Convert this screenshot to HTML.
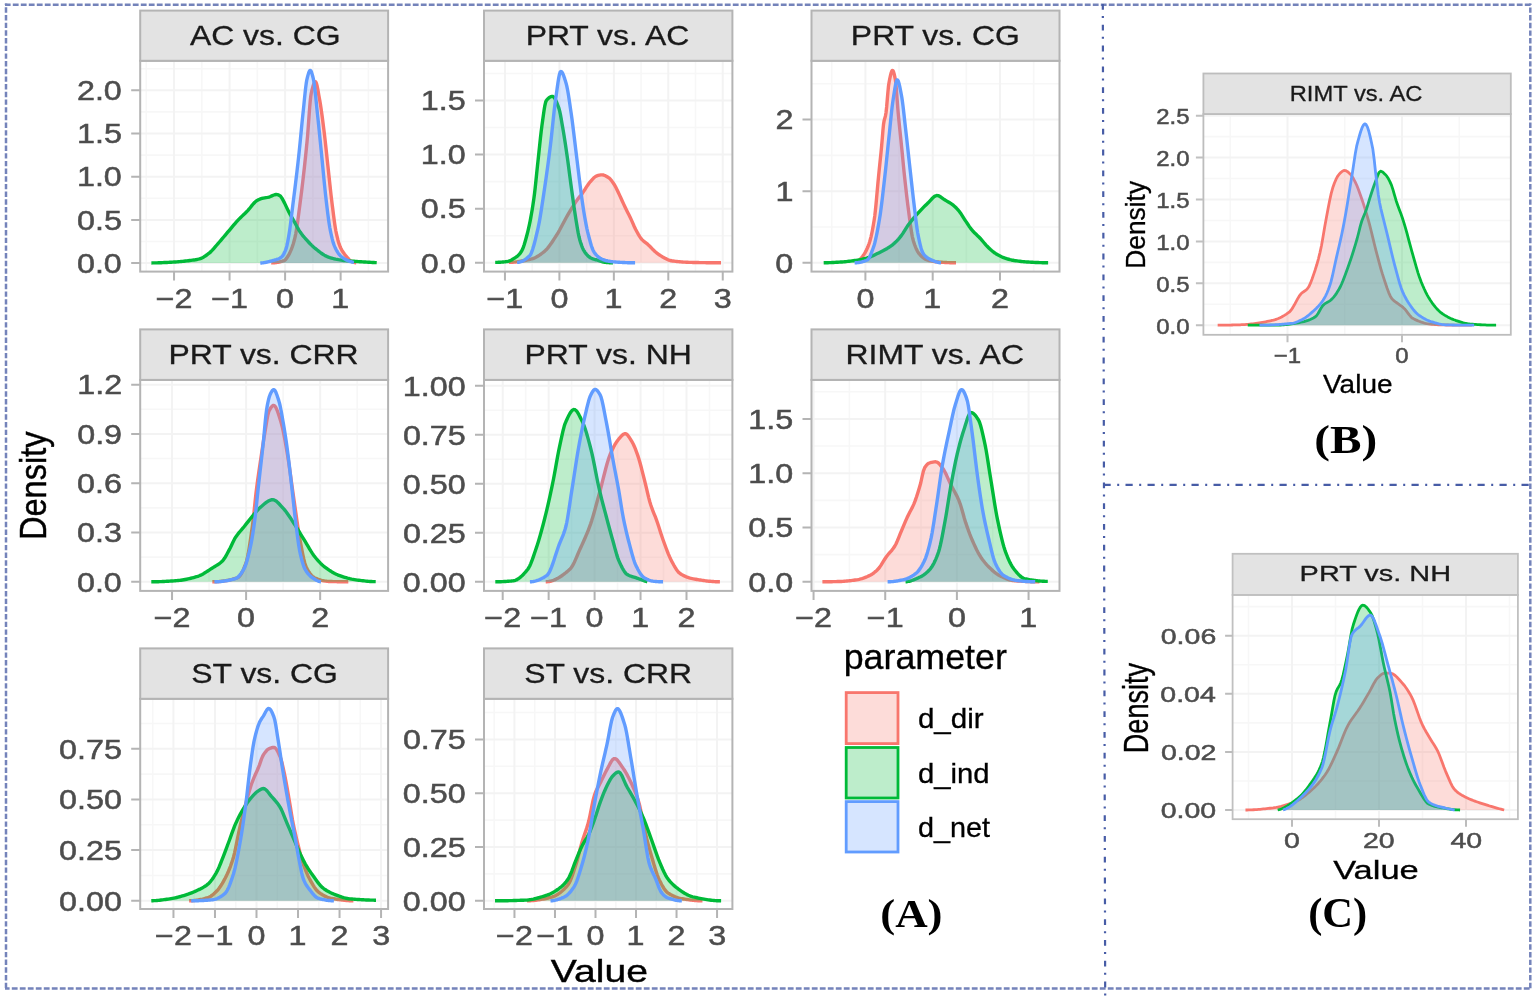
<!DOCTYPE html>
<html><head><meta charset="utf-8"><title>Density plots</title>
<style>html,body{margin:0;padding:0;background:#fff;overflow:hidden;}svg{display:block;}</style>
</head><body>
<svg width="1535" height="999" viewBox="0 0 1535 999">
<rect width="1535" height="999" fill="#fff"/>
<clipPath id="c0"><rect x="140.2" y="60.8" width="247.9" height="210.8"/></clipPath>
<g clip-path="url(#c0)">
<path d="M146.28 60.8 V271.6 M201.81 60.8 V271.6 M257.34 60.8 V271.6 M312.87 60.8 V271.6 M368.4 60.8 V271.6 M140.2 241.5 H388.1 M140.2 198.3 H388.1 M140.2 155.1 H388.1 M140.2 111.9 H388.1 M140.2 68.7 H388.1" stroke="#f7f7f7" stroke-width="1.6" fill="none"/>
<path d="M174.04 60.8 V271.6 M229.57 60.8 V271.6 M285.1 60.8 V271.6 M340.63 60.8 V271.6 M140.2 263.1 H388.1 M140.2 219.9 H388.1 M140.2 176.7 H388.1 M140.2 133.5 H388.1 M140.2 90.3 H388.1" stroke="#f3f3f3" stroke-width="2.0" fill="none"/>
<path d="M271.22 262.93 L271.75 262.92 L272.29 262.91 L272.82 262.89 L273.35 262.86 L273.89 262.83 L274.42 262.78 L274.96 262.73 L275.49 262.67 L276.03 262.6 L276.56 262.52 L277.1 262.44 L277.63 262.34 L278.16 262.24 L278.7 262.13 L279.23 262.01 L279.77 261.89 L280.3 261.75 L280.84 261.61 L281.37 261.46 L281.9 261.3 L282.44 261.14 L282.97 260.96 L283.51 260.78 L284.04 260.59 L284.58 260.36 L285.11 259.98 L285.64 259.46 L286.18 258.81 L286.71 258.07 L287.25 257.26 L287.78 256.4 L288.32 255.51 L288.85 254.61 L289.39 253.62 L289.92 252.56 L290.45 251.4 L290.99 250.16 L291.52 248.82 L292.06 247.38 L292.59 245.84 L293.13 244.19 L293.66 242.44 L294.19 240.56 L294.73 238.56 L295.26 236.22 L295.8 233.5 L296.33 230.43 L296.87 227.06 L297.4 223.44 L297.93 219.61 L298.47 215.63 L299 211.54 L299.54 207.38 L300.07 203.2 L300.61 199.04 L301.14 194.92 L301.68 190.68 L302.21 186.32 L302.74 181.84 L303.28 177.24 L303.81 172.53 L304.35 167.7 L304.88 162.76 L305.42 157.7 L305.95 152.55 L306.48 147.28 L307.02 141.91 L307.55 136.03 L308.09 129.2 L308.62 121.86 L309.16 114.46 L309.69 107.44 L310.22 101.23 L310.76 96.3 L311.29 93.07 L311.83 90.75 L312.36 88.58 L312.9 86.61 L313.43 84.9 L313.97 83.5 L314.5 82.48 L315.03 81.88 L315.57 81.79 L316.1 82.52 L316.64 84.07 L317.17 86.25 L317.71 88.9 L318.24 91.85 L318.77 94.93 L319.31 97.96 L319.84 100.87 L320.38 104.02 L320.91 107.46 L321.45 111.13 L321.98 115.01 L322.51 119.03 L323.05 123.16 L323.58 127.36 L324.12 131.64 L324.65 136.17 L325.19 140.91 L325.72 145.8 L326.26 150.78 L326.79 155.79 L327.32 160.77 L327.86 165.66 L328.39 170.52 L328.93 175.49 L329.46 180.5 L330 185.49 L330.53 190.4 L331.06 195.18 L331.6 199.76 L332.13 204.09 L332.67 208.33 L333.2 212.58 L333.74 216.74 L334.27 220.74 L334.8 224.51 L335.34 227.96 L335.87 231.02 L336.41 233.62 L336.94 235.99 L337.48 238.22 L338.01 240.28 L338.55 242.18 L339.08 243.9 L339.61 245.44 L340.15 246.79 L340.68 247.96 L341.22 249.02 L341.75 250.02 L342.29 250.94 L342.82 251.8 L343.35 252.61 L343.89 253.36 L344.42 254.08 L344.96 254.76 L345.49 255.41 L346.03 256.04 L346.56 256.65 L347.09 257.26 L347.63 257.88 L348.16 258.48 L348.7 259.07 L349.23 259.63 L349.77 260.15 L350.3 260.62 L350.83 261.03 L351.37 261.37 L351.9 261.63 L352.44 261.84 L352.97 262.05 L353.51 262.24 L354.04 262.41 L354.58 262.55 L355.11 262.66 L355.64 262.73 L356.18 262.75 L356.18 263.1 L271.22 263.1 Z" fill="#F8766D" fill-opacity="0.26" stroke="none"/>
<path d="M271.22 262.93 L271.75 262.92 L272.29 262.91 L272.82 262.89 L273.35 262.86 L273.89 262.83 L274.42 262.78 L274.96 262.73 L275.49 262.67 L276.03 262.6 L276.56 262.52 L277.1 262.44 L277.63 262.34 L278.16 262.24 L278.7 262.13 L279.23 262.01 L279.77 261.89 L280.3 261.75 L280.84 261.61 L281.37 261.46 L281.9 261.3 L282.44 261.14 L282.97 260.96 L283.51 260.78 L284.04 260.59 L284.58 260.36 L285.11 259.98 L285.64 259.46 L286.18 258.81 L286.71 258.07 L287.25 257.26 L287.78 256.4 L288.32 255.51 L288.85 254.61 L289.39 253.62 L289.92 252.56 L290.45 251.4 L290.99 250.16 L291.52 248.82 L292.06 247.38 L292.59 245.84 L293.13 244.19 L293.66 242.44 L294.19 240.56 L294.73 238.56 L295.26 236.22 L295.8 233.5 L296.33 230.43 L296.87 227.06 L297.4 223.44 L297.93 219.61 L298.47 215.63 L299 211.54 L299.54 207.38 L300.07 203.2 L300.61 199.04 L301.14 194.92 L301.68 190.68 L302.21 186.32 L302.74 181.84 L303.28 177.24 L303.81 172.53 L304.35 167.7 L304.88 162.76 L305.42 157.7 L305.95 152.55 L306.48 147.28 L307.02 141.91 L307.55 136.03 L308.09 129.2 L308.62 121.86 L309.16 114.46 L309.69 107.44 L310.22 101.23 L310.76 96.3 L311.29 93.07 L311.83 90.75 L312.36 88.58 L312.9 86.61 L313.43 84.9 L313.97 83.5 L314.5 82.48 L315.03 81.88 L315.57 81.79 L316.1 82.52 L316.64 84.07 L317.17 86.25 L317.71 88.9 L318.24 91.85 L318.77 94.93 L319.31 97.96 L319.84 100.87 L320.38 104.02 L320.91 107.46 L321.45 111.13 L321.98 115.01 L322.51 119.03 L323.05 123.16 L323.58 127.36 L324.12 131.64 L324.65 136.17 L325.19 140.91 L325.72 145.8 L326.26 150.78 L326.79 155.79 L327.32 160.77 L327.86 165.66 L328.39 170.52 L328.93 175.49 L329.46 180.5 L330 185.49 L330.53 190.4 L331.06 195.18 L331.6 199.76 L332.13 204.09 L332.67 208.33 L333.2 212.58 L333.74 216.74 L334.27 220.74 L334.8 224.51 L335.34 227.96 L335.87 231.02 L336.41 233.62 L336.94 235.99 L337.48 238.22 L338.01 240.28 L338.55 242.18 L339.08 243.9 L339.61 245.44 L340.15 246.79 L340.68 247.96 L341.22 249.02 L341.75 250.02 L342.29 250.94 L342.82 251.8 L343.35 252.61 L343.89 253.36 L344.42 254.08 L344.96 254.76 L345.49 255.41 L346.03 256.04 L346.56 256.65 L347.09 257.26 L347.63 257.88 L348.16 258.48 L348.7 259.07 L349.23 259.63 L349.77 260.15 L350.3 260.62 L350.83 261.03 L351.37 261.37 L351.9 261.63 L352.44 261.84 L352.97 262.05 L353.51 262.24 L354.04 262.41 L354.58 262.55 L355.11 262.66 L355.64 262.73 L356.18 262.75" fill="none" stroke="#F8766D" stroke-width="3.4" stroke-linejoin="round" stroke-linecap="butt"/>
<path d="M151.38 262.93 L152.8 262.92 L154.22 262.9 L155.64 262.87 L157.05 262.84 L158.47 262.8 L159.89 262.75 L161.3 262.7 L162.72 262.64 L164.14 262.57 L165.56 262.51 L166.97 262.44 L168.39 262.36 L169.81 262.29 L171.23 262.21 L172.64 262.13 L174.06 262.05 L175.48 261.96 L176.89 261.86 L178.31 261.75 L179.73 261.62 L181.15 261.49 L182.56 261.35 L183.98 261.2 L185.4 261.04 L186.81 260.88 L188.23 260.71 L189.65 260.53 L191.07 260.35 L192.48 260.16 L193.9 259.96 L195.32 259.74 L196.74 259.48 L198.15 259.18 L199.57 258.82 L200.99 258.34 L202.4 257.69 L203.82 256.9 L205.24 255.99 L206.66 255.01 L208.07 253.97 L209.49 252.88 L210.91 251.62 L212.32 250.18 L213.74 248.6 L215.16 246.95 L216.58 245.27 L217.99 243.61 L219.41 242 L220.83 240.36 L222.25 238.7 L223.66 237.02 L225.08 235.33 L226.5 233.64 L227.91 231.96 L229.33 230.29 L230.75 228.59 L232.17 226.89 L233.58 225.2 L235 223.54 L236.42 221.92 L237.84 220.37 L239.25 218.89 L240.67 217.48 L242.09 216.11 L243.5 214.76 L244.92 213.4 L246.34 212.01 L247.76 210.57 L249.17 208.96 L250.59 207.21 L252.01 205.43 L253.42 203.73 L254.84 202.22 L256.26 201 L257.68 200.16 L259.09 199.49 L260.51 198.92 L261.93 198.45 L263.35 198.08 L264.76 197.81 L266.18 197.61 L267.6 197.39 L269.01 197.07 L270.43 196.53 L271.85 195.88 L273.27 195.24 L274.68 194.74 L276.1 194.5 L277.52 194.64 L278.94 195.13 L280.35 195.88 L281.77 197.91 L283.19 200.42 L284.6 203.14 L286.02 206.11 L287.44 209.13 L288.86 212.01 L290.27 214.65 L291.69 217.18 L293.11 219.67 L294.52 222.17 L295.94 224.77 L297.36 227.42 L298.78 229.93 L300.19 232.09 L301.61 234.04 L303.03 235.83 L304.45 237.52 L305.86 239.13 L307.28 240.71 L308.7 242.24 L310.11 243.71 L311.53 245.12 L312.95 246.46 L314.37 247.71 L315.78 248.88 L317.2 250.02 L318.62 251.14 L320.04 252.23 L321.45 253.27 L322.87 254.24 L324.29 255.13 L325.7 255.91 L327.12 256.57 L328.54 257.1 L329.96 257.58 L331.37 258.02 L332.79 258.43 L334.21 258.79 L335.62 259.13 L337.04 259.42 L338.46 259.69 L339.88 259.91 L341.29 260.11 L342.71 260.29 L344.13 260.45 L345.55 260.59 L346.96 260.73 L348.38 260.85 L349.8 260.97 L351.21 261.08 L352.63 261.19 L354.05 261.3 L355.47 261.41 L356.88 261.51 L358.3 261.61 L359.72 261.7 L361.13 261.79 L362.55 261.88 L363.97 261.96 L365.39 262.05 L366.8 262.13 L368.22 262.21 L369.64 262.3 L371.06 262.37 L372.47 262.45 L373.89 262.52 L375.31 262.6 L376.72 262.67 L376.72 263.1 L151.38 263.1 Z" fill="#00BA38" fill-opacity="0.26" stroke="none"/>
<path d="M151.38 262.93 L152.8 262.92 L154.22 262.9 L155.64 262.87 L157.05 262.84 L158.47 262.8 L159.89 262.75 L161.3 262.7 L162.72 262.64 L164.14 262.57 L165.56 262.51 L166.97 262.44 L168.39 262.36 L169.81 262.29 L171.23 262.21 L172.64 262.13 L174.06 262.05 L175.48 261.96 L176.89 261.86 L178.31 261.75 L179.73 261.62 L181.15 261.49 L182.56 261.35 L183.98 261.2 L185.4 261.04 L186.81 260.88 L188.23 260.71 L189.65 260.53 L191.07 260.35 L192.48 260.16 L193.9 259.96 L195.32 259.74 L196.74 259.48 L198.15 259.18 L199.57 258.82 L200.99 258.34 L202.4 257.69 L203.82 256.9 L205.24 255.99 L206.66 255.01 L208.07 253.97 L209.49 252.88 L210.91 251.62 L212.32 250.18 L213.74 248.6 L215.16 246.95 L216.58 245.27 L217.99 243.61 L219.41 242 L220.83 240.36 L222.25 238.7 L223.66 237.02 L225.08 235.33 L226.5 233.64 L227.91 231.96 L229.33 230.29 L230.75 228.59 L232.17 226.89 L233.58 225.2 L235 223.54 L236.42 221.92 L237.84 220.37 L239.25 218.89 L240.67 217.48 L242.09 216.11 L243.5 214.76 L244.92 213.4 L246.34 212.01 L247.76 210.57 L249.17 208.96 L250.59 207.21 L252.01 205.43 L253.42 203.73 L254.84 202.22 L256.26 201 L257.68 200.16 L259.09 199.49 L260.51 198.92 L261.93 198.45 L263.35 198.08 L264.76 197.81 L266.18 197.61 L267.6 197.39 L269.01 197.07 L270.43 196.53 L271.85 195.88 L273.27 195.24 L274.68 194.74 L276.1 194.5 L277.52 194.64 L278.94 195.13 L280.35 195.88 L281.77 197.91 L283.19 200.42 L284.6 203.14 L286.02 206.11 L287.44 209.13 L288.86 212.01 L290.27 214.65 L291.69 217.18 L293.11 219.67 L294.52 222.17 L295.94 224.77 L297.36 227.42 L298.78 229.93 L300.19 232.09 L301.61 234.04 L303.03 235.83 L304.45 237.52 L305.86 239.13 L307.28 240.71 L308.7 242.24 L310.11 243.71 L311.53 245.12 L312.95 246.46 L314.37 247.71 L315.78 248.88 L317.2 250.02 L318.62 251.14 L320.04 252.23 L321.45 253.27 L322.87 254.24 L324.29 255.13 L325.7 255.91 L327.12 256.57 L328.54 257.1 L329.96 257.58 L331.37 258.02 L332.79 258.43 L334.21 258.79 L335.62 259.13 L337.04 259.42 L338.46 259.69 L339.88 259.91 L341.29 260.11 L342.71 260.29 L344.13 260.45 L345.55 260.59 L346.96 260.73 L348.38 260.85 L349.8 260.97 L351.21 261.08 L352.63 261.19 L354.05 261.3 L355.47 261.41 L356.88 261.51 L358.3 261.61 L359.72 261.7 L361.13 261.79 L362.55 261.88 L363.97 261.96 L365.39 262.05 L366.8 262.13 L368.22 262.21 L369.64 262.3 L371.06 262.37 L372.47 262.45 L373.89 262.52 L375.31 262.6 L376.72 262.67" fill="none" stroke="#00BA38" stroke-width="3.4" stroke-linejoin="round" stroke-linecap="butt"/>
<path d="M260.28 263.1 L260.87 263.05 L261.46 262.99 L262.05 262.92 L262.63 262.84 L263.22 262.76 L263.81 262.66 L264.4 262.56 L264.99 262.46 L265.58 262.35 L266.17 262.23 L266.76 262.1 L267.35 261.97 L267.94 261.84 L268.53 261.7 L269.12 261.56 L269.7 261.41 L270.29 261.26 L270.88 261.11 L271.47 260.95 L272.06 260.79 L272.65 260.63 L273.24 260.47 L273.83 260.31 L274.42 260.15 L275.01 259.98 L275.6 259.81 L276.19 259.63 L276.78 259.43 L277.36 259.22 L277.95 258.99 L278.54 258.74 L279.13 258.46 L279.72 258.15 L280.31 257.82 L280.9 257.45 L281.49 257.01 L282.08 256.43 L282.67 255.69 L283.26 254.81 L283.85 253.79 L284.43 252.63 L285.02 251.35 L285.61 249.94 L286.2 248.34 L286.79 246.15 L287.38 243.45 L287.97 240.38 L288.56 237.07 L289.15 233.63 L289.74 229.73 L290.33 225.36 L290.92 220.67 L291.5 215.82 L292.09 210.96 L292.68 206.24 L293.27 201.57 L293.86 196.88 L294.45 192.18 L295.04 187.44 L295.63 182.64 L296.22 177.78 L296.81 172.84 L297.4 167.81 L297.99 162.66 L298.57 157.39 L299.16 151.93 L299.75 146.14 L300.34 140.12 L300.93 133.99 L301.52 127.88 L302.11 121.9 L302.7 116.17 L303.29 110.63 L303.88 104.81 L304.47 98.9 L305.06 93.17 L305.64 87.9 L306.23 83.37 L306.82 79.83 L307.41 77.36 L308 75.11 L308.59 73.11 L309.18 71.54 L309.77 70.57 L310.36 70.37 L310.95 71.01 L311.54 72.32 L312.13 74.15 L312.71 76.3 L313.3 78.62 L313.89 81.6 L314.48 85.71 L315.07 90.69 L315.66 96.25 L316.25 102.11 L316.84 108 L317.43 113.64 L318.02 119.12 L318.61 124.78 L319.2 130.58 L319.78 136.47 L320.37 142.42 L320.96 148.38 L321.55 154.29 L322.14 160.22 L322.73 166.32 L323.32 172.5 L323.91 178.65 L324.5 184.66 L325.09 190.43 L325.68 195.85 L326.27 200.93 L326.86 205.95 L327.44 210.86 L328.03 215.55 L328.62 219.95 L329.21 223.96 L329.8 227.51 L330.39 230.59 L330.98 233.47 L331.57 236.17 L332.16 238.66 L332.75 240.92 L333.34 242.91 L333.93 244.63 L334.51 246.08 L335.1 247.42 L335.69 248.68 L336.28 249.86 L336.87 250.95 L337.46 251.96 L338.05 252.89 L338.64 253.73 L339.23 254.49 L339.82 255.16 L340.41 255.75 L341 256.29 L341.58 256.79 L342.17 257.26 L342.76 257.71 L343.35 258.13 L343.94 258.53 L344.53 258.9 L345.12 259.25 L345.71 259.57 L346.3 259.88 L346.89 260.16 L347.48 260.43 L348.07 260.68 L348.65 260.91 L349.24 261.13 L349.83 261.34 L350.42 261.54 L351.01 261.72 L351.6 261.89 L352.19 262.05 L352.78 262.19 L353.37 262.31 L353.96 262.41 L353.96 263.1 L260.28 263.1 Z" fill="#619CFF" fill-opacity="0.26" stroke="none"/>
<path d="M260.28 263.1 L260.87 263.05 L261.46 262.99 L262.05 262.92 L262.63 262.84 L263.22 262.76 L263.81 262.66 L264.4 262.56 L264.99 262.46 L265.58 262.35 L266.17 262.23 L266.76 262.1 L267.35 261.97 L267.94 261.84 L268.53 261.7 L269.12 261.56 L269.7 261.41 L270.29 261.26 L270.88 261.11 L271.47 260.95 L272.06 260.79 L272.65 260.63 L273.24 260.47 L273.83 260.31 L274.42 260.15 L275.01 259.98 L275.6 259.81 L276.19 259.63 L276.78 259.43 L277.36 259.22 L277.95 258.99 L278.54 258.74 L279.13 258.46 L279.72 258.15 L280.31 257.82 L280.9 257.45 L281.49 257.01 L282.08 256.43 L282.67 255.69 L283.26 254.81 L283.85 253.79 L284.43 252.63 L285.02 251.35 L285.61 249.94 L286.2 248.34 L286.79 246.15 L287.38 243.45 L287.97 240.38 L288.56 237.07 L289.15 233.63 L289.74 229.73 L290.33 225.36 L290.92 220.67 L291.5 215.82 L292.09 210.96 L292.68 206.24 L293.27 201.57 L293.86 196.88 L294.45 192.18 L295.04 187.44 L295.63 182.64 L296.22 177.78 L296.81 172.84 L297.4 167.81 L297.99 162.66 L298.57 157.39 L299.16 151.93 L299.75 146.14 L300.34 140.12 L300.93 133.99 L301.52 127.88 L302.11 121.9 L302.7 116.17 L303.29 110.63 L303.88 104.81 L304.47 98.9 L305.06 93.17 L305.64 87.9 L306.23 83.37 L306.82 79.83 L307.41 77.36 L308 75.11 L308.59 73.11 L309.18 71.54 L309.77 70.57 L310.36 70.37 L310.95 71.01 L311.54 72.32 L312.13 74.15 L312.71 76.3 L313.3 78.62 L313.89 81.6 L314.48 85.71 L315.07 90.69 L315.66 96.25 L316.25 102.11 L316.84 108 L317.43 113.64 L318.02 119.12 L318.61 124.78 L319.2 130.58 L319.78 136.47 L320.37 142.42 L320.96 148.38 L321.55 154.29 L322.14 160.22 L322.73 166.32 L323.32 172.5 L323.91 178.65 L324.5 184.66 L325.09 190.43 L325.68 195.85 L326.27 200.93 L326.86 205.95 L327.44 210.86 L328.03 215.55 L328.62 219.95 L329.21 223.96 L329.8 227.51 L330.39 230.59 L330.98 233.47 L331.57 236.17 L332.16 238.66 L332.75 240.92 L333.34 242.91 L333.93 244.63 L334.51 246.08 L335.1 247.42 L335.69 248.68 L336.28 249.86 L336.87 250.95 L337.46 251.96 L338.05 252.89 L338.64 253.73 L339.23 254.49 L339.82 255.16 L340.41 255.75 L341 256.29 L341.58 256.79 L342.17 257.26 L342.76 257.71 L343.35 258.13 L343.94 258.53 L344.53 258.9 L345.12 259.25 L345.71 259.57 L346.3 259.88 L346.89 260.16 L347.48 260.43 L348.07 260.68 L348.65 260.91 L349.24 261.13 L349.83 261.34 L350.42 261.54 L351.01 261.72 L351.6 261.89 L352.19 262.05 L352.78 262.19 L353.37 262.31 L353.96 262.41" fill="none" stroke="#619CFF" stroke-width="3.4" stroke-linejoin="round" stroke-linecap="butt"/>
</g>
<rect x="140.2" y="60.8" width="247.9" height="210.8" fill="none" stroke="#b4b4b4" stroke-width="2"/>
<rect x="140.2" y="10.6" width="247.9" height="50.2" fill="#e3e3e3" stroke="#b4b4b4" stroke-width="2"/>
<text transform="translate(189.96 45.22) scale(1.1520 1)" font-size="27.7" font-family='"Liberation Sans", Arial, sans-serif' fill="#1a1a1a" stroke="#1a1a1a" stroke-width="0.3">AC vs. CG</text>
<path d="M174.04 271.6 V280.6 M229.57 271.6 V280.6 M285.1 271.6 V280.6 M340.63 271.6 V280.6 M131.2 263.1 H140.2 M131.2 219.9 H140.2 M131.2 176.7 H140.2 M131.2 133.5 H140.2 M131.2 90.3 H140.2" stroke="#b4b4b4" stroke-width="2" fill="none"/>
<text transform="translate(155.64 307.56) scale(1.2000 1)" font-size="26.9" font-family='"Liberation Sans", Arial, sans-serif' fill="#4d4d4d" stroke="#4d4d4d" stroke-width="0.5">−2</text>
<text transform="translate(211.13 307.56) scale(1.2000 1)" font-size="26.9" font-family='"Liberation Sans", Arial, sans-serif' fill="#4d4d4d" stroke="#4d4d4d" stroke-width="0.5">−1</text>
<text transform="translate(276.1 307.56) scale(1.2000 1)" font-size="26.9" font-family='"Liberation Sans", Arial, sans-serif' fill="#4d4d4d" stroke="#4d4d4d" stroke-width="0.5">0</text>
<text transform="translate(331.23 307.56) scale(1.2000 1)" font-size="26.9" font-family='"Liberation Sans", Arial, sans-serif' fill="#4d4d4d" stroke="#4d4d4d" stroke-width="0.5">1</text>
<text transform="translate(76.94 272.85) scale(1.2000 1)" font-size="26.9" font-family='"Liberation Sans", Arial, sans-serif' fill="#4d4d4d" stroke="#4d4d4d" stroke-width="0.5">0.0</text>
<text transform="translate(77.02 229.65) scale(1.2000 1)" font-size="26.9" font-family='"Liberation Sans", Arial, sans-serif' fill="#4d4d4d" stroke="#4d4d4d" stroke-width="0.5">0.5</text>
<text transform="translate(76.94 186.45) scale(1.2000 1)" font-size="26.9" font-family='"Liberation Sans", Arial, sans-serif' fill="#4d4d4d" stroke="#4d4d4d" stroke-width="0.5">1.0</text>
<text transform="translate(77.02 143.25) scale(1.2000 1)" font-size="26.9" font-family='"Liberation Sans", Arial, sans-serif' fill="#4d4d4d" stroke="#4d4d4d" stroke-width="0.5">1.5</text>
<text transform="translate(76.94 100.05) scale(1.2000 1)" font-size="26.9" font-family='"Liberation Sans", Arial, sans-serif' fill="#4d4d4d" stroke="#4d4d4d" stroke-width="0.5">2.0</text>
<clipPath id="c1"><rect x="484" y="60.8" width="248.4" height="210.8"/></clipPath>
<g clip-path="url(#c1)">
<path d="M532.17 60.8 V271.6 M586.62 60.8 V271.6 M641.08 60.8 V271.6 M695.52 60.8 V271.6 M484 235.75 H732.4 M484 181.65 H732.4 M484 127.55 H732.4 M484 73.45 H732.4" stroke="#f7f7f7" stroke-width="1.6" fill="none"/>
<path d="M504.95 60.8 V271.6 M559.4 60.8 V271.6 M613.85 60.8 V271.6 M668.3 60.8 V271.6 M722.75 60.8 V271.6 M484 262.8 H732.4 M484 208.7 H732.4 M484 154.6 H732.4 M484 100.5 H732.4" stroke="#f3f3f3" stroke-width="2.0" fill="none"/>
<path d="M508.76 262.37 L510.1 262.35 L511.43 262.31 L512.77 262.23 L514.1 262.13 L515.44 262.01 L516.77 261.86 L518.11 261.68 L519.44 261.49 L520.78 261.27 L522.11 261.04 L523.45 260.79 L524.78 260.52 L526.11 260.23 L527.45 259.93 L528.78 259.62 L530.12 259.3 L531.45 258.96 L532.79 258.58 L534.12 258.09 L535.46 257.49 L536.79 256.8 L538.13 256.02 L539.46 255.16 L540.8 254.23 L542.13 253.24 L543.47 252.2 L544.8 251.1 L546.14 249.8 L547.47 248.31 L548.81 246.65 L550.14 244.85 L551.48 242.94 L552.81 240.95 L554.15 238.91 L555.48 236.84 L556.82 234.78 L558.15 232.6 L559.49 230.25 L560.82 227.78 L562.16 225.25 L563.49 222.71 L564.83 220.19 L566.16 217.76 L567.5 215.45 L568.83 213.18 L570.17 210.93 L571.5 208.7 L572.84 206.52 L574.17 204.4 L575.51 202.35 L576.84 200.4 L578.18 198.57 L579.51 196.92 L580.85 195.32 L582.18 193.6 L583.51 191.65 L584.85 189.55 L586.18 187.42 L587.52 185.4 L588.85 183.54 L590.19 181.8 L591.52 180.3 L592.86 178.85 L594.19 177.52 L595.53 176.49 L596.86 175.89 L598.2 175.47 L599.53 175.13 L600.87 174.9 L602.2 174.84 L603.54 175.04 L604.87 175.5 L606.21 176.17 L607.54 176.96 L608.88 177.82 L610.21 179.02 L611.55 180.62 L612.88 182.48 L614.22 184.47 L615.55 186.78 L616.89 189.45 L618.22 192.3 L619.56 195.15 L620.89 198 L622.23 200.95 L623.56 203.92 L624.9 206.81 L626.23 209.56 L627.57 212.21 L628.9 214.84 L630.24 217.53 L631.57 220.38 L632.91 223.42 L634.24 226.46 L635.58 229.29 L636.91 231.8 L638.24 234.19 L639.58 236.41 L640.91 238.34 L642.25 239.87 L643.58 241.11 L644.92 242.16 L646.25 243.16 L647.59 244.21 L648.92 245.41 L650.26 246.77 L651.59 248.19 L652.93 249.59 L654.26 250.88 L655.6 252.01 L656.93 253.07 L658.27 254.07 L659.6 255.02 L660.94 255.89 L662.27 256.68 L663.61 257.41 L664.94 258.15 L666.28 258.87 L667.61 259.52 L668.95 260.07 L670.28 260.5 L671.62 260.78 L672.95 260.98 L674.29 261.16 L675.62 261.34 L676.96 261.49 L678.29 261.64 L679.63 261.77 L680.96 261.88 L682.3 261.99 L683.63 262.08 L684.97 262.16 L686.3 262.23 L687.64 262.29 L688.97 262.34 L690.31 262.37 L691.64 262.41 L692.98 262.44 L694.31 262.47 L695.64 262.5 L696.98 262.53 L698.31 262.56 L699.65 262.58 L700.98 262.61 L702.32 262.63 L703.65 262.65 L704.99 262.67 L706.32 262.69 L707.66 262.71 L708.99 262.73 L710.33 262.74 L711.66 262.76 L713 262.77 L714.33 262.78 L715.67 262.79 L717 262.79 L718.34 262.8 L719.67 262.8 L721.01 262.8 L721.01 262.8 L508.76 262.8 Z" fill="#F8766D" fill-opacity="0.26" stroke="none"/>
<path d="M508.76 262.37 L510.1 262.35 L511.43 262.31 L512.77 262.23 L514.1 262.13 L515.44 262.01 L516.77 261.86 L518.11 261.68 L519.44 261.49 L520.78 261.27 L522.11 261.04 L523.45 260.79 L524.78 260.52 L526.11 260.23 L527.45 259.93 L528.78 259.62 L530.12 259.3 L531.45 258.96 L532.79 258.58 L534.12 258.09 L535.46 257.49 L536.79 256.8 L538.13 256.02 L539.46 255.16 L540.8 254.23 L542.13 253.24 L543.47 252.2 L544.8 251.1 L546.14 249.8 L547.47 248.31 L548.81 246.65 L550.14 244.85 L551.48 242.94 L552.81 240.95 L554.15 238.91 L555.48 236.84 L556.82 234.78 L558.15 232.6 L559.49 230.25 L560.82 227.78 L562.16 225.25 L563.49 222.71 L564.83 220.19 L566.16 217.76 L567.5 215.45 L568.83 213.18 L570.17 210.93 L571.5 208.7 L572.84 206.52 L574.17 204.4 L575.51 202.35 L576.84 200.4 L578.18 198.57 L579.51 196.92 L580.85 195.32 L582.18 193.6 L583.51 191.65 L584.85 189.55 L586.18 187.42 L587.52 185.4 L588.85 183.54 L590.19 181.8 L591.52 180.3 L592.86 178.85 L594.19 177.52 L595.53 176.49 L596.86 175.89 L598.2 175.47 L599.53 175.13 L600.87 174.9 L602.2 174.84 L603.54 175.04 L604.87 175.5 L606.21 176.17 L607.54 176.96 L608.88 177.82 L610.21 179.02 L611.55 180.62 L612.88 182.48 L614.22 184.47 L615.55 186.78 L616.89 189.45 L618.22 192.3 L619.56 195.15 L620.89 198 L622.23 200.95 L623.56 203.92 L624.9 206.81 L626.23 209.56 L627.57 212.21 L628.9 214.84 L630.24 217.53 L631.57 220.38 L632.91 223.42 L634.24 226.46 L635.58 229.29 L636.91 231.8 L638.24 234.19 L639.58 236.41 L640.91 238.34 L642.25 239.87 L643.58 241.11 L644.92 242.16 L646.25 243.16 L647.59 244.21 L648.92 245.41 L650.26 246.77 L651.59 248.19 L652.93 249.59 L654.26 250.88 L655.6 252.01 L656.93 253.07 L658.27 254.07 L659.6 255.02 L660.94 255.89 L662.27 256.68 L663.61 257.41 L664.94 258.15 L666.28 258.87 L667.61 259.52 L668.95 260.07 L670.28 260.5 L671.62 260.78 L672.95 260.98 L674.29 261.16 L675.62 261.34 L676.96 261.49 L678.29 261.64 L679.63 261.77 L680.96 261.88 L682.3 261.99 L683.63 262.08 L684.97 262.16 L686.3 262.23 L687.64 262.29 L688.97 262.34 L690.31 262.37 L691.64 262.41 L692.98 262.44 L694.31 262.47 L695.64 262.5 L696.98 262.53 L698.31 262.56 L699.65 262.58 L700.98 262.61 L702.32 262.63 L703.65 262.65 L704.99 262.67 L706.32 262.69 L707.66 262.71 L708.99 262.73 L710.33 262.74 L711.66 262.76 L713 262.77 L714.33 262.78 L715.67 262.79 L717 262.79 L718.34 262.8 L719.67 262.8 L721.01 262.8" fill="none" stroke="#F8766D" stroke-width="3.4" stroke-linejoin="round" stroke-linecap="butt"/>
<path d="M495.2 262.37 L495.94 262.36 L496.69 262.35 L497.43 262.33 L498.17 262.31 L498.91 262.28 L499.65 262.24 L500.39 262.2 L501.13 262.15 L501.87 262.09 L502.61 262.03 L503.36 261.97 L504.1 261.89 L504.84 261.82 L505.58 261.74 L506.32 261.65 L507.06 261.56 L507.8 261.41 L508.54 261.2 L509.28 260.94 L510.02 260.64 L510.77 260.3 L511.51 259.92 L512.25 259.51 L512.99 259.08 L513.73 258.63 L514.47 258.17 L515.21 257.7 L515.95 257.2 L516.69 256.66 L517.44 256.06 L518.18 255.39 L518.92 254.64 L519.66 253.82 L520.4 252.89 L521.14 251.87 L521.88 250.64 L522.62 249.06 L523.36 247.15 L524.11 244.98 L524.85 242.58 L525.59 239.99 L526.33 237.27 L527.07 234.46 L527.81 231.58 L528.55 228.48 L529.29 225.14 L530.03 221.54 L530.77 217.68 L531.52 213.56 L532.26 209.18 L533 204.53 L533.74 199.61 L534.48 194.02 L535.22 187.54 L535.96 180.51 L536.7 173.25 L537.44 166.09 L538.19 159.28 L538.93 152.3 L539.67 145.21 L540.41 138.27 L541.15 131.75 L541.89 125.91 L542.63 120.61 L543.37 115.18 L544.11 110.03 L544.86 105.57 L545.6 102.26 L546.34 100.53 L547.08 99.64 L547.82 98.84 L548.56 98.15 L549.3 97.56 L550.04 97.09 L550.78 96.73 L551.52 96.5 L552.27 96.39 L553.01 96.5 L553.75 97.04 L554.49 97.95 L555.23 99.2 L555.97 100.71 L556.71 102.44 L557.45 104.33 L558.19 106.33 L558.94 108.41 L559.68 111.17 L560.42 114.66 L561.16 118.66 L561.9 122.93 L562.64 127.24 L563.38 131.5 L564.12 136 L564.86 140.73 L565.6 145.62 L566.35 150.64 L567.09 155.75 L567.83 161.03 L568.57 166.54 L569.31 172.19 L570.05 177.85 L570.79 183.44 L571.53 188.87 L572.27 194.32 L573.02 199.77 L573.76 205.12 L574.5 210.26 L575.24 215.11 L575.98 219.72 L576.72 224.33 L577.46 228.77 L578.2 232.88 L578.94 236.48 L579.69 239.4 L580.43 241.9 L581.17 244.19 L581.91 246.27 L582.65 248.11 L583.39 249.71 L584.13 251.04 L584.87 252.13 L585.61 253.14 L586.35 254.07 L587.1 254.93 L587.84 255.7 L588.58 256.39 L589.32 256.99 L590.06 257.51 L590.8 257.95 L591.54 258.3 L592.28 258.61 L593.02 258.88 L593.77 259.13 L594.51 259.35 L595.25 259.55 L595.99 259.76 L596.73 259.96 L597.47 260.17 L598.21 260.4 L598.95 260.65 L599.69 260.9 L600.44 261.16 L601.18 261.4 L601.92 261.64 L602.66 261.85 L603.4 262.04 L604.14 262.2 L604.88 262.32 L605.62 262.4 L606.36 262.46 L607.1 262.53 L607.85 262.58 L608.59 262.64 L609.33 262.68 L610.07 262.72 L610.81 262.76 L611.55 262.78 L612.29 262.79 L613.03 262.8 L613.03 262.8 L495.2 262.8 Z" fill="#00BA38" fill-opacity="0.26" stroke="none"/>
<path d="M495.2 262.37 L495.94 262.36 L496.69 262.35 L497.43 262.33 L498.17 262.31 L498.91 262.28 L499.65 262.24 L500.39 262.2 L501.13 262.15 L501.87 262.09 L502.61 262.03 L503.36 261.97 L504.1 261.89 L504.84 261.82 L505.58 261.74 L506.32 261.65 L507.06 261.56 L507.8 261.41 L508.54 261.2 L509.28 260.94 L510.02 260.64 L510.77 260.3 L511.51 259.92 L512.25 259.51 L512.99 259.08 L513.73 258.63 L514.47 258.17 L515.21 257.7 L515.95 257.2 L516.69 256.66 L517.44 256.06 L518.18 255.39 L518.92 254.64 L519.66 253.82 L520.4 252.89 L521.14 251.87 L521.88 250.64 L522.62 249.06 L523.36 247.15 L524.11 244.98 L524.85 242.58 L525.59 239.99 L526.33 237.27 L527.07 234.46 L527.81 231.58 L528.55 228.48 L529.29 225.14 L530.03 221.54 L530.77 217.68 L531.52 213.56 L532.26 209.18 L533 204.53 L533.74 199.61 L534.48 194.02 L535.22 187.54 L535.96 180.51 L536.7 173.25 L537.44 166.09 L538.19 159.28 L538.93 152.3 L539.67 145.21 L540.41 138.27 L541.15 131.75 L541.89 125.91 L542.63 120.61 L543.37 115.18 L544.11 110.03 L544.86 105.57 L545.6 102.26 L546.34 100.53 L547.08 99.64 L547.82 98.84 L548.56 98.15 L549.3 97.56 L550.04 97.09 L550.78 96.73 L551.52 96.5 L552.27 96.39 L553.01 96.5 L553.75 97.04 L554.49 97.95 L555.23 99.2 L555.97 100.71 L556.71 102.44 L557.45 104.33 L558.19 106.33 L558.94 108.41 L559.68 111.17 L560.42 114.66 L561.16 118.66 L561.9 122.93 L562.64 127.24 L563.38 131.5 L564.12 136 L564.86 140.73 L565.6 145.62 L566.35 150.64 L567.09 155.75 L567.83 161.03 L568.57 166.54 L569.31 172.19 L570.05 177.85 L570.79 183.44 L571.53 188.87 L572.27 194.32 L573.02 199.77 L573.76 205.12 L574.5 210.26 L575.24 215.11 L575.98 219.72 L576.72 224.33 L577.46 228.77 L578.2 232.88 L578.94 236.48 L579.69 239.4 L580.43 241.9 L581.17 244.19 L581.91 246.27 L582.65 248.11 L583.39 249.71 L584.13 251.04 L584.87 252.13 L585.61 253.14 L586.35 254.07 L587.1 254.93 L587.84 255.7 L588.58 256.39 L589.32 256.99 L590.06 257.51 L590.8 257.95 L591.54 258.3 L592.28 258.61 L593.02 258.88 L593.77 259.13 L594.51 259.35 L595.25 259.55 L595.99 259.76 L596.73 259.96 L597.47 260.17 L598.21 260.4 L598.95 260.65 L599.69 260.9 L600.44 261.16 L601.18 261.4 L601.92 261.64 L602.66 261.85 L603.4 262.04 L604.14 262.2 L604.88 262.32 L605.62 262.4 L606.36 262.46 L607.1 262.53 L607.85 262.58 L608.59 262.64 L609.33 262.68 L610.07 262.72 L610.81 262.76 L611.55 262.78 L612.29 262.79 L613.03 262.8" fill="none" stroke="#00BA38" stroke-width="3.4" stroke-linejoin="round" stroke-linecap="butt"/>
<path d="M517.09 262.37 L517.83 262.34 L518.58 262.26 L519.32 262.13 L520.06 261.94 L520.8 261.71 L521.54 261.43 L522.29 261.11 L523.03 260.74 L523.77 260.32 L524.51 259.87 L525.26 259.38 L526 258.85 L526.74 258.28 L527.48 257.68 L528.22 257.04 L528.97 256.38 L529.71 255.68 L530.45 254.68 L531.19 253.25 L531.93 251.45 L532.68 249.3 L533.42 246.87 L534.16 244.2 L534.9 241.33 L535.64 238.31 L536.39 235.18 L537.13 232 L537.87 228.81 L538.61 225.4 L539.36 221.57 L540.1 217.37 L540.84 212.89 L541.58 208.19 L542.32 203.34 L543.07 198.4 L543.81 193.46 L544.55 188.55 L545.29 183.53 L546.03 178.38 L546.78 173.11 L547.52 167.71 L548.26 162.18 L549 156.53 L549.74 150.75 L550.49 144.83 L551.23 138.44 L551.97 131.53 L552.71 124.39 L553.46 117.28 L554.2 110.48 L554.94 104.27 L555.68 98.9 L556.42 93.65 L557.17 88.24 L557.91 83.02 L558.65 78.36 L559.39 74.63 L560.13 72.19 L560.88 71.4 L561.62 71.8 L562.36 72.81 L563.1 74.32 L563.84 76.22 L564.59 78.39 L565.33 80.73 L566.07 83.13 L566.81 86.06 L567.55 89.76 L568.3 94.06 L569.04 98.81 L569.78 103.84 L570.52 108.99 L571.27 114.1 L572.01 119.36 L572.75 125 L573.49 130.93 L574.23 137.03 L574.98 143.21 L575.72 149.36 L576.46 155.38 L577.2 161.37 L577.94 167.47 L578.69 173.6 L579.43 179.69 L580.17 185.66 L580.91 191.44 L581.65 196.95 L582.4 202.2 L583.14 207.26 L583.88 212.02 L584.62 216.41 L585.37 220.62 L586.11 224.62 L586.85 228.34 L587.59 231.67 L588.33 234.62 L589.08 237.49 L589.82 240.28 L590.56 242.94 L591.3 245.42 L592.04 247.66 L592.79 249.62 L593.53 251.24 L594.27 252.48 L595.01 253.45 L595.75 254.35 L596.5 255.17 L597.24 255.92 L597.98 256.59 L598.72 257.2 L599.46 257.74 L600.21 258.22 L600.95 258.63 L601.69 258.98 L602.43 259.28 L603.18 259.56 L603.92 259.82 L604.66 260.07 L605.4 260.31 L606.14 260.53 L606.89 260.74 L607.63 260.93 L608.37 261.1 L609.11 261.26 L609.85 261.41 L610.6 261.53 L611.34 261.64 L612.08 261.73 L612.82 261.81 L613.56 261.87 L614.31 261.93 L615.05 261.98 L615.79 262.04 L616.53 262.09 L617.28 262.15 L618.02 262.2 L618.76 262.24 L619.5 262.29 L620.24 262.34 L620.99 262.38 L621.73 262.42 L622.47 262.46 L623.21 262.5 L623.95 262.53 L624.7 262.57 L625.44 262.6 L626.18 262.63 L626.92 262.65 L627.66 262.68 L628.41 262.7 L629.15 262.72 L629.89 262.74 L630.63 262.76 L631.38 262.77 L632.12 262.78 L632.86 262.79 L633.6 262.79 L634.34 262.8 L635.09 262.8 L635.09 262.8 L517.09 262.8 Z" fill="#619CFF" fill-opacity="0.26" stroke="none"/>
<path d="M517.09 262.37 L517.83 262.34 L518.58 262.26 L519.32 262.13 L520.06 261.94 L520.8 261.71 L521.54 261.43 L522.29 261.11 L523.03 260.74 L523.77 260.32 L524.51 259.87 L525.26 259.38 L526 258.85 L526.74 258.28 L527.48 257.68 L528.22 257.04 L528.97 256.38 L529.71 255.68 L530.45 254.68 L531.19 253.25 L531.93 251.45 L532.68 249.3 L533.42 246.87 L534.16 244.2 L534.9 241.33 L535.64 238.31 L536.39 235.18 L537.13 232 L537.87 228.81 L538.61 225.4 L539.36 221.57 L540.1 217.37 L540.84 212.89 L541.58 208.19 L542.32 203.34 L543.07 198.4 L543.81 193.46 L544.55 188.55 L545.29 183.53 L546.03 178.38 L546.78 173.11 L547.52 167.71 L548.26 162.18 L549 156.53 L549.74 150.75 L550.49 144.83 L551.23 138.44 L551.97 131.53 L552.71 124.39 L553.46 117.28 L554.2 110.48 L554.94 104.27 L555.68 98.9 L556.42 93.65 L557.17 88.24 L557.91 83.02 L558.65 78.36 L559.39 74.63 L560.13 72.19 L560.88 71.4 L561.62 71.8 L562.36 72.81 L563.1 74.32 L563.84 76.22 L564.59 78.39 L565.33 80.73 L566.07 83.13 L566.81 86.06 L567.55 89.76 L568.3 94.06 L569.04 98.81 L569.78 103.84 L570.52 108.99 L571.27 114.1 L572.01 119.36 L572.75 125 L573.49 130.93 L574.23 137.03 L574.98 143.21 L575.72 149.36 L576.46 155.38 L577.2 161.37 L577.94 167.47 L578.69 173.6 L579.43 179.69 L580.17 185.66 L580.91 191.44 L581.65 196.95 L582.4 202.2 L583.14 207.26 L583.88 212.02 L584.62 216.41 L585.37 220.62 L586.11 224.62 L586.85 228.34 L587.59 231.67 L588.33 234.62 L589.08 237.49 L589.82 240.28 L590.56 242.94 L591.3 245.42 L592.04 247.66 L592.79 249.62 L593.53 251.24 L594.27 252.48 L595.01 253.45 L595.75 254.35 L596.5 255.17 L597.24 255.92 L597.98 256.59 L598.72 257.2 L599.46 257.74 L600.21 258.22 L600.95 258.63 L601.69 258.98 L602.43 259.28 L603.18 259.56 L603.92 259.82 L604.66 260.07 L605.4 260.31 L606.14 260.53 L606.89 260.74 L607.63 260.93 L608.37 261.1 L609.11 261.26 L609.85 261.41 L610.6 261.53 L611.34 261.64 L612.08 261.73 L612.82 261.81 L613.56 261.87 L614.31 261.93 L615.05 261.98 L615.79 262.04 L616.53 262.09 L617.28 262.15 L618.02 262.2 L618.76 262.24 L619.5 262.29 L620.24 262.34 L620.99 262.38 L621.73 262.42 L622.47 262.46 L623.21 262.5 L623.95 262.53 L624.7 262.57 L625.44 262.6 L626.18 262.63 L626.92 262.65 L627.66 262.68 L628.41 262.7 L629.15 262.72 L629.89 262.74 L630.63 262.76 L631.38 262.77 L632.12 262.78 L632.86 262.79 L633.6 262.79 L634.34 262.8 L635.09 262.8" fill="none" stroke="#619CFF" stroke-width="3.4" stroke-linejoin="round" stroke-linecap="butt"/>
</g>
<rect x="484" y="60.8" width="248.4" height="210.8" fill="none" stroke="#b4b4b4" stroke-width="2"/>
<rect x="484" y="10.6" width="248.4" height="50.2" fill="#e3e3e3" stroke="#b4b4b4" stroke-width="2"/>
<text transform="translate(525.63 45.22) scale(1.1520 1)" font-size="27.7" font-family='"Liberation Sans", Arial, sans-serif' fill="#1a1a1a" stroke="#1a1a1a" stroke-width="0.3">PRT vs. AC</text>
<path d="M504.95 271.6 V280.6 M559.4 271.6 V280.6 M613.85 271.6 V280.6 M668.3 271.6 V280.6 M722.75 271.6 V280.6 M475 262.8 H484 M475 208.7 H484 M475 154.6 H484 M475 100.5 H484" stroke="#b4b4b4" stroke-width="2" fill="none"/>
<text transform="translate(486.51 307.56) scale(1.2000 1)" font-size="26.9" font-family='"Liberation Sans", Arial, sans-serif' fill="#4d4d4d" stroke="#4d4d4d" stroke-width="0.5">−1</text>
<text transform="translate(550.4 307.56) scale(1.2000 1)" font-size="26.9" font-family='"Liberation Sans", Arial, sans-serif' fill="#4d4d4d" stroke="#4d4d4d" stroke-width="0.5">0</text>
<text transform="translate(604.45 307.56) scale(1.2000 1)" font-size="26.9" font-family='"Liberation Sans", Arial, sans-serif' fill="#4d4d4d" stroke="#4d4d4d" stroke-width="0.5">1</text>
<text transform="translate(659.34 307.56) scale(1.2000 1)" font-size="26.9" font-family='"Liberation Sans", Arial, sans-serif' fill="#4d4d4d" stroke="#4d4d4d" stroke-width="0.5">2</text>
<text transform="translate(713.87 307.56) scale(1.2000 1)" font-size="26.9" font-family='"Liberation Sans", Arial, sans-serif' fill="#4d4d4d" stroke="#4d4d4d" stroke-width="0.5">3</text>
<text transform="translate(420.74 272.55) scale(1.2000 1)" font-size="26.9" font-family='"Liberation Sans", Arial, sans-serif' fill="#4d4d4d" stroke="#4d4d4d" stroke-width="0.5">0.0</text>
<text transform="translate(420.82 218.45) scale(1.2000 1)" font-size="26.9" font-family='"Liberation Sans", Arial, sans-serif' fill="#4d4d4d" stroke="#4d4d4d" stroke-width="0.5">0.5</text>
<text transform="translate(420.74 164.35) scale(1.2000 1)" font-size="26.9" font-family='"Liberation Sans", Arial, sans-serif' fill="#4d4d4d" stroke="#4d4d4d" stroke-width="0.5">1.0</text>
<text transform="translate(420.82 110.25) scale(1.2000 1)" font-size="26.9" font-family='"Liberation Sans", Arial, sans-serif' fill="#4d4d4d" stroke="#4d4d4d" stroke-width="0.5">1.5</text>
<clipPath id="c2"><rect x="811.5" y="60.8" width="248" height="210.8"/></clipPath>
<g clip-path="url(#c2)">
<path d="M831.75 60.8 V271.6 M899.05 60.8 V271.6 M966.35 60.8 V271.6 M1033.65 60.8 V271.6 M811.5 227 H1059.5 M811.5 155.4 H1059.5 M811.5 83.8 H1059.5" stroke="#f7f7f7" stroke-width="1.6" fill="none"/>
<path d="M865.4 60.8 V271.6 M932.7 60.8 V271.6 M1000 60.8 V271.6 M811.5 262.8 H1059.5 M811.5 191.2 H1059.5 M811.5 119.6 H1059.5" stroke="#f3f3f3" stroke-width="2.0" fill="none"/>
<path d="M856.65 262.16 L857.28 261.81 L857.9 261.38 L858.53 260.88 L859.15 260.32 L859.77 259.7 L860.4 259.03 L861.02 258.31 L861.65 257.55 L862.27 256.76 L862.9 255.94 L863.52 255.08 L864.15 254.15 L864.77 253.15 L865.4 252.06 L866.02 250.89 L866.65 249.62 L867.27 248.25 L867.9 246.77 L868.52 245.18 L869.15 243.46 L869.77 241.54 L870.4 239.33 L871.02 236.83 L871.64 234.05 L872.27 230.99 L872.89 227.66 L873.52 224.05 L874.14 220.19 L874.77 215.89 L875.39 210.51 L876.02 204.24 L876.64 197.42 L877.27 190.35 L877.89 183.37 L878.52 176.8 L879.14 170.62 L879.77 164.55 L880.39 158.47 L881.02 152.3 L881.64 145.92 L882.27 138.67 L882.89 130.87 L883.52 124.39 L884.14 120.65 L884.76 118.36 L885.39 116.16 L886.01 112.78 L886.64 107.01 L887.26 99.76 L887.89 92.32 L888.51 86.01 L889.14 81.98 L889.76 78.77 L890.39 75.82 L891.01 73.32 L891.64 71.48 L892.26 70.51 L892.89 70.62 L893.51 71.86 L894.14 73.96 L894.76 76.64 L895.39 79.75 L896.01 85.12 L896.63 92.6 L897.26 101.04 L897.88 109.29 L898.51 116.32 L899.13 122.68 L899.76 128.8 L900.38 134.82 L901.01 140.86 L901.63 147.05 L902.26 153.45 L902.88 159.94 L903.51 166.37 L904.13 172.59 L904.76 178.47 L905.38 184.18 L906.01 189.77 L906.63 195.21 L907.26 200.48 L907.88 205.53 L908.51 210.35 L909.13 215 L909.75 219.73 L910.38 224.41 L911 228.85 L911.63 232.89 L912.25 236.35 L912.88 239.04 L913.5 241.18 L914.13 243.17 L914.75 245 L915.38 246.68 L916 248.21 L916.63 249.6 L917.25 250.84 L917.88 251.94 L918.5 252.89 L919.13 253.71 L919.75 254.43 L920.38 255.11 L921 255.76 L921.62 256.37 L922.25 256.94 L922.87 257.47 L923.5 257.96 L924.12 258.41 L924.75 258.82 L925.37 259.18 L926 259.5 L926.62 259.77 L927.25 260 L927.87 260.18 L928.5 260.35 L929.12 260.51 L929.75 260.66 L930.37 260.81 L931 260.94 L931.62 261.07 L932.25 261.19 L932.87 261.31 L933.49 261.42 L934.12 261.52 L934.74 261.61 L935.37 261.7 L935.99 261.78 L936.62 261.85 L937.24 261.92 L937.87 261.99 L938.49 262.04 L939.12 262.09 L939.74 262.14 L940.37 262.18 L940.99 262.22 L941.62 262.26 L942.24 262.3 L942.87 262.34 L943.49 262.38 L944.12 262.41 L944.74 262.45 L945.37 262.48 L945.99 262.52 L946.61 262.55 L947.24 262.58 L947.86 262.61 L948.49 262.63 L949.11 262.66 L949.74 262.68 L950.36 262.7 L950.99 262.72 L951.61 262.74 L952.24 262.76 L952.86 262.77 L953.49 262.78 L954.11 262.79 L954.74 262.79 L955.36 262.8 L955.99 262.8 L955.99 262.8 L856.65 262.8 Z" fill="#F8766D" fill-opacity="0.26" stroke="none"/>
<path d="M856.65 262.16 L857.28 261.81 L857.9 261.38 L858.53 260.88 L859.15 260.32 L859.77 259.7 L860.4 259.03 L861.02 258.31 L861.65 257.55 L862.27 256.76 L862.9 255.94 L863.52 255.08 L864.15 254.15 L864.77 253.15 L865.4 252.06 L866.02 250.89 L866.65 249.62 L867.27 248.25 L867.9 246.77 L868.52 245.18 L869.15 243.46 L869.77 241.54 L870.4 239.33 L871.02 236.83 L871.64 234.05 L872.27 230.99 L872.89 227.66 L873.52 224.05 L874.14 220.19 L874.77 215.89 L875.39 210.51 L876.02 204.24 L876.64 197.42 L877.27 190.35 L877.89 183.37 L878.52 176.8 L879.14 170.62 L879.77 164.55 L880.39 158.47 L881.02 152.3 L881.64 145.92 L882.27 138.67 L882.89 130.87 L883.52 124.39 L884.14 120.65 L884.76 118.36 L885.39 116.16 L886.01 112.78 L886.64 107.01 L887.26 99.76 L887.89 92.32 L888.51 86.01 L889.14 81.98 L889.76 78.77 L890.39 75.82 L891.01 73.32 L891.64 71.48 L892.26 70.51 L892.89 70.62 L893.51 71.86 L894.14 73.96 L894.76 76.64 L895.39 79.75 L896.01 85.12 L896.63 92.6 L897.26 101.04 L897.88 109.29 L898.51 116.32 L899.13 122.68 L899.76 128.8 L900.38 134.82 L901.01 140.86 L901.63 147.05 L902.26 153.45 L902.88 159.94 L903.51 166.37 L904.13 172.59 L904.76 178.47 L905.38 184.18 L906.01 189.77 L906.63 195.21 L907.26 200.48 L907.88 205.53 L908.51 210.35 L909.13 215 L909.75 219.73 L910.38 224.41 L911 228.85 L911.63 232.89 L912.25 236.35 L912.88 239.04 L913.5 241.18 L914.13 243.17 L914.75 245 L915.38 246.68 L916 248.21 L916.63 249.6 L917.25 250.84 L917.88 251.94 L918.5 252.89 L919.13 253.71 L919.75 254.43 L920.38 255.11 L921 255.76 L921.62 256.37 L922.25 256.94 L922.87 257.47 L923.5 257.96 L924.12 258.41 L924.75 258.82 L925.37 259.18 L926 259.5 L926.62 259.77 L927.25 260 L927.87 260.18 L928.5 260.35 L929.12 260.51 L929.75 260.66 L930.37 260.81 L931 260.94 L931.62 261.07 L932.25 261.19 L932.87 261.31 L933.49 261.42 L934.12 261.52 L934.74 261.61 L935.37 261.7 L935.99 261.78 L936.62 261.85 L937.24 261.92 L937.87 261.99 L938.49 262.04 L939.12 262.09 L939.74 262.14 L940.37 262.18 L940.99 262.22 L941.62 262.26 L942.24 262.3 L942.87 262.34 L943.49 262.38 L944.12 262.41 L944.74 262.45 L945.37 262.48 L945.99 262.52 L946.61 262.55 L947.24 262.58 L947.86 262.61 L948.49 262.63 L949.11 262.66 L949.74 262.68 L950.36 262.7 L950.99 262.72 L951.61 262.74 L952.24 262.76 L952.86 262.77 L953.49 262.78 L954.11 262.79 L954.74 262.79 L955.36 262.8 L955.99 262.8" fill="none" stroke="#F8766D" stroke-width="3.4" stroke-linejoin="round" stroke-linecap="butt"/>
<path d="M823.67 262.8 L825.09 262.78 L826.5 262.76 L827.91 262.72 L829.32 262.67 L830.73 262.61 L832.14 262.55 L833.56 262.47 L834.97 262.39 L836.38 262.31 L837.79 262.23 L839.2 262.14 L840.61 262.05 L842.02 261.95 L843.44 261.83 L844.85 261.71 L846.26 261.58 L847.67 261.43 L849.08 261.28 L850.49 261.11 L851.91 260.93 L853.32 260.74 L854.73 260.53 L856.14 260.31 L857.55 260.08 L858.96 259.84 L860.38 259.58 L861.79 259.31 L863.2 259.03 L864.61 258.73 L866.02 258.4 L867.43 257.97 L868.85 257.47 L870.26 256.91 L871.67 256.29 L873.08 255.64 L874.49 254.96 L875.9 254.27 L877.32 253.59 L878.73 252.91 L880.14 252.22 L881.55 251.52 L882.96 250.8 L884.37 250.04 L885.78 249.25 L887.2 248.42 L888.61 247.54 L890.02 246.61 L891.43 245.62 L892.84 244.55 L894.25 243.35 L895.67 242.02 L897.08 240.58 L898.49 239.03 L899.9 237.4 L901.31 235.64 L902.72 233.6 L904.14 231.38 L905.55 229.1 L906.96 226.86 L908.37 224.78 L909.78 222.91 L911.19 221.1 L912.61 219.35 L914.02 217.66 L915.43 216.01 L916.84 214.4 L918.25 212.83 L919.66 211.29 L921.07 209.79 L922.49 208.32 L923.9 206.9 L925.31 205.52 L926.72 204.18 L928.13 202.86 L929.54 201.36 L930.96 199.79 L932.37 198.28 L933.78 196.97 L935.19 196 L936.6 195.52 L938.01 195.63 L939.43 196.18 L940.84 197.04 L942.25 198.06 L943.66 199.11 L945.07 200.04 L946.48 200.86 L947.9 201.67 L949.31 202.5 L950.72 203.38 L952.13 204.35 L953.54 205.43 L954.95 206.67 L956.37 208.06 L957.78 209.59 L959.19 211.25 L960.6 213.17 L962.01 215.35 L963.42 217.61 L964.83 219.8 L966.25 221.91 L967.66 224.05 L969.07 226.15 L970.48 228.14 L971.89 229.95 L973.3 231.54 L974.72 232.97 L976.13 234.31 L977.54 235.64 L978.95 237 L980.36 238.48 L981.77 240.09 L983.19 241.78 L984.6 243.47 L986.01 245.07 L987.42 246.52 L988.83 247.92 L990.24 249.27 L991.66 250.55 L993.07 251.72 L994.48 252.77 L995.89 253.69 L997.3 254.54 L998.71 255.35 L1000.12 256.09 L1001.54 256.78 L1002.95 257.39 L1004.36 257.93 L1005.77 258.4 L1007.18 258.84 L1008.59 259.25 L1010.01 259.63 L1011.42 259.97 L1012.83 260.26 L1014.24 260.52 L1015.65 260.74 L1017.06 260.93 L1018.48 261.12 L1019.89 261.29 L1021.3 261.45 L1022.71 261.59 L1024.12 261.73 L1025.53 261.85 L1026.95 261.96 L1028.36 262.05 L1029.77 262.14 L1031.18 262.21 L1032.59 262.29 L1034 262.36 L1035.42 262.43 L1036.83 262.5 L1038.24 262.56 L1039.65 262.62 L1041.06 262.67 L1042.47 262.71 L1043.88 262.75 L1045.3 262.78 L1046.71 262.79 L1048.12 262.8 L1048.12 262.8 L823.67 262.8 Z" fill="#00BA38" fill-opacity="0.26" stroke="none"/>
<path d="M823.67 262.8 L825.09 262.78 L826.5 262.76 L827.91 262.72 L829.32 262.67 L830.73 262.61 L832.14 262.55 L833.56 262.47 L834.97 262.39 L836.38 262.31 L837.79 262.23 L839.2 262.14 L840.61 262.05 L842.02 261.95 L843.44 261.83 L844.85 261.71 L846.26 261.58 L847.67 261.43 L849.08 261.28 L850.49 261.11 L851.91 260.93 L853.32 260.74 L854.73 260.53 L856.14 260.31 L857.55 260.08 L858.96 259.84 L860.38 259.58 L861.79 259.31 L863.2 259.03 L864.61 258.73 L866.02 258.4 L867.43 257.97 L868.85 257.47 L870.26 256.91 L871.67 256.29 L873.08 255.64 L874.49 254.96 L875.9 254.27 L877.32 253.59 L878.73 252.91 L880.14 252.22 L881.55 251.52 L882.96 250.8 L884.37 250.04 L885.78 249.25 L887.2 248.42 L888.61 247.54 L890.02 246.61 L891.43 245.62 L892.84 244.55 L894.25 243.35 L895.67 242.02 L897.08 240.58 L898.49 239.03 L899.9 237.4 L901.31 235.64 L902.72 233.6 L904.14 231.38 L905.55 229.1 L906.96 226.86 L908.37 224.78 L909.78 222.91 L911.19 221.1 L912.61 219.35 L914.02 217.66 L915.43 216.01 L916.84 214.4 L918.25 212.83 L919.66 211.29 L921.07 209.79 L922.49 208.32 L923.9 206.9 L925.31 205.52 L926.72 204.18 L928.13 202.86 L929.54 201.36 L930.96 199.79 L932.37 198.28 L933.78 196.97 L935.19 196 L936.6 195.52 L938.01 195.63 L939.43 196.18 L940.84 197.04 L942.25 198.06 L943.66 199.11 L945.07 200.04 L946.48 200.86 L947.9 201.67 L949.31 202.5 L950.72 203.38 L952.13 204.35 L953.54 205.43 L954.95 206.67 L956.37 208.06 L957.78 209.59 L959.19 211.25 L960.6 213.17 L962.01 215.35 L963.42 217.61 L964.83 219.8 L966.25 221.91 L967.66 224.05 L969.07 226.15 L970.48 228.14 L971.89 229.95 L973.3 231.54 L974.72 232.97 L976.13 234.31 L977.54 235.64 L978.95 237 L980.36 238.48 L981.77 240.09 L983.19 241.78 L984.6 243.47 L986.01 245.07 L987.42 246.52 L988.83 247.92 L990.24 249.27 L991.66 250.55 L993.07 251.72 L994.48 252.77 L995.89 253.69 L997.3 254.54 L998.71 255.35 L1000.12 256.09 L1001.54 256.78 L1002.95 257.39 L1004.36 257.93 L1005.77 258.4 L1007.18 258.84 L1008.59 259.25 L1010.01 259.63 L1011.42 259.97 L1012.83 260.26 L1014.24 260.52 L1015.65 260.74 L1017.06 260.93 L1018.48 261.12 L1019.89 261.29 L1021.3 261.45 L1022.71 261.59 L1024.12 261.73 L1025.53 261.85 L1026.95 261.96 L1028.36 262.05 L1029.77 262.14 L1031.18 262.21 L1032.59 262.29 L1034 262.36 L1035.42 262.43 L1036.83 262.5 L1038.24 262.56 L1039.65 262.62 L1041.06 262.67 L1042.47 262.71 L1043.88 262.75 L1045.3 262.78 L1046.71 262.79 L1048.12 262.8" fill="none" stroke="#00BA38" stroke-width="3.4" stroke-linejoin="round" stroke-linecap="butt"/>
<path d="M854.63 262.8 L855.18 262.79 L855.72 262.78 L856.26 262.75 L856.8 262.72 L857.35 262.67 L857.89 262.61 L858.43 262.54 L858.98 262.46 L859.52 262.38 L860.06 262.28 L860.61 262.17 L861.15 262.05 L861.69 261.92 L862.23 261.78 L862.78 261.63 L863.32 261.47 L863.86 261.3 L864.41 261.12 L864.95 260.92 L865.49 260.72 L866.04 260.51 L866.58 260.29 L867.12 260.06 L867.67 259.7 L868.21 259.15 L868.75 258.41 L869.29 257.51 L869.84 256.46 L870.38 255.29 L870.92 254.02 L871.47 252.65 L872.01 251.22 L872.55 249.74 L873.1 248.24 L873.64 246.68 L874.18 244.93 L874.73 242.97 L875.27 240.82 L875.81 238.49 L876.35 236 L876.9 233.35 L877.44 230.57 L877.98 227.66 L878.53 224.64 L879.07 221.53 L879.61 218.33 L880.16 214.91 L880.7 211.13 L881.24 207.06 L881.78 202.74 L882.33 198.23 L882.87 193.57 L883.41 188.81 L883.96 184.01 L884.5 179.21 L885.04 174.43 L885.59 169.47 L886.13 164.35 L886.67 159.11 L887.22 153.82 L887.76 148.53 L888.3 143.29 L888.84 138.17 L889.39 133.06 L889.93 127.74 L890.47 122.36 L891.02 117.04 L891.56 111.93 L892.1 107.17 L892.65 102.89 L893.19 99.24 L893.73 95.76 L894.28 92.22 L894.82 88.81 L895.36 85.71 L895.9 83.09 L896.45 81.14 L896.99 80.04 L897.53 79.94 L898.08 80.68 L898.62 82.09 L899.16 84.06 L899.71 86.43 L900.25 89.1 L900.79 91.92 L901.33 94.76 L901.88 97.76 L902.42 101.42 L902.96 105.62 L903.51 110.21 L904.05 115.06 L904.59 120 L905.14 124.91 L905.68 129.63 L906.22 134.35 L906.77 139.18 L907.31 144.08 L907.85 149.03 L908.39 154 L908.94 158.95 L909.48 163.86 L910.02 168.73 L910.57 173.63 L911.11 178.55 L911.65 183.47 L912.2 188.35 L912.74 193.16 L913.28 197.87 L913.83 202.44 L914.37 206.93 L914.91 211.55 L915.45 216.17 L916 220.7 L916.54 225 L917.08 228.96 L917.63 232.46 L918.17 235.38 L918.71 238.02 L919.26 240.57 L919.8 243.01 L920.34 245.29 L920.88 247.39 L921.43 249.28 L921.97 250.92 L922.51 252.29 L923.06 253.35 L923.6 254.11 L924.14 254.77 L924.69 255.38 L925.23 255.94 L925.77 256.46 L926.32 256.93 L926.86 257.37 L927.4 257.77 L927.94 258.14 L928.49 258.48 L929.03 258.8 L929.57 259.09 L930.12 259.37 L930.66 259.62 L931.2 259.87 L931.75 260.1 L932.29 260.33 L932.83 260.56 L933.38 260.78 L933.92 261 L934.46 261.21 L935 261.42 L935.55 261.61 L936.09 261.8 L936.63 261.97 L937.18 262.13 L937.72 262.28 L938.26 262.41 L938.81 262.53 L939.35 262.62 L939.89 262.7 L940.43 262.76 L940.98 262.8 L940.98 262.8 L854.63 262.8 Z" fill="#619CFF" fill-opacity="0.26" stroke="none"/>
<path d="M854.63 262.8 L855.18 262.79 L855.72 262.78 L856.26 262.75 L856.8 262.72 L857.35 262.67 L857.89 262.61 L858.43 262.54 L858.98 262.46 L859.52 262.38 L860.06 262.28 L860.61 262.17 L861.15 262.05 L861.69 261.92 L862.23 261.78 L862.78 261.63 L863.32 261.47 L863.86 261.3 L864.41 261.12 L864.95 260.92 L865.49 260.72 L866.04 260.51 L866.58 260.29 L867.12 260.06 L867.67 259.7 L868.21 259.15 L868.75 258.41 L869.29 257.51 L869.84 256.46 L870.38 255.29 L870.92 254.02 L871.47 252.65 L872.01 251.22 L872.55 249.74 L873.1 248.24 L873.64 246.68 L874.18 244.93 L874.73 242.97 L875.27 240.82 L875.81 238.49 L876.35 236 L876.9 233.35 L877.44 230.57 L877.98 227.66 L878.53 224.64 L879.07 221.53 L879.61 218.33 L880.16 214.91 L880.7 211.13 L881.24 207.06 L881.78 202.74 L882.33 198.23 L882.87 193.57 L883.41 188.81 L883.96 184.01 L884.5 179.21 L885.04 174.43 L885.59 169.47 L886.13 164.35 L886.67 159.11 L887.22 153.82 L887.76 148.53 L888.3 143.29 L888.84 138.17 L889.39 133.06 L889.93 127.74 L890.47 122.36 L891.02 117.04 L891.56 111.93 L892.1 107.17 L892.65 102.89 L893.19 99.24 L893.73 95.76 L894.28 92.22 L894.82 88.81 L895.36 85.71 L895.9 83.09 L896.45 81.14 L896.99 80.04 L897.53 79.94 L898.08 80.68 L898.62 82.09 L899.16 84.06 L899.71 86.43 L900.25 89.1 L900.79 91.92 L901.33 94.76 L901.88 97.76 L902.42 101.42 L902.96 105.62 L903.51 110.21 L904.05 115.06 L904.59 120 L905.14 124.91 L905.68 129.63 L906.22 134.35 L906.77 139.18 L907.31 144.08 L907.85 149.03 L908.39 154 L908.94 158.95 L909.48 163.86 L910.02 168.73 L910.57 173.63 L911.11 178.55 L911.65 183.47 L912.2 188.35 L912.74 193.16 L913.28 197.87 L913.83 202.44 L914.37 206.93 L914.91 211.55 L915.45 216.17 L916 220.7 L916.54 225 L917.08 228.96 L917.63 232.46 L918.17 235.38 L918.71 238.02 L919.26 240.57 L919.8 243.01 L920.34 245.29 L920.88 247.39 L921.43 249.28 L921.97 250.92 L922.51 252.29 L923.06 253.35 L923.6 254.11 L924.14 254.77 L924.69 255.38 L925.23 255.94 L925.77 256.46 L926.32 256.93 L926.86 257.37 L927.4 257.77 L927.94 258.14 L928.49 258.48 L929.03 258.8 L929.57 259.09 L930.12 259.37 L930.66 259.62 L931.2 259.87 L931.75 260.1 L932.29 260.33 L932.83 260.56 L933.38 260.78 L933.92 261 L934.46 261.21 L935 261.42 L935.55 261.61 L936.09 261.8 L936.63 261.97 L937.18 262.13 L937.72 262.28 L938.26 262.41 L938.81 262.53 L939.35 262.62 L939.89 262.7 L940.43 262.76 L940.98 262.8" fill="none" stroke="#619CFF" stroke-width="3.4" stroke-linejoin="round" stroke-linecap="butt"/>
</g>
<rect x="811.5" y="60.8" width="248" height="210.8" fill="none" stroke="#b4b4b4" stroke-width="2"/>
<rect x="811.5" y="10.6" width="248" height="50.2" fill="#e3e3e3" stroke="#b4b4b4" stroke-width="2"/>
<text transform="translate(850.86 45.22) scale(1.1520 1)" font-size="27.7" font-family='"Liberation Sans", Arial, sans-serif' fill="#1a1a1a" stroke="#1a1a1a" stroke-width="0.3">PRT vs. CG</text>
<path d="M865.4 271.6 V280.6 M932.7 271.6 V280.6 M1000 271.6 V280.6 M802.5 262.8 H811.5 M802.5 191.2 H811.5 M802.5 119.6 H811.5" stroke="#b4b4b4" stroke-width="2" fill="none"/>
<text transform="translate(856.4 307.56) scale(1.2000 1)" font-size="26.9" font-family='"Liberation Sans", Arial, sans-serif' fill="#4d4d4d" stroke="#4d4d4d" stroke-width="0.5">0</text>
<text transform="translate(923.3 307.56) scale(1.2000 1)" font-size="26.9" font-family='"Liberation Sans", Arial, sans-serif' fill="#4d4d4d" stroke="#4d4d4d" stroke-width="0.5">1</text>
<text transform="translate(991.04 307.56) scale(1.2000 1)" font-size="26.9" font-family='"Liberation Sans", Arial, sans-serif' fill="#4d4d4d" stroke="#4d4d4d" stroke-width="0.5">2</text>
<text transform="translate(775.2 272.55) scale(1.2000 1)" font-size="26.9" font-family='"Liberation Sans", Arial, sans-serif' fill="#4d4d4d" stroke="#4d4d4d" stroke-width="0.5">0</text>
<text transform="translate(775.52 200.95) scale(1.2000 1)" font-size="26.9" font-family='"Liberation Sans", Arial, sans-serif' fill="#4d4d4d" stroke="#4d4d4d" stroke-width="0.5">1</text>
<text transform="translate(775.6 129.35) scale(1.2000 1)" font-size="26.9" font-family='"Liberation Sans", Arial, sans-serif' fill="#4d4d4d" stroke="#4d4d4d" stroke-width="0.5">2</text>
<clipPath id="c3"><rect x="140.2" y="379.9" width="247.9" height="211"/></clipPath>
<g clip-path="url(#c3)">
<path d="M209.07 379.9 V590.9 M283.13 379.9 V590.9 M357.19 379.9 V590.9 M140.2 557.15 H388.1 M140.2 507.86 H388.1 M140.2 458.57 H388.1 M140.2 409.28 H388.1" stroke="#f7f7f7" stroke-width="1.6" fill="none"/>
<path d="M172.04 379.9 V590.9 M246.1 379.9 V590.9 M320.16 379.9 V590.9 M140.2 581.8 H388.1 M140.2 532.51 H388.1 M140.2 483.22 H388.1 M140.2 433.93 H388.1 M140.2 384.64 H388.1" stroke="#f3f3f3" stroke-width="2.0" fill="none"/>
<path d="M212.33 581.8 L213.18 581.8 L214.04 581.78 L214.89 581.76 L215.75 581.73 L216.6 581.69 L217.46 581.65 L218.31 581.59 L219.17 581.53 L220.03 581.45 L220.88 581.37 L221.74 581.27 L222.59 581.17 L223.45 581.06 L224.3 580.94 L225.16 580.81 L226.01 580.66 L226.87 580.51 L227.72 580.35 L228.58 580.18 L229.43 579.99 L230.29 579.8 L231.14 579.59 L232 579.38 L232.85 579.15 L233.71 578.91 L234.56 578.66 L235.42 578.4 L236.27 578.13 L237.13 577.85 L237.98 577.52 L238.84 576.93 L239.69 576.05 L240.55 574.91 L241.4 573.52 L242.26 571.92 L243.12 570.12 L243.97 568.14 L244.83 566.01 L245.68 563.75 L246.54 561.19 L247.39 557.73 L248.25 553.46 L249.1 548.54 L249.96 543.1 L250.81 537.31 L251.67 531.3 L252.52 525.17 L253.38 518 L254.23 509.94 L255.09 501.63 L255.94 493.68 L256.8 486.69 L257.65 480.32 L258.51 474.28 L259.36 468.45 L260.22 462.72 L261.07 456.97 L261.93 451.2 L262.78 445.5 L263.64 439.98 L264.49 434.72 L265.35 429.69 L266.21 424.39 L267.06 419.23 L267.92 414.78 L268.77 411.61 L269.63 409.83 L270.48 408.32 L271.34 407.04 L272.19 406.07 L273.05 405.48 L273.9 405.36 L274.76 405.89 L275.61 407.04 L276.47 408.71 L277.32 410.8 L278.18 413.2 L279.03 415.83 L279.89 418.57 L280.74 421.34 L281.6 424.22 L282.45 427.65 L283.31 431.56 L284.16 435.88 L285.02 440.49 L285.87 445.31 L286.73 450.25 L287.58 455.24 L288.44 460.61 L289.3 466.38 L290.15 472.44 L291.01 478.65 L291.86 484.91 L292.72 491.09 L293.57 497.08 L294.43 502.97 L295.28 509 L296.14 515.07 L296.99 521.07 L297.85 526.86 L298.7 532.35 L299.56 537.41 L300.41 542 L301.27 546.56 L302.12 551.04 L302.98 555.31 L303.83 559.23 L304.69 562.66 L305.54 565.47 L306.4 567.52 L307.25 569.15 L308.11 570.67 L308.96 572.05 L309.82 573.31 L310.67 574.44 L311.53 575.43 L312.39 576.28 L313.24 576.99 L314.1 577.54 L314.95 577.96 L315.81 578.32 L316.66 578.66 L317.52 578.99 L318.37 579.3 L319.23 579.58 L320.08 579.85 L320.94 580.11 L321.79 580.34 L322.65 580.55 L323.5 580.74 L324.36 580.91 L325.21 581.06 L326.07 581.18 L326.92 581.29 L327.78 581.37 L328.63 581.44 L329.49 581.47 L330.34 581.5 L331.2 581.53 L332.05 581.55 L332.91 581.58 L333.76 581.6 L334.62 581.62 L335.48 581.65 L336.33 581.66 L337.19 581.68 L338.04 581.7 L338.9 581.72 L339.75 581.73 L340.61 581.74 L341.46 581.76 L342.32 581.77 L343.17 581.77 L344.03 581.78 L344.88 581.79 L345.74 581.79 L346.59 581.8 L347.45 581.8 L348.3 581.8 L348.3 581.8 L212.33 581.8 Z" fill="#F8766D" fill-opacity="0.26" stroke="none"/>
<path d="M212.33 581.8 L213.18 581.8 L214.04 581.78 L214.89 581.76 L215.75 581.73 L216.6 581.69 L217.46 581.65 L218.31 581.59 L219.17 581.53 L220.03 581.45 L220.88 581.37 L221.74 581.27 L222.59 581.17 L223.45 581.06 L224.3 580.94 L225.16 580.81 L226.01 580.66 L226.87 580.51 L227.72 580.35 L228.58 580.18 L229.43 579.99 L230.29 579.8 L231.14 579.59 L232 579.38 L232.85 579.15 L233.71 578.91 L234.56 578.66 L235.42 578.4 L236.27 578.13 L237.13 577.85 L237.98 577.52 L238.84 576.93 L239.69 576.05 L240.55 574.91 L241.4 573.52 L242.26 571.92 L243.12 570.12 L243.97 568.14 L244.83 566.01 L245.68 563.75 L246.54 561.19 L247.39 557.73 L248.25 553.46 L249.1 548.54 L249.96 543.1 L250.81 537.31 L251.67 531.3 L252.52 525.17 L253.38 518 L254.23 509.94 L255.09 501.63 L255.94 493.68 L256.8 486.69 L257.65 480.32 L258.51 474.28 L259.36 468.45 L260.22 462.72 L261.07 456.97 L261.93 451.2 L262.78 445.5 L263.64 439.98 L264.49 434.72 L265.35 429.69 L266.21 424.39 L267.06 419.23 L267.92 414.78 L268.77 411.61 L269.63 409.83 L270.48 408.32 L271.34 407.04 L272.19 406.07 L273.05 405.48 L273.9 405.36 L274.76 405.89 L275.61 407.04 L276.47 408.71 L277.32 410.8 L278.18 413.2 L279.03 415.83 L279.89 418.57 L280.74 421.34 L281.6 424.22 L282.45 427.65 L283.31 431.56 L284.16 435.88 L285.02 440.49 L285.87 445.31 L286.73 450.25 L287.58 455.24 L288.44 460.61 L289.3 466.38 L290.15 472.44 L291.01 478.65 L291.86 484.91 L292.72 491.09 L293.57 497.08 L294.43 502.97 L295.28 509 L296.14 515.07 L296.99 521.07 L297.85 526.86 L298.7 532.35 L299.56 537.41 L300.41 542 L301.27 546.56 L302.12 551.04 L302.98 555.31 L303.83 559.23 L304.69 562.66 L305.54 565.47 L306.4 567.52 L307.25 569.15 L308.11 570.67 L308.96 572.05 L309.82 573.31 L310.67 574.44 L311.53 575.43 L312.39 576.28 L313.24 576.99 L314.1 577.54 L314.95 577.96 L315.81 578.32 L316.66 578.66 L317.52 578.99 L318.37 579.3 L319.23 579.58 L320.08 579.85 L320.94 580.11 L321.79 580.34 L322.65 580.55 L323.5 580.74 L324.36 580.91 L325.21 581.06 L326.07 581.18 L326.92 581.29 L327.78 581.37 L328.63 581.44 L329.49 581.47 L330.34 581.5 L331.2 581.53 L332.05 581.55 L332.91 581.58 L333.76 581.6 L334.62 581.62 L335.48 581.65 L336.33 581.66 L337.19 581.68 L338.04 581.7 L338.9 581.72 L339.75 581.73 L340.61 581.74 L341.46 581.76 L342.32 581.77 L343.17 581.77 L344.03 581.78 L344.88 581.79 L345.74 581.79 L346.59 581.8 L347.45 581.8 L348.3 581.8" fill="none" stroke="#F8766D" stroke-width="3.4" stroke-linejoin="round" stroke-linecap="butt"/>
<path d="M151.3 581.8 L152.71 581.8 L154.13 581.78 L155.54 581.76 L156.95 581.73 L158.36 581.69 L159.77 581.64 L161.18 581.59 L162.59 581.53 L164.01 581.46 L165.42 581.39 L166.83 581.31 L168.24 581.23 L169.65 581.14 L171.06 581.05 L172.47 580.95 L173.88 580.85 L175.3 580.75 L176.71 580.64 L178.12 580.52 L179.53 580.37 L180.94 580.19 L182.35 579.99 L183.76 579.76 L185.18 579.5 L186.59 579.23 L188 578.93 L189.41 578.61 L190.82 578.27 L192.23 577.91 L193.64 577.53 L195.05 577.13 L196.47 576.72 L197.88 576.29 L199.29 575.77 L200.7 575.15 L202.11 574.44 L203.52 573.65 L204.93 572.8 L206.35 571.91 L207.76 570.99 L209.17 570.06 L210.58 569.13 L211.99 568.21 L213.4 567.34 L214.81 566.49 L216.22 565.65 L217.64 564.77 L219.05 563.82 L220.46 562.75 L221.87 561.52 L223.28 560.08 L224.69 558.11 L226.1 555.7 L227.52 553.06 L228.93 550.41 L230.34 547.69 L231.75 544.71 L233.16 541.72 L234.57 538.96 L235.98 536.66 L237.39 534.69 L238.81 532.9 L240.22 531.23 L241.63 529.61 L243.04 527.95 L244.45 526.2 L245.86 524.42 L247.27 522.62 L248.69 520.83 L250.1 519.06 L251.51 517.33 L252.92 515.65 L254.33 513.94 L255.74 512.22 L257.15 510.57 L258.56 509.02 L259.98 507.65 L261.39 506.47 L262.8 505.27 L264.21 504.07 L265.62 502.92 L267.03 501.87 L268.44 500.96 L269.86 500.26 L271.27 499.8 L272.68 499.65 L274.09 499.92 L275.5 500.64 L276.91 501.7 L278.32 503.01 L279.73 504.5 L281.15 506.05 L282.56 507.59 L283.97 509.1 L285.38 510.79 L286.79 512.66 L288.2 514.67 L289.61 516.77 L291.03 518.92 L292.44 521.09 L293.85 523.23 L295.26 525.39 L296.67 527.62 L298.08 529.9 L299.49 532.21 L300.9 534.53 L302.32 536.85 L303.73 539.14 L305.14 541.43 L306.55 543.8 L307.96 546.21 L309.37 548.61 L310.78 550.94 L312.2 553.16 L313.61 555.21 L315.02 557.03 L316.43 558.74 L317.84 560.37 L319.25 561.92 L320.66 563.37 L322.07 564.73 L323.49 565.98 L324.9 567.12 L326.31 568.16 L327.72 569.16 L329.13 570.12 L330.54 571.03 L331.95 571.9 L333.37 572.71 L334.78 573.47 L336.19 574.18 L337.6 574.82 L339.01 575.39 L340.42 575.9 L341.83 576.39 L343.24 576.85 L344.66 577.29 L346.07 577.7 L347.48 578.1 L348.89 578.46 L350.3 578.8 L351.71 579.12 L353.12 579.4 L354.54 579.65 L355.95 579.87 L357.36 580.06 L358.77 580.25 L360.18 580.43 L361.59 580.6 L363 580.77 L364.41 580.93 L365.83 581.08 L367.24 581.21 L368.65 581.33 L370.06 581.44 L371.47 581.52 L372.88 581.58 L374.29 581.62 L375.71 581.64 L375.71 581.8 L151.3 581.8 Z" fill="#00BA38" fill-opacity="0.26" stroke="none"/>
<path d="M151.3 581.8 L152.71 581.8 L154.13 581.78 L155.54 581.76 L156.95 581.73 L158.36 581.69 L159.77 581.64 L161.18 581.59 L162.59 581.53 L164.01 581.46 L165.42 581.39 L166.83 581.31 L168.24 581.23 L169.65 581.14 L171.06 581.05 L172.47 580.95 L173.88 580.85 L175.3 580.75 L176.71 580.64 L178.12 580.52 L179.53 580.37 L180.94 580.19 L182.35 579.99 L183.76 579.76 L185.18 579.5 L186.59 579.23 L188 578.93 L189.41 578.61 L190.82 578.27 L192.23 577.91 L193.64 577.53 L195.05 577.13 L196.47 576.72 L197.88 576.29 L199.29 575.77 L200.7 575.15 L202.11 574.44 L203.52 573.65 L204.93 572.8 L206.35 571.91 L207.76 570.99 L209.17 570.06 L210.58 569.13 L211.99 568.21 L213.4 567.34 L214.81 566.49 L216.22 565.65 L217.64 564.77 L219.05 563.82 L220.46 562.75 L221.87 561.52 L223.28 560.08 L224.69 558.11 L226.1 555.7 L227.52 553.06 L228.93 550.41 L230.34 547.69 L231.75 544.71 L233.16 541.72 L234.57 538.96 L235.98 536.66 L237.39 534.69 L238.81 532.9 L240.22 531.23 L241.63 529.61 L243.04 527.95 L244.45 526.2 L245.86 524.42 L247.27 522.62 L248.69 520.83 L250.1 519.06 L251.51 517.33 L252.92 515.65 L254.33 513.94 L255.74 512.22 L257.15 510.57 L258.56 509.02 L259.98 507.65 L261.39 506.47 L262.8 505.27 L264.21 504.07 L265.62 502.92 L267.03 501.87 L268.44 500.96 L269.86 500.26 L271.27 499.8 L272.68 499.65 L274.09 499.92 L275.5 500.64 L276.91 501.7 L278.32 503.01 L279.73 504.5 L281.15 506.05 L282.56 507.59 L283.97 509.1 L285.38 510.79 L286.79 512.66 L288.2 514.67 L289.61 516.77 L291.03 518.92 L292.44 521.09 L293.85 523.23 L295.26 525.39 L296.67 527.62 L298.08 529.9 L299.49 532.21 L300.9 534.53 L302.32 536.85 L303.73 539.14 L305.14 541.43 L306.55 543.8 L307.96 546.21 L309.37 548.61 L310.78 550.94 L312.2 553.16 L313.61 555.21 L315.02 557.03 L316.43 558.74 L317.84 560.37 L319.25 561.92 L320.66 563.37 L322.07 564.73 L323.49 565.98 L324.9 567.12 L326.31 568.16 L327.72 569.16 L329.13 570.12 L330.54 571.03 L331.95 571.9 L333.37 572.71 L334.78 573.47 L336.19 574.18 L337.6 574.82 L339.01 575.39 L340.42 575.9 L341.83 576.39 L343.24 576.85 L344.66 577.29 L346.07 577.7 L347.48 578.1 L348.89 578.46 L350.3 578.8 L351.71 579.12 L353.12 579.4 L354.54 579.65 L355.95 579.87 L357.36 580.06 L358.77 580.25 L360.18 580.43 L361.59 580.6 L363 580.77 L364.41 580.93 L365.83 581.08 L367.24 581.21 L368.65 581.33 L370.06 581.44 L371.47 581.52 L372.88 581.58 L374.29 581.62 L375.71 581.64" fill="none" stroke="#00BA38" stroke-width="3.4" stroke-linejoin="round" stroke-linecap="butt"/>
<path d="M214.4 581.8 L215.07 581.8 L215.74 581.79 L216.41 581.77 L217.08 581.75 L217.75 581.71 L218.43 581.68 L219.1 581.63 L219.77 581.58 L220.44 581.53 L221.11 581.46 L221.78 581.39 L222.45 581.31 L223.12 581.23 L223.79 581.14 L224.46 581.04 L225.13 580.94 L225.8 580.83 L226.47 580.71 L227.14 580.59 L227.81 580.46 L228.48 580.32 L229.15 580.18 L229.82 580.03 L230.49 579.87 L231.16 579.71 L231.84 579.54 L232.51 579.36 L233.18 579.18 L233.85 579 L234.52 578.8 L235.19 578.6 L235.86 578.38 L236.53 578.05 L237.2 577.63 L237.87 577.1 L238.54 576.48 L239.21 575.78 L239.88 575 L240.55 574.14 L241.22 573.22 L241.89 572.23 L242.56 571.18 L243.23 570.08 L243.9 568.94 L244.57 567.61 L245.25 566 L245.92 564.13 L246.59 562.02 L247.26 559.72 L247.93 557.23 L248.6 554.59 L249.27 551.83 L249.94 548.97 L250.61 545.97 L251.28 542.61 L251.95 538.9 L252.62 534.87 L253.29 530.56 L253.96 525.99 L254.63 521.17 L255.3 515.72 L255.97 509.67 L256.64 503.27 L257.31 496.71 L257.98 490.22 L258.66 484.01 L259.33 478.04 L260 472.14 L260.67 466.27 L261.34 460.38 L262.01 454.43 L262.68 448.37 L263.35 441.95 L264.02 434.88 L264.69 427.59 L265.36 420.53 L266.03 414.17 L266.7 408.95 L267.37 405.11 L268.04 401.8 L268.71 398.93 L269.38 396.56 L270.05 394.75 L270.72 393.35 L271.39 392.03 L272.07 390.9 L272.74 390.06 L273.41 389.62 L274.08 389.67 L274.75 390.27 L275.42 391.33 L276.09 392.78 L276.76 394.52 L277.43 396.47 L278.1 398.54 L278.77 400.64 L279.44 402.92 L280.11 405.74 L280.78 409 L281.45 412.58 L282.12 416.35 L282.79 420.19 L283.46 424.01 L284.13 427.99 L284.8 432.16 L285.48 436.52 L286.15 441.05 L286.82 445.76 L287.49 450.65 L288.16 455.85 L288.83 461.34 L289.5 467.04 L290.17 472.88 L290.84 478.78 L291.51 484.64 L292.18 490.59 L292.85 496.75 L293.52 503 L294.19 509.2 L294.86 515.21 L295.53 520.89 L296.2 526.22 L296.87 531.57 L297.54 536.81 L298.21 541.79 L298.89 546.34 L299.56 550.28 L300.23 553.5 L300.9 556.38 L301.57 559.07 L302.24 561.55 L302.91 563.8 L303.58 565.79 L304.25 567.52 L304.92 568.97 L305.59 570.14 L306.26 571.2 L306.93 572.19 L307.6 573.09 L308.27 573.93 L308.94 574.69 L309.61 575.39 L310.28 576.03 L310.95 576.62 L311.62 577.16 L312.3 577.64 L312.97 578.1 L313.64 578.54 L314.31 578.97 L314.98 579.38 L315.65 579.78 L316.32 580.15 L316.99 580.5 L317.66 580.81 L318.33 581.1 L319 581.34 L319.67 581.54 L320.34 581.7 L321.01 581.8 L321.01 581.8 L214.4 581.8 Z" fill="#619CFF" fill-opacity="0.26" stroke="none"/>
<path d="M214.4 581.8 L215.07 581.8 L215.74 581.79 L216.41 581.77 L217.08 581.75 L217.75 581.71 L218.43 581.68 L219.1 581.63 L219.77 581.58 L220.44 581.53 L221.11 581.46 L221.78 581.39 L222.45 581.31 L223.12 581.23 L223.79 581.14 L224.46 581.04 L225.13 580.94 L225.8 580.83 L226.47 580.71 L227.14 580.59 L227.81 580.46 L228.48 580.32 L229.15 580.18 L229.82 580.03 L230.49 579.87 L231.16 579.71 L231.84 579.54 L232.51 579.36 L233.18 579.18 L233.85 579 L234.52 578.8 L235.19 578.6 L235.86 578.38 L236.53 578.05 L237.2 577.63 L237.87 577.1 L238.54 576.48 L239.21 575.78 L239.88 575 L240.55 574.14 L241.22 573.22 L241.89 572.23 L242.56 571.18 L243.23 570.08 L243.9 568.94 L244.57 567.61 L245.25 566 L245.92 564.13 L246.59 562.02 L247.26 559.72 L247.93 557.23 L248.6 554.59 L249.27 551.83 L249.94 548.97 L250.61 545.97 L251.28 542.61 L251.95 538.9 L252.62 534.87 L253.29 530.56 L253.96 525.99 L254.63 521.17 L255.3 515.72 L255.97 509.67 L256.64 503.27 L257.31 496.71 L257.98 490.22 L258.66 484.01 L259.33 478.04 L260 472.14 L260.67 466.27 L261.34 460.38 L262.01 454.43 L262.68 448.37 L263.35 441.95 L264.02 434.88 L264.69 427.59 L265.36 420.53 L266.03 414.17 L266.7 408.95 L267.37 405.11 L268.04 401.8 L268.71 398.93 L269.38 396.56 L270.05 394.75 L270.72 393.35 L271.39 392.03 L272.07 390.9 L272.74 390.06 L273.41 389.62 L274.08 389.67 L274.75 390.27 L275.42 391.33 L276.09 392.78 L276.76 394.52 L277.43 396.47 L278.1 398.54 L278.77 400.64 L279.44 402.92 L280.11 405.74 L280.78 409 L281.45 412.58 L282.12 416.35 L282.79 420.19 L283.46 424.01 L284.13 427.99 L284.8 432.16 L285.48 436.52 L286.15 441.05 L286.82 445.76 L287.49 450.65 L288.16 455.85 L288.83 461.34 L289.5 467.04 L290.17 472.88 L290.84 478.78 L291.51 484.64 L292.18 490.59 L292.85 496.75 L293.52 503 L294.19 509.2 L294.86 515.21 L295.53 520.89 L296.2 526.22 L296.87 531.57 L297.54 536.81 L298.21 541.79 L298.89 546.34 L299.56 550.28 L300.23 553.5 L300.9 556.38 L301.57 559.07 L302.24 561.55 L302.91 563.8 L303.58 565.79 L304.25 567.52 L304.92 568.97 L305.59 570.14 L306.26 571.2 L306.93 572.19 L307.6 573.09 L308.27 573.93 L308.94 574.69 L309.61 575.39 L310.28 576.03 L310.95 576.62 L311.62 577.16 L312.3 577.64 L312.97 578.1 L313.64 578.54 L314.31 578.97 L314.98 579.38 L315.65 579.78 L316.32 580.15 L316.99 580.5 L317.66 580.81 L318.33 581.1 L319 581.34 L319.67 581.54 L320.34 581.7 L321.01 581.8" fill="none" stroke="#619CFF" stroke-width="3.4" stroke-linejoin="round" stroke-linecap="butt"/>
</g>
<rect x="140.2" y="379.9" width="247.9" height="211" fill="none" stroke="#b4b4b4" stroke-width="2"/>
<rect x="140.2" y="329.4" width="247.9" height="50.5" fill="#e3e3e3" stroke="#b4b4b4" stroke-width="2"/>
<text transform="translate(168.42 364.17) scale(1.1520 1)" font-size="27.7" font-family='"Liberation Sans", Arial, sans-serif' fill="#1a1a1a" stroke="#1a1a1a" stroke-width="0.3">PRT vs. CRR</text>
<path d="M172.04 590.9 V599.9 M246.1 590.9 V599.9 M320.16 590.9 V599.9 M131.2 581.8 H140.2 M131.2 532.51 H140.2 M131.2 483.22 H140.2 M131.2 433.93 H140.2 M131.2 384.64 H140.2" stroke="#b4b4b4" stroke-width="2" fill="none"/>
<text transform="translate(153.64 626.86) scale(1.2000 1)" font-size="26.9" font-family='"Liberation Sans", Arial, sans-serif' fill="#4d4d4d" stroke="#4d4d4d" stroke-width="0.5">−2</text>
<text transform="translate(237.1 626.86) scale(1.2000 1)" font-size="26.9" font-family='"Liberation Sans", Arial, sans-serif' fill="#4d4d4d" stroke="#4d4d4d" stroke-width="0.5">0</text>
<text transform="translate(311.2 626.86) scale(1.2000 1)" font-size="26.9" font-family='"Liberation Sans", Arial, sans-serif' fill="#4d4d4d" stroke="#4d4d4d" stroke-width="0.5">2</text>
<text transform="translate(76.94 591.55) scale(1.2000 1)" font-size="26.9" font-family='"Liberation Sans", Arial, sans-serif' fill="#4d4d4d" stroke="#4d4d4d" stroke-width="0.5">0.0</text>
<text transform="translate(77.1 542.26) scale(1.2000 1)" font-size="26.9" font-family='"Liberation Sans", Arial, sans-serif' fill="#4d4d4d" stroke="#4d4d4d" stroke-width="0.5">0.3</text>
<text transform="translate(77.1 492.97) scale(1.2000 1)" font-size="26.9" font-family='"Liberation Sans", Arial, sans-serif' fill="#4d4d4d" stroke="#4d4d4d" stroke-width="0.5">0.6</text>
<text transform="translate(77.18 443.68) scale(1.2000 1)" font-size="26.9" font-family='"Liberation Sans", Arial, sans-serif' fill="#4d4d4d" stroke="#4d4d4d" stroke-width="0.5">0.9</text>
<text transform="translate(77.34 394.39) scale(1.2000 1)" font-size="26.9" font-family='"Liberation Sans", Arial, sans-serif' fill="#4d4d4d" stroke="#4d4d4d" stroke-width="0.5">1.2</text>
<clipPath id="c4"><rect x="484" y="379.9" width="248.4" height="211"/></clipPath>
<g clip-path="url(#c4)">
<path d="M525.67 379.9 V590.9 M571.62 379.9 V590.9 M617.58 379.9 V590.9 M663.53 379.9 V590.9 M709.48 379.9 V590.9 M484 557.3 H732.4 M484 508.3 H732.4 M484 459.3 H732.4 M484 410.3 H732.4" stroke="#f7f7f7" stroke-width="1.6" fill="none"/>
<path d="M502.7 379.9 V590.9 M548.65 379.9 V590.9 M594.6 379.9 V590.9 M640.55 379.9 V590.9 M686.5 379.9 V590.9 M484 581.8 H732.4 M484 532.8 H732.4 M484 483.8 H732.4 M484 434.8 H732.4 M484 385.8 H732.4" stroke="#f3f3f3" stroke-width="2.0" fill="none"/>
<path d="M545.71 581.8 L546.8 581.77 L547.9 581.67 L549 581.51 L550.09 581.29 L551.19 581.02 L552.28 580.68 L553.38 580.29 L554.47 579.86 L555.57 579.37 L556.66 578.83 L557.76 578.24 L558.86 577.61 L559.95 576.94 L561.05 576.23 L562.14 575.48 L563.24 574.69 L564.33 573.87 L565.43 573.02 L566.53 572.13 L567.62 571.22 L568.72 570.28 L569.81 569.32 L570.91 568.14 L572 566.58 L573.1 564.67 L574.19 562.5 L575.29 560.13 L576.39 557.62 L577.48 555.03 L578.58 552.44 L579.67 549.91 L580.77 547.49 L581.86 545.1 L582.96 542.69 L584.05 540.25 L585.15 537.75 L586.25 535.18 L587.34 532.53 L588.44 529.76 L589.53 526.88 L590.63 523.85 L591.72 520.61 L592.82 517.07 L593.91 513.29 L595.01 509.34 L596.11 505.29 L597.2 501.21 L598.3 497.17 L599.39 493.23 L600.49 489.2 L601.58 484.98 L602.68 480.65 L603.77 476.28 L604.87 471.97 L605.97 467.79 L607.06 463.82 L608.16 460.13 L609.25 456.83 L610.35 453.97 L611.44 451.49 L612.54 449.16 L613.63 446.98 L614.73 444.96 L615.83 443.12 L616.92 441.46 L618.02 439.98 L619.11 438.69 L620.21 437.42 L621.3 436.17 L622.4 435.06 L623.5 434.2 L624.59 433.7 L625.69 433.69 L626.78 434.31 L627.88 435.43 L628.97 436.93 L630.07 438.63 L631.16 440.4 L632.26 442.19 L633.36 444.3 L634.45 446.72 L635.55 449.41 L636.64 452.3 L637.74 455.35 L638.83 458.68 L639.93 462.45 L641.02 466.54 L642.12 470.82 L643.22 475.15 L644.31 479.4 L645.41 483.81 L646.5 488.44 L647.6 493.09 L648.69 497.58 L649.79 501.71 L650.88 505.31 L651.98 508.46 L653.08 511.31 L654.17 514.02 L655.27 516.73 L656.36 519.59 L657.46 522.7 L658.55 526.04 L659.65 529.49 L660.74 532.95 L661.84 536.32 L662.94 539.5 L664.03 542.51 L665.13 545.52 L666.22 548.47 L667.32 551.33 L668.41 554.07 L669.51 556.65 L670.6 559.03 L671.7 561.16 L672.8 563.21 L673.89 565.23 L674.99 567.16 L676.08 568.95 L677.18 570.55 L678.27 571.91 L679.37 572.98 L680.46 573.76 L681.56 574.44 L682.66 575.07 L683.75 575.65 L684.85 576.18 L685.94 576.66 L687.04 577.1 L688.13 577.49 L689.23 577.84 L690.33 578.14 L691.42 578.41 L692.52 578.65 L693.61 578.86 L694.71 579.06 L695.8 579.26 L696.9 579.46 L697.99 579.65 L699.09 579.84 L700.19 580.02 L701.28 580.19 L702.38 580.36 L703.47 580.52 L704.57 580.67 L705.66 580.82 L706.76 580.95 L707.85 581.08 L708.95 581.2 L710.05 581.31 L711.14 581.41 L712.24 581.5 L713.33 581.57 L714.43 581.64 L715.52 581.7 L716.62 581.74 L717.71 581.77 L718.81 581.79 L719.91 581.8 L719.91 581.8 L545.71 581.8 Z" fill="#F8766D" fill-opacity="0.26" stroke="none"/>
<path d="M545.71 581.8 L546.8 581.77 L547.9 581.67 L549 581.51 L550.09 581.29 L551.19 581.02 L552.28 580.68 L553.38 580.29 L554.47 579.86 L555.57 579.37 L556.66 578.83 L557.76 578.24 L558.86 577.61 L559.95 576.94 L561.05 576.23 L562.14 575.48 L563.24 574.69 L564.33 573.87 L565.43 573.02 L566.53 572.13 L567.62 571.22 L568.72 570.28 L569.81 569.32 L570.91 568.14 L572 566.58 L573.1 564.67 L574.19 562.5 L575.29 560.13 L576.39 557.62 L577.48 555.03 L578.58 552.44 L579.67 549.91 L580.77 547.49 L581.86 545.1 L582.96 542.69 L584.05 540.25 L585.15 537.75 L586.25 535.18 L587.34 532.53 L588.44 529.76 L589.53 526.88 L590.63 523.85 L591.72 520.61 L592.82 517.07 L593.91 513.29 L595.01 509.34 L596.11 505.29 L597.2 501.21 L598.3 497.17 L599.39 493.23 L600.49 489.2 L601.58 484.98 L602.68 480.65 L603.77 476.28 L604.87 471.97 L605.97 467.79 L607.06 463.82 L608.16 460.13 L609.25 456.83 L610.35 453.97 L611.44 451.49 L612.54 449.16 L613.63 446.98 L614.73 444.96 L615.83 443.12 L616.92 441.46 L618.02 439.98 L619.11 438.69 L620.21 437.42 L621.3 436.17 L622.4 435.06 L623.5 434.2 L624.59 433.7 L625.69 433.69 L626.78 434.31 L627.88 435.43 L628.97 436.93 L630.07 438.63 L631.16 440.4 L632.26 442.19 L633.36 444.3 L634.45 446.72 L635.55 449.41 L636.64 452.3 L637.74 455.35 L638.83 458.68 L639.93 462.45 L641.02 466.54 L642.12 470.82 L643.22 475.15 L644.31 479.4 L645.41 483.81 L646.5 488.44 L647.6 493.09 L648.69 497.58 L649.79 501.71 L650.88 505.31 L651.98 508.46 L653.08 511.31 L654.17 514.02 L655.27 516.73 L656.36 519.59 L657.46 522.7 L658.55 526.04 L659.65 529.49 L660.74 532.95 L661.84 536.32 L662.94 539.5 L664.03 542.51 L665.13 545.52 L666.22 548.47 L667.32 551.33 L668.41 554.07 L669.51 556.65 L670.6 559.03 L671.7 561.16 L672.8 563.21 L673.89 565.23 L674.99 567.16 L676.08 568.95 L677.18 570.55 L678.27 571.91 L679.37 572.98 L680.46 573.76 L681.56 574.44 L682.66 575.07 L683.75 575.65 L684.85 576.18 L685.94 576.66 L687.04 577.1 L688.13 577.49 L689.23 577.84 L690.33 578.14 L691.42 578.41 L692.52 578.65 L693.61 578.86 L694.71 579.06 L695.8 579.26 L696.9 579.46 L697.99 579.65 L699.09 579.84 L700.19 580.02 L701.28 580.19 L702.38 580.36 L703.47 580.52 L704.57 580.67 L705.66 580.82 L706.76 580.95 L707.85 581.08 L708.95 581.2 L710.05 581.31 L711.14 581.41 L712.24 581.5 L713.33 581.57 L714.43 581.64 L715.52 581.7 L716.62 581.74 L717.71 581.77 L718.81 581.79 L719.91 581.8" fill="none" stroke="#F8766D" stroke-width="3.4" stroke-linejoin="round" stroke-linecap="butt"/>
<path d="M495.3 581.8 L496.26 581.8 L497.21 581.79 L498.17 581.77 L499.13 581.75 L500.08 581.73 L501.04 581.69 L501.99 581.65 L502.95 581.61 L503.91 581.56 L504.86 581.51 L505.82 581.45 L506.77 581.38 L507.73 581.31 L508.69 581.23 L509.64 581.15 L510.6 581.07 L511.55 580.98 L512.51 580.88 L513.47 580.77 L514.42 580.57 L515.38 580.27 L516.33 579.87 L517.29 579.37 L518.25 578.79 L519.2 578.13 L520.16 577.38 L521.11 576.56 L522.07 575.68 L523.03 574.73 L523.98 573.73 L524.94 572.67 L525.89 571.57 L526.85 570.42 L527.81 569.23 L528.76 567.81 L529.72 566.01 L530.67 563.87 L531.63 561.48 L532.59 558.88 L533.54 556.14 L534.5 553.31 L535.45 550.47 L536.41 547.66 L537.37 544.77 L538.32 541.72 L539.28 538.54 L540.23 535.23 L541.19 531.82 L542.15 528.3 L543.1 524.7 L544.06 521.02 L545.01 517.28 L545.97 513.41 L546.93 509.42 L547.88 505.31 L548.84 501.08 L549.79 496.76 L550.75 492.33 L551.71 487.82 L552.66 483.22 L553.62 478.5 L554.57 473.41 L555.53 468.08 L556.49 462.66 L557.44 457.33 L558.4 452.25 L559.35 447.57 L560.31 443.12 L561.27 438.64 L562.22 434.28 L563.18 430.21 L564.13 426.59 L565.09 423.58 L566.05 421.29 L567 419.18 L567.96 417.14 L568.91 415.23 L569.87 413.5 L570.83 412.02 L571.78 410.83 L572.74 409.99 L573.69 409.56 L574.65 409.6 L575.61 410.12 L576.56 411.06 L577.52 412.35 L578.47 413.92 L579.43 415.71 L580.39 417.63 L581.34 419.62 L582.3 421.61 L583.25 423.68 L584.21 426.09 L585.17 428.8 L586.12 431.78 L587.08 434.99 L588.03 438.38 L588.99 441.91 L589.95 445.54 L590.9 449.22 L591.86 453.14 L592.81 457.46 L593.77 462.09 L594.73 466.91 L595.68 471.82 L596.64 476.71 L597.59 481.47 L598.55 486.01 L599.51 490.22 L600.46 494.2 L601.42 498.05 L602.37 501.8 L603.33 505.46 L604.29 509.08 L605.24 512.67 L606.2 516.27 L607.15 519.88 L608.11 523.48 L609.07 527.04 L610.02 530.56 L610.98 534.04 L611.93 537.46 L612.89 540.83 L613.84 544.3 L614.8 547.84 L615.76 551.32 L616.71 554.62 L617.67 557.61 L618.62 560.17 L619.58 562.32 L620.54 564.39 L621.49 566.37 L622.45 568.23 L623.4 569.94 L624.36 571.45 L625.32 572.74 L626.27 573.78 L627.23 574.52 L628.18 575.06 L629.14 575.51 L630.1 575.89 L631.05 576.22 L632.01 576.52 L632.96 576.8 L633.92 577.08 L634.88 577.38 L635.83 577.71 L636.79 578.05 L637.74 578.4 L638.7 578.74 L639.66 579.09 L640.61 579.43 L641.57 579.77 L642.52 580.11 L643.48 580.45 L644.44 580.79 L645.39 581.13 L646.35 581.46 L647.3 581.8 L647.3 581.8 L495.3 581.8 Z" fill="#00BA38" fill-opacity="0.26" stroke="none"/>
<path d="M495.3 581.8 L496.26 581.8 L497.21 581.79 L498.17 581.77 L499.13 581.75 L500.08 581.73 L501.04 581.69 L501.99 581.65 L502.95 581.61 L503.91 581.56 L504.86 581.51 L505.82 581.45 L506.77 581.38 L507.73 581.31 L508.69 581.23 L509.64 581.15 L510.6 581.07 L511.55 580.98 L512.51 580.88 L513.47 580.77 L514.42 580.57 L515.38 580.27 L516.33 579.87 L517.29 579.37 L518.25 578.79 L519.2 578.13 L520.16 577.38 L521.11 576.56 L522.07 575.68 L523.03 574.73 L523.98 573.73 L524.94 572.67 L525.89 571.57 L526.85 570.42 L527.81 569.23 L528.76 567.81 L529.72 566.01 L530.67 563.87 L531.63 561.48 L532.59 558.88 L533.54 556.14 L534.5 553.31 L535.45 550.47 L536.41 547.66 L537.37 544.77 L538.32 541.72 L539.28 538.54 L540.23 535.23 L541.19 531.82 L542.15 528.3 L543.1 524.7 L544.06 521.02 L545.01 517.28 L545.97 513.41 L546.93 509.42 L547.88 505.31 L548.84 501.08 L549.79 496.76 L550.75 492.33 L551.71 487.82 L552.66 483.22 L553.62 478.5 L554.57 473.41 L555.53 468.08 L556.49 462.66 L557.44 457.33 L558.4 452.25 L559.35 447.57 L560.31 443.12 L561.27 438.64 L562.22 434.28 L563.18 430.21 L564.13 426.59 L565.09 423.58 L566.05 421.29 L567 419.18 L567.96 417.14 L568.91 415.23 L569.87 413.5 L570.83 412.02 L571.78 410.83 L572.74 409.99 L573.69 409.56 L574.65 409.6 L575.61 410.12 L576.56 411.06 L577.52 412.35 L578.47 413.92 L579.43 415.71 L580.39 417.63 L581.34 419.62 L582.3 421.61 L583.25 423.68 L584.21 426.09 L585.17 428.8 L586.12 431.78 L587.08 434.99 L588.03 438.38 L588.99 441.91 L589.95 445.54 L590.9 449.22 L591.86 453.14 L592.81 457.46 L593.77 462.09 L594.73 466.91 L595.68 471.82 L596.64 476.71 L597.59 481.47 L598.55 486.01 L599.51 490.22 L600.46 494.2 L601.42 498.05 L602.37 501.8 L603.33 505.46 L604.29 509.08 L605.24 512.67 L606.2 516.27 L607.15 519.88 L608.11 523.48 L609.07 527.04 L610.02 530.56 L610.98 534.04 L611.93 537.46 L612.89 540.83 L613.84 544.3 L614.8 547.84 L615.76 551.32 L616.71 554.62 L617.67 557.61 L618.62 560.17 L619.58 562.32 L620.54 564.39 L621.49 566.37 L622.45 568.23 L623.4 569.94 L624.36 571.45 L625.32 572.74 L626.27 573.78 L627.23 574.52 L628.18 575.06 L629.14 575.51 L630.1 575.89 L631.05 576.22 L632.01 576.52 L632.96 576.8 L633.92 577.08 L634.88 577.38 L635.83 577.71 L636.79 578.05 L637.74 578.4 L638.7 578.74 L639.66 579.09 L640.61 579.43 L641.57 579.77 L642.52 580.11 L643.48 580.45 L644.44 580.79 L645.39 581.13 L646.35 581.46 L647.3 581.8" fill="none" stroke="#00BA38" stroke-width="3.4" stroke-linejoin="round" stroke-linecap="butt"/>
<path d="M529.9 581.8 L530.74 581.78 L531.58 581.73 L532.41 581.64 L533.25 581.51 L534.09 581.35 L534.93 581.16 L535.76 580.94 L536.6 580.69 L537.44 580.4 L538.28 580.09 L539.11 579.75 L539.95 579.38 L540.79 578.99 L541.63 578.57 L542.46 578.12 L543.3 577.66 L544.14 577.17 L544.98 576.66 L545.81 576.12 L546.65 575.57 L547.49 574.85 L548.33 573.77 L549.16 572.38 L550 570.7 L550.84 568.78 L551.68 566.65 L552.52 564.36 L553.35 561.94 L554.19 559.42 L555.03 556.84 L555.87 554.25 L556.7 551.68 L557.54 549.17 L558.38 546.75 L559.22 544.46 L560.05 542.34 L560.89 540.34 L561.73 538.38 L562.57 536.38 L563.4 534.26 L564.24 531.92 L565.08 529.3 L565.92 526.28 L566.75 522.49 L567.59 517.94 L568.43 512.84 L569.27 507.37 L570.1 501.71 L570.94 496.07 L571.78 490.63 L572.62 485.38 L573.45 479.97 L574.29 474.46 L575.13 468.93 L575.97 463.46 L576.8 458.14 L577.64 453.04 L578.48 448.24 L579.32 443.62 L580.15 439.1 L580.99 434.72 L581.83 430.47 L582.67 426.39 L583.5 422.49 L584.34 418.78 L585.18 415.21 L586.02 411.57 L586.85 407.98 L587.69 404.53 L588.53 401.34 L589.37 398.52 L590.2 396.17 L591.04 394.41 L591.88 392.89 L592.72 391.47 L593.55 390.32 L594.39 389.56 L595.23 389.33 L596.07 389.6 L596.9 390.23 L597.74 391.15 L598.58 392.3 L599.42 393.61 L600.25 395.05 L601.09 397.22 L601.93 400.22 L602.77 403.85 L603.6 407.94 L604.44 412.29 L605.28 416.73 L606.12 421.05 L606.95 425.3 L607.79 429.85 L608.63 434.63 L609.47 439.55 L610.3 444.54 L611.14 449.51 L611.98 454.37 L612.82 459.04 L613.65 463.55 L614.49 467.95 L615.33 472.3 L616.17 476.65 L617 481.04 L617.84 485.52 L618.68 490.14 L619.52 495.03 L620.35 500.27 L621.19 505.61 L622.03 510.8 L622.87 515.56 L623.7 519.8 L624.54 523.83 L625.38 527.66 L626.22 531.33 L627.05 534.85 L627.89 538.23 L628.73 541.5 L629.57 544.68 L630.4 547.85 L631.24 551.01 L632.08 554.1 L632.92 557.05 L633.75 559.8 L634.59 562.26 L635.43 564.39 L636.27 566.17 L637.1 567.85 L637.94 569.47 L638.78 571 L639.62 572.42 L640.45 573.72 L641.29 574.89 L642.13 575.91 L642.97 576.77 L643.8 577.44 L644.64 577.95 L645.48 578.41 L646.32 578.85 L647.15 579.26 L647.99 579.63 L648.83 579.98 L649.67 580.29 L650.5 580.57 L651.34 580.81 L652.18 581.02 L653.02 581.19 L653.85 581.32 L654.69 581.41 L655.53 581.47 L656.37 581.53 L657.2 581.59 L658.04 581.64 L658.88 581.69 L659.72 581.73 L660.55 581.76 L661.39 581.78 L662.23 581.8 L663.07 581.8 L663.07 581.8 L529.9 581.8 Z" fill="#619CFF" fill-opacity="0.26" stroke="none"/>
<path d="M529.9 581.8 L530.74 581.78 L531.58 581.73 L532.41 581.64 L533.25 581.51 L534.09 581.35 L534.93 581.16 L535.76 580.94 L536.6 580.69 L537.44 580.4 L538.28 580.09 L539.11 579.75 L539.95 579.38 L540.79 578.99 L541.63 578.57 L542.46 578.12 L543.3 577.66 L544.14 577.17 L544.98 576.66 L545.81 576.12 L546.65 575.57 L547.49 574.85 L548.33 573.77 L549.16 572.38 L550 570.7 L550.84 568.78 L551.68 566.65 L552.52 564.36 L553.35 561.94 L554.19 559.42 L555.03 556.84 L555.87 554.25 L556.7 551.68 L557.54 549.17 L558.38 546.75 L559.22 544.46 L560.05 542.34 L560.89 540.34 L561.73 538.38 L562.57 536.38 L563.4 534.26 L564.24 531.92 L565.08 529.3 L565.92 526.28 L566.75 522.49 L567.59 517.94 L568.43 512.84 L569.27 507.37 L570.1 501.71 L570.94 496.07 L571.78 490.63 L572.62 485.38 L573.45 479.97 L574.29 474.46 L575.13 468.93 L575.97 463.46 L576.8 458.14 L577.64 453.04 L578.48 448.24 L579.32 443.62 L580.15 439.1 L580.99 434.72 L581.83 430.47 L582.67 426.39 L583.5 422.49 L584.34 418.78 L585.18 415.21 L586.02 411.57 L586.85 407.98 L587.69 404.53 L588.53 401.34 L589.37 398.52 L590.2 396.17 L591.04 394.41 L591.88 392.89 L592.72 391.47 L593.55 390.32 L594.39 389.56 L595.23 389.33 L596.07 389.6 L596.9 390.23 L597.74 391.15 L598.58 392.3 L599.42 393.61 L600.25 395.05 L601.09 397.22 L601.93 400.22 L602.77 403.85 L603.6 407.94 L604.44 412.29 L605.28 416.73 L606.12 421.05 L606.95 425.3 L607.79 429.85 L608.63 434.63 L609.47 439.55 L610.3 444.54 L611.14 449.51 L611.98 454.37 L612.82 459.04 L613.65 463.55 L614.49 467.95 L615.33 472.3 L616.17 476.65 L617 481.04 L617.84 485.52 L618.68 490.14 L619.52 495.03 L620.35 500.27 L621.19 505.61 L622.03 510.8 L622.87 515.56 L623.7 519.8 L624.54 523.83 L625.38 527.66 L626.22 531.33 L627.05 534.85 L627.89 538.23 L628.73 541.5 L629.57 544.68 L630.4 547.85 L631.24 551.01 L632.08 554.1 L632.92 557.05 L633.75 559.8 L634.59 562.26 L635.43 564.39 L636.27 566.17 L637.1 567.85 L637.94 569.47 L638.78 571 L639.62 572.42 L640.45 573.72 L641.29 574.89 L642.13 575.91 L642.97 576.77 L643.8 577.44 L644.64 577.95 L645.48 578.41 L646.32 578.85 L647.15 579.26 L647.99 579.63 L648.83 579.98 L649.67 580.29 L650.5 580.57 L651.34 580.81 L652.18 581.02 L653.02 581.19 L653.85 581.32 L654.69 581.41 L655.53 581.47 L656.37 581.53 L657.2 581.59 L658.04 581.64 L658.88 581.69 L659.72 581.73 L660.55 581.76 L661.39 581.78 L662.23 581.8 L663.07 581.8" fill="none" stroke="#619CFF" stroke-width="3.4" stroke-linejoin="round" stroke-linecap="butt"/>
</g>
<rect x="484" y="379.9" width="248.4" height="211" fill="none" stroke="#b4b4b4" stroke-width="2"/>
<rect x="484" y="329.4" width="248.4" height="50.5" fill="#e3e3e3" stroke="#b4b4b4" stroke-width="2"/>
<text transform="translate(524.55 364.03) scale(1.1520 1)" font-size="27.7" font-family='"Liberation Sans", Arial, sans-serif' fill="#1a1a1a" stroke="#1a1a1a" stroke-width="0.3">PRT vs. NH</text>
<path d="M502.7 590.9 V599.9 M548.65 590.9 V599.9 M594.6 590.9 V599.9 M640.55 590.9 V599.9 M686.5 590.9 V599.9 M475 581.8 H484 M475 532.8 H484 M475 483.8 H484 M475 434.8 H484 M475 385.8 H484" stroke="#b4b4b4" stroke-width="2" fill="none"/>
<text transform="translate(484.3 626.86) scale(1.2000 1)" font-size="26.9" font-family='"Liberation Sans", Arial, sans-serif' fill="#4d4d4d" stroke="#4d4d4d" stroke-width="0.5">−2</text>
<text transform="translate(530.21 626.86) scale(1.2000 1)" font-size="26.9" font-family='"Liberation Sans", Arial, sans-serif' fill="#4d4d4d" stroke="#4d4d4d" stroke-width="0.5">−1</text>
<text transform="translate(585.6 626.86) scale(1.2000 1)" font-size="26.9" font-family='"Liberation Sans", Arial, sans-serif' fill="#4d4d4d" stroke="#4d4d4d" stroke-width="0.5">0</text>
<text transform="translate(631.15 626.86) scale(1.2000 1)" font-size="26.9" font-family='"Liberation Sans", Arial, sans-serif' fill="#4d4d4d" stroke="#4d4d4d" stroke-width="0.5">1</text>
<text transform="translate(677.54 626.86) scale(1.2000 1)" font-size="26.9" font-family='"Liberation Sans", Arial, sans-serif' fill="#4d4d4d" stroke="#4d4d4d" stroke-width="0.5">2</text>
<text transform="translate(402.83 591.55) scale(1.2000 1)" font-size="26.9" font-family='"Liberation Sans", Arial, sans-serif' fill="#4d4d4d" stroke="#4d4d4d" stroke-width="0.5">0.00</text>
<text transform="translate(402.91 542.55) scale(1.2000 1)" font-size="26.9" font-family='"Liberation Sans", Arial, sans-serif' fill="#4d4d4d" stroke="#4d4d4d" stroke-width="0.5">0.25</text>
<text transform="translate(402.83 493.55) scale(1.2000 1)" font-size="26.9" font-family='"Liberation Sans", Arial, sans-serif' fill="#4d4d4d" stroke="#4d4d4d" stroke-width="0.5">0.50</text>
<text transform="translate(402.91 444.55) scale(1.2000 1)" font-size="26.9" font-family='"Liberation Sans", Arial, sans-serif' fill="#4d4d4d" stroke="#4d4d4d" stroke-width="0.5">0.75</text>
<text transform="translate(402.83 395.55) scale(1.2000 1)" font-size="26.9" font-family='"Liberation Sans", Arial, sans-serif' fill="#4d4d4d" stroke="#4d4d4d" stroke-width="0.5">1.00</text>
<clipPath id="c5"><rect x="811.5" y="379.9" width="248" height="211"/></clipPath>
<g clip-path="url(#c5)">
<path d="M849.39 379.9 V590.9 M921.06 379.9 V590.9 M992.74 379.9 V590.9 M811.5 554.65 H1059.5 M811.5 500.35 H1059.5 M811.5 446.05 H1059.5 M811.5 391.75 H1059.5" stroke="#f7f7f7" stroke-width="1.6" fill="none"/>
<path d="M813.56 379.9 V590.9 M885.23 379.9 V590.9 M956.9 379.9 V590.9 M1028.57 379.9 V590.9 M811.5 581.8 H1059.5 M811.5 527.5 H1059.5 M811.5 473.2 H1059.5 M811.5 418.9 H1059.5" stroke="#f3f3f3" stroke-width="2.0" fill="none"/>
<path d="M822.38 581.8 L823.74 581.8 L825.11 581.79 L826.47 581.78 L827.83 581.76 L829.2 581.74 L830.56 581.72 L831.93 581.69 L833.29 581.66 L834.66 581.63 L836.02 581.6 L837.39 581.56 L838.75 581.52 L840.12 581.48 L841.48 581.43 L842.85 581.36 L844.21 581.27 L845.58 581.17 L846.94 581.05 L848.31 580.92 L849.67 580.77 L851.04 580.6 L852.4 580.43 L853.77 580.24 L855.13 580.04 L856.5 579.83 L857.86 579.6 L859.23 579.31 L860.59 578.97 L861.96 578.58 L863.32 578.14 L864.69 577.65 L866.05 577.11 L867.42 576.54 L868.78 575.92 L870.15 575.27 L871.51 574.5 L872.88 573.59 L874.24 572.56 L875.61 571.42 L876.97 570.17 L878.34 568.81 L879.7 567.13 L881.07 565.13 L882.43 562.94 L883.8 560.68 L885.16 558.49 L886.53 556.49 L887.89 554.75 L889.25 553.17 L890.62 551.64 L891.98 550.05 L893.35 548.3 L894.71 546.27 L896.08 543.75 L897.44 540.67 L898.81 537.26 L900.17 533.81 L901.54 530.54 L902.9 527.32 L904.27 524.09 L905.63 520.9 L907 517.82 L908.36 514.94 L909.73 512.32 L911.09 509.79 L912.46 507.12 L913.82 504.11 L915.19 500.64 L916.55 496.77 L917.92 492.56 L919.28 488.08 L920.65 483.26 L922.01 477 L923.38 471.01 L924.74 467.6 L926.11 465.69 L927.47 464.22 L928.84 463.23 L930.2 462.73 L931.57 462.37 L932.93 462.08 L934.3 461.89 L935.66 461.8 L937.03 462.05 L938.39 463 L939.76 464.46 L941.12 466.2 L942.49 467.99 L943.85 470 L945.22 472.5 L946.58 475.33 L947.94 478.36 L949.31 481.41 L950.67 484.33 L952.04 487.01 L953.4 489.54 L954.77 492.03 L956.13 494.59 L957.5 497.36 L958.86 500.43 L960.23 504.02 L961.59 508.44 L962.96 513.31 L964.32 518.19 L965.69 522.64 L967.05 526.63 L968.42 530.45 L969.78 534.1 L971.15 537.53 L972.51 540.74 L973.88 543.83 L975.24 546.81 L976.61 549.66 L977.97 552.32 L979.34 554.76 L980.7 556.94 L982.07 558.93 L983.43 560.78 L984.8 562.5 L986.16 564.1 L987.53 565.59 L988.89 566.99 L990.26 568.32 L991.62 569.62 L992.99 570.87 L994.35 572.05 L995.72 573.14 L997.08 574.12 L998.45 574.98 L999.81 575.71 L1001.18 576.39 L1002.54 577.05 L1003.91 577.68 L1005.27 578.28 L1006.63 578.84 L1008 579.34 L1009.36 579.78 L1010.73 580.15 L1012.09 580.45 L1013.46 580.65 L1014.82 580.77 L1016.19 580.88 L1017.55 580.98 L1018.92 581.08 L1020.28 581.17 L1021.65 581.25 L1023.01 581.33 L1024.38 581.4 L1025.74 581.47 L1027.11 581.53 L1028.47 581.59 L1029.84 581.64 L1031.2 581.68 L1032.57 581.72 L1033.93 581.75 L1035.3 581.77 L1036.66 581.79 L1038.03 581.8 L1039.39 581.8 L1039.39 581.8 L822.38 581.8 Z" fill="#F8766D" fill-opacity="0.26" stroke="none"/>
<path d="M822.38 581.8 L823.74 581.8 L825.11 581.79 L826.47 581.78 L827.83 581.76 L829.2 581.74 L830.56 581.72 L831.93 581.69 L833.29 581.66 L834.66 581.63 L836.02 581.6 L837.39 581.56 L838.75 581.52 L840.12 581.48 L841.48 581.43 L842.85 581.36 L844.21 581.27 L845.58 581.17 L846.94 581.05 L848.31 580.92 L849.67 580.77 L851.04 580.6 L852.4 580.43 L853.77 580.24 L855.13 580.04 L856.5 579.83 L857.86 579.6 L859.23 579.31 L860.59 578.97 L861.96 578.58 L863.32 578.14 L864.69 577.65 L866.05 577.11 L867.42 576.54 L868.78 575.92 L870.15 575.27 L871.51 574.5 L872.88 573.59 L874.24 572.56 L875.61 571.42 L876.97 570.17 L878.34 568.81 L879.7 567.13 L881.07 565.13 L882.43 562.94 L883.8 560.68 L885.16 558.49 L886.53 556.49 L887.89 554.75 L889.25 553.17 L890.62 551.64 L891.98 550.05 L893.35 548.3 L894.71 546.27 L896.08 543.75 L897.44 540.67 L898.81 537.26 L900.17 533.81 L901.54 530.54 L902.9 527.32 L904.27 524.09 L905.63 520.9 L907 517.82 L908.36 514.94 L909.73 512.32 L911.09 509.79 L912.46 507.12 L913.82 504.11 L915.19 500.64 L916.55 496.77 L917.92 492.56 L919.28 488.08 L920.65 483.26 L922.01 477 L923.38 471.01 L924.74 467.6 L926.11 465.69 L927.47 464.22 L928.84 463.23 L930.2 462.73 L931.57 462.37 L932.93 462.08 L934.3 461.89 L935.66 461.8 L937.03 462.05 L938.39 463 L939.76 464.46 L941.12 466.2 L942.49 467.99 L943.85 470 L945.22 472.5 L946.58 475.33 L947.94 478.36 L949.31 481.41 L950.67 484.33 L952.04 487.01 L953.4 489.54 L954.77 492.03 L956.13 494.59 L957.5 497.36 L958.86 500.43 L960.23 504.02 L961.59 508.44 L962.96 513.31 L964.32 518.19 L965.69 522.64 L967.05 526.63 L968.42 530.45 L969.78 534.1 L971.15 537.53 L972.51 540.74 L973.88 543.83 L975.24 546.81 L976.61 549.66 L977.97 552.32 L979.34 554.76 L980.7 556.94 L982.07 558.93 L983.43 560.78 L984.8 562.5 L986.16 564.1 L987.53 565.59 L988.89 566.99 L990.26 568.32 L991.62 569.62 L992.99 570.87 L994.35 572.05 L995.72 573.14 L997.08 574.12 L998.45 574.98 L999.81 575.71 L1001.18 576.39 L1002.54 577.05 L1003.91 577.68 L1005.27 578.28 L1006.63 578.84 L1008 579.34 L1009.36 579.78 L1010.73 580.15 L1012.09 580.45 L1013.46 580.65 L1014.82 580.77 L1016.19 580.88 L1017.55 580.98 L1018.92 581.08 L1020.28 581.17 L1021.65 581.25 L1023.01 581.33 L1024.38 581.4 L1025.74 581.47 L1027.11 581.53 L1028.47 581.59 L1029.84 581.64 L1031.2 581.68 L1032.57 581.72 L1033.93 581.75 L1035.3 581.77 L1036.66 581.79 L1038.03 581.8 L1039.39 581.8" fill="none" stroke="#F8766D" stroke-width="3.4" stroke-linejoin="round" stroke-linecap="butt"/>
<path d="M905.51 581.8 L906.41 581.72 L907.3 581.61 L908.2 581.45 L909.09 581.26 L909.99 581.04 L910.88 580.78 L911.78 580.5 L912.67 580.19 L913.57 579.86 L914.46 579.51 L915.35 579.14 L916.25 578.75 L917.14 578.35 L918.04 577.94 L918.93 577.52 L919.83 577.09 L920.72 576.66 L921.62 576.18 L922.51 575.66 L923.41 575.09 L924.3 574.48 L925.2 573.81 L926.09 573.08 L926.99 572.3 L927.88 571.46 L928.78 570.56 L929.67 569.6 L930.57 568.55 L931.46 567.35 L932.36 565.97 L933.25 564.43 L934.14 562.73 L935.04 560.86 L935.93 558.83 L936.83 556.64 L937.72 554.28 L938.62 551.75 L939.51 548.67 L940.41 544.98 L941.3 540.82 L942.2 536.32 L943.09 531.6 L943.99 526.81 L944.88 522.06 L945.78 517.04 L946.67 511.66 L947.57 506.07 L948.46 500.4 L949.36 494.8 L950.25 489.42 L951.14 484.37 L952.04 479.52 L952.93 474.75 L953.83 470.08 L954.72 465.56 L955.62 461.22 L956.51 457.09 L957.41 453.22 L958.3 449.53 L959.2 445.97 L960.09 442.55 L960.99 439.28 L961.88 436.18 L962.78 433.26 L963.67 430.52 L964.57 427.77 L965.46 424.84 L966.36 421.9 L967.25 419.1 L968.14 416.61 L969.04 414.57 L969.93 413.16 L970.83 412.51 L971.72 412.58 L972.62 412.95 L973.51 413.56 L974.41 414.39 L975.3 415.4 L976.2 416.57 L977.09 417.85 L977.99 419.22 L978.88 420.76 L979.78 422.97 L980.67 425.81 L981.57 429.16 L982.46 432.87 L983.36 436.84 L984.25 440.92 L985.15 445.09 L986.04 449.81 L986.93 455.04 L987.83 460.62 L988.72 466.38 L989.62 472.18 L990.51 477.85 L991.41 483.3 L992.3 488.88 L993.2 494.56 L994.09 500.24 L994.99 505.77 L995.88 511.05 L996.78 515.96 L997.67 520.4 L998.57 524.67 L999.46 528.83 L1000.36 532.86 L1001.25 536.72 L1002.15 540.38 L1003.04 543.81 L1003.93 546.98 L1004.83 549.86 L1005.72 552.42 L1006.62 554.75 L1007.51 556.97 L1008.41 559.07 L1009.3 561.04 L1010.2 562.88 L1011.09 564.58 L1011.99 566.13 L1012.88 567.54 L1013.78 568.8 L1014.67 569.93 L1015.57 571.03 L1016.46 572.1 L1017.36 573.14 L1018.25 574.12 L1019.15 575.04 L1020.04 575.88 L1020.94 576.65 L1021.83 577.31 L1022.72 577.86 L1023.62 578.3 L1024.51 578.6 L1025.41 578.81 L1026.3 579.01 L1027.2 579.2 L1028.09 579.38 L1028.99 579.55 L1029.88 579.72 L1030.78 579.87 L1031.67 580.02 L1032.57 580.17 L1033.46 580.3 L1034.36 580.43 L1035.25 580.55 L1036.15 580.66 L1037.04 580.76 L1037.94 580.86 L1038.83 580.95 L1039.72 581.02 L1040.62 581.1 L1041.51 581.16 L1042.41 581.21 L1043.3 581.26 L1044.2 581.3 L1045.09 581.33 L1045.99 581.35 L1046.88 581.36 L1047.78 581.37 L1047.78 581.8 L905.51 581.8 Z" fill="#00BA38" fill-opacity="0.26" stroke="none"/>
<path d="M905.51 581.8 L906.41 581.72 L907.3 581.61 L908.2 581.45 L909.09 581.26 L909.99 581.04 L910.88 580.78 L911.78 580.5 L912.67 580.19 L913.57 579.86 L914.46 579.51 L915.35 579.14 L916.25 578.75 L917.14 578.35 L918.04 577.94 L918.93 577.52 L919.83 577.09 L920.72 576.66 L921.62 576.18 L922.51 575.66 L923.41 575.09 L924.3 574.48 L925.2 573.81 L926.09 573.08 L926.99 572.3 L927.88 571.46 L928.78 570.56 L929.67 569.6 L930.57 568.55 L931.46 567.35 L932.36 565.97 L933.25 564.43 L934.14 562.73 L935.04 560.86 L935.93 558.83 L936.83 556.64 L937.72 554.28 L938.62 551.75 L939.51 548.67 L940.41 544.98 L941.3 540.82 L942.2 536.32 L943.09 531.6 L943.99 526.81 L944.88 522.06 L945.78 517.04 L946.67 511.66 L947.57 506.07 L948.46 500.4 L949.36 494.8 L950.25 489.42 L951.14 484.37 L952.04 479.52 L952.93 474.75 L953.83 470.08 L954.72 465.56 L955.62 461.22 L956.51 457.09 L957.41 453.22 L958.3 449.53 L959.2 445.97 L960.09 442.55 L960.99 439.28 L961.88 436.18 L962.78 433.26 L963.67 430.52 L964.57 427.77 L965.46 424.84 L966.36 421.9 L967.25 419.1 L968.14 416.61 L969.04 414.57 L969.93 413.16 L970.83 412.51 L971.72 412.58 L972.62 412.95 L973.51 413.56 L974.41 414.39 L975.3 415.4 L976.2 416.57 L977.09 417.85 L977.99 419.22 L978.88 420.76 L979.78 422.97 L980.67 425.81 L981.57 429.16 L982.46 432.87 L983.36 436.84 L984.25 440.92 L985.15 445.09 L986.04 449.81 L986.93 455.04 L987.83 460.62 L988.72 466.38 L989.62 472.18 L990.51 477.85 L991.41 483.3 L992.3 488.88 L993.2 494.56 L994.09 500.24 L994.99 505.77 L995.88 511.05 L996.78 515.96 L997.67 520.4 L998.57 524.67 L999.46 528.83 L1000.36 532.86 L1001.25 536.72 L1002.15 540.38 L1003.04 543.81 L1003.93 546.98 L1004.83 549.86 L1005.72 552.42 L1006.62 554.75 L1007.51 556.97 L1008.41 559.07 L1009.3 561.04 L1010.2 562.88 L1011.09 564.58 L1011.99 566.13 L1012.88 567.54 L1013.78 568.8 L1014.67 569.93 L1015.57 571.03 L1016.46 572.1 L1017.36 573.14 L1018.25 574.12 L1019.15 575.04 L1020.04 575.88 L1020.94 576.65 L1021.83 577.31 L1022.72 577.86 L1023.62 578.3 L1024.51 578.6 L1025.41 578.81 L1026.3 579.01 L1027.2 579.2 L1028.09 579.38 L1028.99 579.55 L1029.88 579.72 L1030.78 579.87 L1031.67 580.02 L1032.57 580.17 L1033.46 580.3 L1034.36 580.43 L1035.25 580.55 L1036.15 580.66 L1037.04 580.76 L1037.94 580.86 L1038.83 580.95 L1039.72 581.02 L1040.62 581.1 L1041.51 581.16 L1042.41 581.21 L1043.3 581.26 L1044.2 581.3 L1045.09 581.33 L1045.99 581.35 L1046.88 581.36 L1047.78 581.37" fill="none" stroke="#00BA38" stroke-width="3.4" stroke-linejoin="round" stroke-linecap="butt"/>
<path d="M887.6 581.8 L888.52 581.79 L889.45 581.76 L890.38 581.71 L891.31 581.65 L892.24 581.57 L893.17 581.48 L894.09 581.37 L895.02 581.25 L895.95 581.11 L896.88 580.97 L897.81 580.81 L898.74 580.65 L899.67 580.47 L900.59 580.29 L901.52 580.11 L902.45 579.91 L903.38 579.72 L904.31 579.49 L905.24 579.23 L906.17 578.93 L907.09 578.58 L908.02 578.19 L908.95 577.77 L909.88 577.3 L910.81 576.8 L911.74 576.26 L912.67 575.68 L913.59 575.07 L914.52 574.42 L915.45 573.73 L916.38 573 L917.31 572.12 L918.24 571.09 L919.17 569.91 L920.09 568.59 L921.02 567.13 L921.95 565.55 L922.88 563.84 L923.81 562.02 L924.74 560.07 L925.67 557.79 L926.59 555.15 L927.52 552.16 L928.45 548.87 L929.38 545.31 L930.31 541.51 L931.24 537.39 L932.17 532.54 L933.09 527.06 L934.02 521.18 L934.95 515.09 L935.88 509 L936.81 503.01 L937.74 496.68 L938.67 490.12 L939.59 483.49 L940.52 476.98 L941.45 470.77 L942.38 465.04 L943.31 459.84 L944.24 454.95 L945.17 450.29 L946.09 445.82 L947.02 441.46 L947.95 437.17 L948.88 432.88 L949.81 428.5 L950.74 424.03 L951.67 419.58 L952.59 415.29 L953.52 411.28 L954.45 407.68 L955.38 404.59 L956.31 401.55 L957.24 398.47 L958.17 395.57 L959.09 393.04 L960.02 391.07 L960.95 389.86 L961.88 389.61 L962.81 390.23 L963.74 391.55 L964.67 393.4 L965.59 395.66 L966.52 398.17 L967.45 401.26 L968.38 405.99 L969.31 411.97 L970.24 418.71 L971.17 425.74 L972.09 432.58 L973.02 439.56 L973.95 447.12 L974.88 454.95 L975.81 462.76 L976.74 470.26 L977.66 477.2 L978.59 483.93 L979.52 490.51 L980.45 496.84 L981.38 502.84 L982.31 508.42 L983.24 513.53 L984.16 518.33 L985.09 522.87 L986.02 527.2 L986.95 531.34 L987.88 535.34 L988.81 539.24 L989.74 543.14 L990.66 547.1 L991.59 551 L992.52 554.7 L993.45 558.05 L994.38 560.93 L995.31 563.2 L996.24 565.15 L997.16 566.98 L998.09 568.69 L999.02 570.26 L999.95 571.68 L1000.88 572.92 L1001.81 573.99 L1002.74 574.86 L1003.66 575.52 L1004.59 576.07 L1005.52 576.59 L1006.45 577.07 L1007.38 577.53 L1008.31 577.96 L1009.24 578.35 L1010.16 578.72 L1011.09 579.06 L1012.02 579.37 L1012.95 579.65 L1013.88 579.9 L1014.81 580.13 L1015.74 580.32 L1016.66 580.49 L1017.59 580.62 L1018.52 580.74 L1019.45 580.84 L1020.38 580.93 L1021.31 581.03 L1022.24 581.12 L1023.16 581.2 L1024.09 581.28 L1025.02 581.36 L1025.95 581.43 L1026.88 581.5 L1027.81 581.56 L1028.74 581.61 L1029.66 581.66 L1030.59 581.7 L1031.52 581.74 L1032.45 581.76 L1033.38 581.78 L1034.31 581.8 L1035.24 581.8 L1035.24 581.8 L887.6 581.8 Z" fill="#619CFF" fill-opacity="0.26" stroke="none"/>
<path d="M887.6 581.8 L888.52 581.79 L889.45 581.76 L890.38 581.71 L891.31 581.65 L892.24 581.57 L893.17 581.48 L894.09 581.37 L895.02 581.25 L895.95 581.11 L896.88 580.97 L897.81 580.81 L898.74 580.65 L899.67 580.47 L900.59 580.29 L901.52 580.11 L902.45 579.91 L903.38 579.72 L904.31 579.49 L905.24 579.23 L906.17 578.93 L907.09 578.58 L908.02 578.19 L908.95 577.77 L909.88 577.3 L910.81 576.8 L911.74 576.26 L912.67 575.68 L913.59 575.07 L914.52 574.42 L915.45 573.73 L916.38 573 L917.31 572.12 L918.24 571.09 L919.17 569.91 L920.09 568.59 L921.02 567.13 L921.95 565.55 L922.88 563.84 L923.81 562.02 L924.74 560.07 L925.67 557.79 L926.59 555.15 L927.52 552.16 L928.45 548.87 L929.38 545.31 L930.31 541.51 L931.24 537.39 L932.17 532.54 L933.09 527.06 L934.02 521.18 L934.95 515.09 L935.88 509 L936.81 503.01 L937.74 496.68 L938.67 490.12 L939.59 483.49 L940.52 476.98 L941.45 470.77 L942.38 465.04 L943.31 459.84 L944.24 454.95 L945.17 450.29 L946.09 445.82 L947.02 441.46 L947.95 437.17 L948.88 432.88 L949.81 428.5 L950.74 424.03 L951.67 419.58 L952.59 415.29 L953.52 411.28 L954.45 407.68 L955.38 404.59 L956.31 401.55 L957.24 398.47 L958.17 395.57 L959.09 393.04 L960.02 391.07 L960.95 389.86 L961.88 389.61 L962.81 390.23 L963.74 391.55 L964.67 393.4 L965.59 395.66 L966.52 398.17 L967.45 401.26 L968.38 405.99 L969.31 411.97 L970.24 418.71 L971.17 425.74 L972.09 432.58 L973.02 439.56 L973.95 447.12 L974.88 454.95 L975.81 462.76 L976.74 470.26 L977.66 477.2 L978.59 483.93 L979.52 490.51 L980.45 496.84 L981.38 502.84 L982.31 508.42 L983.24 513.53 L984.16 518.33 L985.09 522.87 L986.02 527.2 L986.95 531.34 L987.88 535.34 L988.81 539.24 L989.74 543.14 L990.66 547.1 L991.59 551 L992.52 554.7 L993.45 558.05 L994.38 560.93 L995.31 563.2 L996.24 565.15 L997.16 566.98 L998.09 568.69 L999.02 570.26 L999.95 571.68 L1000.88 572.92 L1001.81 573.99 L1002.74 574.86 L1003.66 575.52 L1004.59 576.07 L1005.52 576.59 L1006.45 577.07 L1007.38 577.53 L1008.31 577.96 L1009.24 578.35 L1010.16 578.72 L1011.09 579.06 L1012.02 579.37 L1012.95 579.65 L1013.88 579.9 L1014.81 580.13 L1015.74 580.32 L1016.66 580.49 L1017.59 580.62 L1018.52 580.74 L1019.45 580.84 L1020.38 580.93 L1021.31 581.03 L1022.24 581.12 L1023.16 581.2 L1024.09 581.28 L1025.02 581.36 L1025.95 581.43 L1026.88 581.5 L1027.81 581.56 L1028.74 581.61 L1029.66 581.66 L1030.59 581.7 L1031.52 581.74 L1032.45 581.76 L1033.38 581.78 L1034.31 581.8 L1035.24 581.8" fill="none" stroke="#619CFF" stroke-width="3.4" stroke-linejoin="round" stroke-linecap="butt"/>
</g>
<rect x="811.5" y="379.9" width="248" height="211" fill="none" stroke="#b4b4b4" stroke-width="2"/>
<rect x="811.5" y="329.4" width="248" height="50.5" fill="#e3e3e3" stroke="#b4b4b4" stroke-width="2"/>
<text transform="translate(845.55 364.17) scale(1.1520 1)" font-size="27.7" font-family='"Liberation Sans", Arial, sans-serif' fill="#1a1a1a" stroke="#1a1a1a" stroke-width="0.3">RIMT vs. AC</text>
<path d="M813.56 590.9 V599.9 M885.23 590.9 V599.9 M956.9 590.9 V599.9 M1028.57 590.9 V599.9 M802.5 581.8 H811.5 M802.5 527.5 H811.5 M802.5 473.2 H811.5 M802.5 418.9 H811.5" stroke="#b4b4b4" stroke-width="2" fill="none"/>
<text transform="translate(795.16 626.86) scale(1.2000 1)" font-size="26.9" font-family='"Liberation Sans", Arial, sans-serif' fill="#4d4d4d" stroke="#4d4d4d" stroke-width="0.5">−2</text>
<text transform="translate(866.79 626.86) scale(1.2000 1)" font-size="26.9" font-family='"Liberation Sans", Arial, sans-serif' fill="#4d4d4d" stroke="#4d4d4d" stroke-width="0.5">−1</text>
<text transform="translate(947.9 626.86) scale(1.2000 1)" font-size="26.9" font-family='"Liberation Sans", Arial, sans-serif' fill="#4d4d4d" stroke="#4d4d4d" stroke-width="0.5">0</text>
<text transform="translate(1019.17 626.86) scale(1.2000 1)" font-size="26.9" font-family='"Liberation Sans", Arial, sans-serif' fill="#4d4d4d" stroke="#4d4d4d" stroke-width="0.5">1</text>
<text transform="translate(748.24 591.55) scale(1.2000 1)" font-size="26.9" font-family='"Liberation Sans", Arial, sans-serif' fill="#4d4d4d" stroke="#4d4d4d" stroke-width="0.5">0.0</text>
<text transform="translate(748.32 537.25) scale(1.2000 1)" font-size="26.9" font-family='"Liberation Sans", Arial, sans-serif' fill="#4d4d4d" stroke="#4d4d4d" stroke-width="0.5">0.5</text>
<text transform="translate(748.24 482.95) scale(1.2000 1)" font-size="26.9" font-family='"Liberation Sans", Arial, sans-serif' fill="#4d4d4d" stroke="#4d4d4d" stroke-width="0.5">1.0</text>
<text transform="translate(748.32 428.65) scale(1.2000 1)" font-size="26.9" font-family='"Liberation Sans", Arial, sans-serif' fill="#4d4d4d" stroke="#4d4d4d" stroke-width="0.5">1.5</text>
<clipPath id="c6"><rect x="140.2" y="698.8" width="247.9" height="210.2"/></clipPath>
<g clip-path="url(#c6)">
<path d="M152.7 698.8 V909 M194.22 698.8 V909 M235.74 698.8 V909 M277.26 698.8 V909 M318.78 698.8 V909 M360.3 698.8 V909 M140.2 875.46 H388.1 M140.2 824.79 H388.1 M140.2 774.11 H388.1 M140.2 723.44 H388.1" stroke="#f7f7f7" stroke-width="1.6" fill="none"/>
<path d="M173.46 698.8 V909 M214.98 698.8 V909 M256.5 698.8 V909 M298.02 698.8 V909 M339.54 698.8 V909 M381.06 698.8 V909 M140.2 900.8 H388.1 M140.2 850.12 H388.1 M140.2 799.45 H388.1 M140.2 748.77 H388.1" stroke="#f3f3f3" stroke-width="2.0" fill="none"/>
<path d="M189.11 900.8 L190.15 900.79 L191.18 900.75 L192.21 900.7 L193.25 900.62 L194.28 900.52 L195.31 900.4 L196.35 900.26 L197.38 900.1 L198.41 899.93 L199.45 899.74 L200.48 899.53 L201.51 899.3 L202.55 899.07 L203.58 898.81 L204.61 898.54 L205.65 898.26 L206.68 897.97 L207.71 897.67 L208.75 897.33 L209.78 896.84 L210.81 896.23 L211.85 895.5 L212.88 894.67 L213.91 893.77 L214.95 892.81 L215.98 891.81 L217.01 890.76 L218.05 889.58 L219.08 888.26 L220.11 886.8 L221.15 885.23 L222.18 883.55 L223.21 881.78 L224.25 879.92 L225.28 878 L226.31 875.96 L227.35 873.79 L228.38 871.47 L229.41 868.98 L230.45 866.3 L231.48 863.42 L232.51 860.32 L233.54 856.96 L234.58 852.87 L235.61 848.1 L236.64 842.92 L237.68 837.63 L238.71 832.5 L239.74 827.82 L240.78 823.41 L241.81 819.1 L242.84 814.88 L243.88 810.78 L244.91 806.81 L245.94 802.98 L246.98 799.24 L248.01 795.55 L249.04 791.97 L250.08 788.55 L251.11 785.31 L252.14 782.32 L253.18 779.61 L254.21 777.13 L255.24 774.79 L256.28 772.51 L257.31 770.21 L258.34 767.79 L259.38 765.09 L260.41 762.12 L261.44 759.18 L262.48 756.6 L263.51 754.67 L264.54 753.15 L265.58 751.77 L266.61 750.57 L267.64 749.61 L268.68 748.91 L269.71 748.44 L270.74 748.03 L271.78 747.69 L272.81 747.45 L273.84 747.36 L274.88 747.66 L275.91 748.62 L276.94 750.12 L277.98 752.02 L279.01 754.19 L280.04 756.51 L281.08 759.33 L282.11 763.25 L283.14 767.84 L284.18 772.67 L285.21 777.62 L286.24 783.06 L287.28 788.82 L288.31 794.72 L289.34 800.73 L290.38 807.14 L291.41 813.59 L292.44 819.64 L293.48 824.98 L294.51 829.87 L295.54 834.46 L296.58 838.82 L297.61 843.06 L298.64 847.25 L299.68 851.35 L300.71 855.29 L301.74 858.99 L302.78 862.39 L303.81 865.43 L304.84 868.25 L305.88 870.89 L306.91 873.35 L307.94 875.64 L308.98 877.76 L310.01 879.71 L311.04 881.6 L312.08 883.45 L313.11 885.22 L314.14 886.88 L315.18 888.41 L316.21 889.75 L317.24 890.9 L318.28 891.8 L319.31 892.6 L320.34 893.34 L321.38 894.05 L322.41 894.71 L323.44 895.32 L324.48 895.89 L325.51 896.4 L326.54 896.86 L327.58 897.27 L328.61 897.62 L329.64 897.92 L330.68 898.16 L331.71 898.37 L332.74 898.57 L333.77 898.76 L334.81 898.95 L335.84 899.13 L336.87 899.3 L337.91 899.47 L338.94 899.63 L339.97 899.78 L341.01 899.92 L342.04 900.05 L343.07 900.18 L344.11 900.29 L345.14 900.39 L346.17 900.48 L347.21 900.57 L348.24 900.64 L349.27 900.69 L350.31 900.74 L351.34 900.77 L352.37 900.79 L353.41 900.8 L353.41 900.8 L189.11 900.8 Z" fill="#F8766D" fill-opacity="0.26" stroke="none"/>
<path d="M189.11 900.8 L190.15 900.79 L191.18 900.75 L192.21 900.7 L193.25 900.62 L194.28 900.52 L195.31 900.4 L196.35 900.26 L197.38 900.1 L198.41 899.93 L199.45 899.74 L200.48 899.53 L201.51 899.3 L202.55 899.07 L203.58 898.81 L204.61 898.54 L205.65 898.26 L206.68 897.97 L207.71 897.67 L208.75 897.33 L209.78 896.84 L210.81 896.23 L211.85 895.5 L212.88 894.67 L213.91 893.77 L214.95 892.81 L215.98 891.81 L217.01 890.76 L218.05 889.58 L219.08 888.26 L220.11 886.8 L221.15 885.23 L222.18 883.55 L223.21 881.78 L224.25 879.92 L225.28 878 L226.31 875.96 L227.35 873.79 L228.38 871.47 L229.41 868.98 L230.45 866.3 L231.48 863.42 L232.51 860.32 L233.54 856.96 L234.58 852.87 L235.61 848.1 L236.64 842.92 L237.68 837.63 L238.71 832.5 L239.74 827.82 L240.78 823.41 L241.81 819.1 L242.84 814.88 L243.88 810.78 L244.91 806.81 L245.94 802.98 L246.98 799.24 L248.01 795.55 L249.04 791.97 L250.08 788.55 L251.11 785.31 L252.14 782.32 L253.18 779.61 L254.21 777.13 L255.24 774.79 L256.28 772.51 L257.31 770.21 L258.34 767.79 L259.38 765.09 L260.41 762.12 L261.44 759.18 L262.48 756.6 L263.51 754.67 L264.54 753.15 L265.58 751.77 L266.61 750.57 L267.64 749.61 L268.68 748.91 L269.71 748.44 L270.74 748.03 L271.78 747.69 L272.81 747.45 L273.84 747.36 L274.88 747.66 L275.91 748.62 L276.94 750.12 L277.98 752.02 L279.01 754.19 L280.04 756.51 L281.08 759.33 L282.11 763.25 L283.14 767.84 L284.18 772.67 L285.21 777.62 L286.24 783.06 L287.28 788.82 L288.31 794.72 L289.34 800.73 L290.38 807.14 L291.41 813.59 L292.44 819.64 L293.48 824.98 L294.51 829.87 L295.54 834.46 L296.58 838.82 L297.61 843.06 L298.64 847.25 L299.68 851.35 L300.71 855.29 L301.74 858.99 L302.78 862.39 L303.81 865.43 L304.84 868.25 L305.88 870.89 L306.91 873.35 L307.94 875.64 L308.98 877.76 L310.01 879.71 L311.04 881.6 L312.08 883.45 L313.11 885.22 L314.14 886.88 L315.18 888.41 L316.21 889.75 L317.24 890.9 L318.28 891.8 L319.31 892.6 L320.34 893.34 L321.38 894.05 L322.41 894.71 L323.44 895.32 L324.48 895.89 L325.51 896.4 L326.54 896.86 L327.58 897.27 L328.61 897.62 L329.64 897.92 L330.68 898.16 L331.71 898.37 L332.74 898.57 L333.77 898.76 L334.81 898.95 L335.84 899.13 L336.87 899.3 L337.91 899.47 L338.94 899.63 L339.97 899.78 L341.01 899.92 L342.04 900.05 L343.07 900.18 L344.11 900.29 L345.14 900.39 L346.17 900.48 L347.21 900.57 L348.24 900.64 L349.27 900.69 L350.31 900.74 L351.34 900.77 L352.37 900.79 L353.41 900.8" fill="none" stroke="#F8766D" stroke-width="3.4" stroke-linejoin="round" stroke-linecap="butt"/>
<path d="M151.29 900.8 L152.7 900.75 L154.11 900.67 L155.53 900.58 L156.94 900.46 L158.35 900.33 L159.77 900.19 L161.18 900.03 L162.59 899.85 L164.01 899.67 L165.42 899.48 L166.83 899.28 L168.25 899.07 L169.66 898.86 L171.07 898.64 L172.49 898.39 L173.9 898.11 L175.31 897.8 L176.73 897.47 L178.14 897.11 L179.55 896.74 L180.97 896.35 L182.38 895.94 L183.79 895.51 L185.21 895.08 L186.62 894.64 L188.03 894.18 L189.45 893.68 L190.86 893.15 L192.27 892.59 L193.69 892 L195.1 891.38 L196.51 890.73 L197.93 890.06 L199.34 889.37 L200.75 888.68 L202.17 887.94 L203.58 887.14 L204.99 886.27 L206.4 885.29 L207.82 884.2 L209.23 882.91 L210.64 881.33 L212.06 879.49 L213.47 877.44 L214.88 875.19 L216.3 872.8 L217.71 870.12 L219.12 866.97 L220.54 863.51 L221.95 859.93 L223.36 856.37 L224.78 852.69 L226.19 848.88 L227.6 845.03 L229.02 841.22 L230.43 837.36 L231.84 833.42 L233.26 829.55 L234.67 825.92 L236.08 822.66 L237.5 819.63 L238.91 816.77 L240.32 814.09 L241.74 811.58 L243.15 809.19 L244.56 806.88 L245.98 804.68 L247.39 802.6 L248.8 800.68 L250.22 798.91 L251.63 797.24 L253.04 795.63 L254.46 794.11 L255.87 792.74 L257.28 791.56 L258.7 790.61 L260.11 789.73 L261.52 788.96 L262.93 788.54 L264.35 788.7 L265.76 789.59 L267.17 791.01 L268.59 792.77 L270 794.63 L271.41 796.4 L272.83 797.96 L274.24 799.51 L275.65 801.11 L277.07 802.83 L278.48 804.72 L279.89 806.84 L281.31 809.41 L282.72 812.58 L284.13 816.11 L285.55 819.7 L286.96 823.08 L288.37 826.38 L289.79 829.67 L291.2 832.96 L292.61 836.25 L294.03 839.57 L295.44 842.93 L296.85 846.27 L298.27 849.52 L299.68 852.62 L301.09 855.66 L302.51 858.61 L303.92 861.43 L305.33 864.03 L306.75 866.42 L308.16 868.68 L309.57 870.82 L310.99 872.86 L312.4 874.85 L313.81 876.79 L315.22 878.75 L316.64 880.73 L318.05 882.67 L319.46 884.47 L320.88 886.08 L322.29 887.41 L323.7 888.52 L325.12 889.54 L326.53 890.47 L327.94 891.32 L329.36 892.1 L330.77 892.8 L332.18 893.44 L333.6 894.03 L335.01 894.6 L336.42 895.16 L337.84 895.7 L339.25 896.22 L340.66 896.7 L342.08 897.16 L343.49 897.57 L344.9 897.94 L346.32 898.26 L347.73 898.52 L349.14 898.71 L350.56 898.85 L351.97 898.98 L353.38 899.11 L354.8 899.23 L356.21 899.34 L357.62 899.45 L359.04 899.56 L360.45 899.65 L361.86 899.74 L363.28 899.82 L364.69 899.9 L366.1 899.96 L367.52 900.02 L368.93 900.07 L370.34 900.12 L371.75 900.15 L373.17 900.17 L374.58 900.19 L375.99 900.19 L375.99 900.8 L151.29 900.8 Z" fill="#00BA38" fill-opacity="0.26" stroke="none"/>
<path d="M151.29 900.8 L152.7 900.75 L154.11 900.67 L155.53 900.58 L156.94 900.46 L158.35 900.33 L159.77 900.19 L161.18 900.03 L162.59 899.85 L164.01 899.67 L165.42 899.48 L166.83 899.28 L168.25 899.07 L169.66 898.86 L171.07 898.64 L172.49 898.39 L173.9 898.11 L175.31 897.8 L176.73 897.47 L178.14 897.11 L179.55 896.74 L180.97 896.35 L182.38 895.94 L183.79 895.51 L185.21 895.08 L186.62 894.64 L188.03 894.18 L189.45 893.68 L190.86 893.15 L192.27 892.59 L193.69 892 L195.1 891.38 L196.51 890.73 L197.93 890.06 L199.34 889.37 L200.75 888.68 L202.17 887.94 L203.58 887.14 L204.99 886.27 L206.4 885.29 L207.82 884.2 L209.23 882.91 L210.64 881.33 L212.06 879.49 L213.47 877.44 L214.88 875.19 L216.3 872.8 L217.71 870.12 L219.12 866.97 L220.54 863.51 L221.95 859.93 L223.36 856.37 L224.78 852.69 L226.19 848.88 L227.6 845.03 L229.02 841.22 L230.43 837.36 L231.84 833.42 L233.26 829.55 L234.67 825.92 L236.08 822.66 L237.5 819.63 L238.91 816.77 L240.32 814.09 L241.74 811.58 L243.15 809.19 L244.56 806.88 L245.98 804.68 L247.39 802.6 L248.8 800.68 L250.22 798.91 L251.63 797.24 L253.04 795.63 L254.46 794.11 L255.87 792.74 L257.28 791.56 L258.7 790.61 L260.11 789.73 L261.52 788.96 L262.93 788.54 L264.35 788.7 L265.76 789.59 L267.17 791.01 L268.59 792.77 L270 794.63 L271.41 796.4 L272.83 797.96 L274.24 799.51 L275.65 801.11 L277.07 802.83 L278.48 804.72 L279.89 806.84 L281.31 809.41 L282.72 812.58 L284.13 816.11 L285.55 819.7 L286.96 823.08 L288.37 826.38 L289.79 829.67 L291.2 832.96 L292.61 836.25 L294.03 839.57 L295.44 842.93 L296.85 846.27 L298.27 849.52 L299.68 852.62 L301.09 855.66 L302.51 858.61 L303.92 861.43 L305.33 864.03 L306.75 866.42 L308.16 868.68 L309.57 870.82 L310.99 872.86 L312.4 874.85 L313.81 876.79 L315.22 878.75 L316.64 880.73 L318.05 882.67 L319.46 884.47 L320.88 886.08 L322.29 887.41 L323.7 888.52 L325.12 889.54 L326.53 890.47 L327.94 891.32 L329.36 892.1 L330.77 892.8 L332.18 893.44 L333.6 894.03 L335.01 894.6 L336.42 895.16 L337.84 895.7 L339.25 896.22 L340.66 896.7 L342.08 897.16 L343.49 897.57 L344.9 897.94 L346.32 898.26 L347.73 898.52 L349.14 898.71 L350.56 898.85 L351.97 898.98 L353.38 899.11 L354.8 899.23 L356.21 899.34 L357.62 899.45 L359.04 899.56 L360.45 899.65 L361.86 899.74 L363.28 899.82 L364.69 899.9 L366.1 899.96 L367.52 900.02 L368.93 900.07 L370.34 900.12 L371.75 900.15 L373.17 900.17 L374.58 900.19 L375.99 900.19" fill="none" stroke="#00BA38" stroke-width="3.4" stroke-linejoin="round" stroke-linecap="butt"/>
<path d="M191.19 900.8 L192.09 900.8 L192.98 900.79 L193.88 900.78 L194.78 900.77 L195.68 900.75 L196.57 900.73 L197.47 900.71 L198.37 900.68 L199.27 900.65 L200.16 900.61 L201.06 900.57 L201.96 900.53 L202.86 900.48 L203.75 900.43 L204.65 900.38 L205.55 900.32 L206.45 900.26 L207.34 900.2 L208.24 900.13 L209.14 900.06 L210.04 899.99 L210.93 899.91 L211.83 899.83 L212.73 899.74 L213.63 899.6 L214.52 899.4 L215.42 899.15 L216.32 898.84 L217.22 898.49 L218.11 898.08 L219.01 897.62 L219.91 897.12 L220.81 896.57 L221.7 895.97 L222.6 895.33 L223.5 894.65 L224.4 893.93 L225.29 893.13 L226.19 892.02 L227.09 890.58 L227.99 888.84 L228.88 886.84 L229.78 884.62 L230.68 882.2 L231.58 879.64 L232.47 876.96 L233.37 874.19 L234.27 871.08 L235.17 867.47 L236.06 863.44 L236.96 859.08 L237.86 854.46 L238.76 849.66 L239.65 844.77 L240.55 839.65 L241.45 834.19 L242.35 828.42 L243.24 822.38 L244.14 816.09 L245.04 809.59 L245.94 802.91 L246.83 795.63 L247.73 787.69 L248.63 779.62 L249.53 771.93 L250.42 765.06 L251.32 758.46 L252.22 752.12 L253.12 746.34 L254.01 741.4 L254.91 737.36 L255.81 733.7 L256.71 730.38 L257.6 727.42 L258.5 724.83 L259.4 722.62 L260.3 720.8 L261.19 719.28 L262.09 717.91 L262.99 716.58 L263.89 715.1 L264.78 713.43 L265.68 711.75 L266.58 710.25 L267.48 709.1 L268.37 708.49 L269.27 708.57 L270.17 709.31 L271.07 710.57 L271.97 712.27 L272.86 714.28 L273.76 716.5 L274.66 719.41 L275.56 723.88 L276.45 729.34 L277.35 735.16 L278.25 740.75 L279.15 746.4 L280.04 752.35 L280.94 758.39 L281.84 764.32 L282.74 769.97 L283.63 775.48 L284.53 780.88 L285.43 786.19 L286.33 791.41 L287.22 796.54 L288.12 801.59 L289.02 806.55 L289.92 811.41 L290.81 816.16 L291.71 820.72 L292.61 825.12 L293.51 829.48 L294.4 833.93 L295.3 838.61 L296.2 843.63 L297.1 848.82 L297.99 853.95 L298.89 858.79 L299.79 863.32 L300.69 867.92 L301.58 872.31 L302.48 876.12 L303.38 879.01 L304.28 881.13 L305.17 882.96 L306.07 884.57 L306.97 885.99 L307.87 887.27 L308.76 888.47 L309.66 889.62 L310.56 890.78 L311.46 891.94 L312.35 893.08 L313.25 894.18 L314.15 895.2 L315.05 896.12 L315.94 896.92 L316.84 897.56 L317.74 898.03 L318.64 898.32 L319.53 898.59 L320.43 898.84 L321.33 899.08 L322.23 899.3 L323.12 899.51 L324.02 899.71 L324.92 899.89 L325.82 900.06 L326.71 900.21 L327.61 900.34 L328.51 900.46 L329.41 900.56 L330.3 900.65 L331.2 900.71 L332.1 900.76 L333 900.79 L333.89 900.8 L333.89 900.8 L191.19 900.8 Z" fill="#619CFF" fill-opacity="0.26" stroke="none"/>
<path d="M191.19 900.8 L192.09 900.8 L192.98 900.79 L193.88 900.78 L194.78 900.77 L195.68 900.75 L196.57 900.73 L197.47 900.71 L198.37 900.68 L199.27 900.65 L200.16 900.61 L201.06 900.57 L201.96 900.53 L202.86 900.48 L203.75 900.43 L204.65 900.38 L205.55 900.32 L206.45 900.26 L207.34 900.2 L208.24 900.13 L209.14 900.06 L210.04 899.99 L210.93 899.91 L211.83 899.83 L212.73 899.74 L213.63 899.6 L214.52 899.4 L215.42 899.15 L216.32 898.84 L217.22 898.49 L218.11 898.08 L219.01 897.62 L219.91 897.12 L220.81 896.57 L221.7 895.97 L222.6 895.33 L223.5 894.65 L224.4 893.93 L225.29 893.13 L226.19 892.02 L227.09 890.58 L227.99 888.84 L228.88 886.84 L229.78 884.62 L230.68 882.2 L231.58 879.64 L232.47 876.96 L233.37 874.19 L234.27 871.08 L235.17 867.47 L236.06 863.44 L236.96 859.08 L237.86 854.46 L238.76 849.66 L239.65 844.77 L240.55 839.65 L241.45 834.19 L242.35 828.42 L243.24 822.38 L244.14 816.09 L245.04 809.59 L245.94 802.91 L246.83 795.63 L247.73 787.69 L248.63 779.62 L249.53 771.93 L250.42 765.06 L251.32 758.46 L252.22 752.12 L253.12 746.34 L254.01 741.4 L254.91 737.36 L255.81 733.7 L256.71 730.38 L257.6 727.42 L258.5 724.83 L259.4 722.62 L260.3 720.8 L261.19 719.28 L262.09 717.91 L262.99 716.58 L263.89 715.1 L264.78 713.43 L265.68 711.75 L266.58 710.25 L267.48 709.1 L268.37 708.49 L269.27 708.57 L270.17 709.31 L271.07 710.57 L271.97 712.27 L272.86 714.28 L273.76 716.5 L274.66 719.41 L275.56 723.88 L276.45 729.34 L277.35 735.16 L278.25 740.75 L279.15 746.4 L280.04 752.35 L280.94 758.39 L281.84 764.32 L282.74 769.97 L283.63 775.48 L284.53 780.88 L285.43 786.19 L286.33 791.41 L287.22 796.54 L288.12 801.59 L289.02 806.55 L289.92 811.41 L290.81 816.16 L291.71 820.72 L292.61 825.12 L293.51 829.48 L294.4 833.93 L295.3 838.61 L296.2 843.63 L297.1 848.82 L297.99 853.95 L298.89 858.79 L299.79 863.32 L300.69 867.92 L301.58 872.31 L302.48 876.12 L303.38 879.01 L304.28 881.13 L305.17 882.96 L306.07 884.57 L306.97 885.99 L307.87 887.27 L308.76 888.47 L309.66 889.62 L310.56 890.78 L311.46 891.94 L312.35 893.08 L313.25 894.18 L314.15 895.2 L315.05 896.12 L315.94 896.92 L316.84 897.56 L317.74 898.03 L318.64 898.32 L319.53 898.59 L320.43 898.84 L321.33 899.08 L322.23 899.3 L323.12 899.51 L324.02 899.71 L324.92 899.89 L325.82 900.06 L326.71 900.21 L327.61 900.34 L328.51 900.46 L329.41 900.56 L330.3 900.65 L331.2 900.71 L332.1 900.76 L333 900.79 L333.89 900.8" fill="none" stroke="#619CFF" stroke-width="3.4" stroke-linejoin="round" stroke-linecap="butt"/>
</g>
<rect x="140.2" y="698.8" width="247.9" height="210.2" fill="none" stroke="#b4b4b4" stroke-width="2"/>
<rect x="140.2" y="648.4" width="247.9" height="50.4" fill="#e3e3e3" stroke="#b4b4b4" stroke-width="2"/>
<text transform="translate(191.35 683.12) scale(1.1520 1)" font-size="27.7" font-family='"Liberation Sans", Arial, sans-serif' fill="#1a1a1a" stroke="#1a1a1a" stroke-width="0.3">ST vs. CG</text>
<path d="M173.46 909 V918 M214.98 909 V918 M256.5 909 V918 M298.02 909 V918 M339.54 909 V918 M381.06 909 V918 M131.2 900.8 H140.2 M131.2 850.12 H140.2 M131.2 799.45 H140.2 M131.2 748.77 H140.2" stroke="#b4b4b4" stroke-width="2" fill="none"/>
<text transform="translate(155.06 944.96) scale(1.2000 1)" font-size="26.9" font-family='"Liberation Sans", Arial, sans-serif' fill="#4d4d4d" stroke="#4d4d4d" stroke-width="0.5">−2</text>
<text transform="translate(196.54 944.96) scale(1.2000 1)" font-size="26.9" font-family='"Liberation Sans", Arial, sans-serif' fill="#4d4d4d" stroke="#4d4d4d" stroke-width="0.5">−1</text>
<text transform="translate(247.5 944.96) scale(1.2000 1)" font-size="26.9" font-family='"Liberation Sans", Arial, sans-serif' fill="#4d4d4d" stroke="#4d4d4d" stroke-width="0.5">0</text>
<text transform="translate(288.62 944.96) scale(1.2000 1)" font-size="26.9" font-family='"Liberation Sans", Arial, sans-serif' fill="#4d4d4d" stroke="#4d4d4d" stroke-width="0.5">1</text>
<text transform="translate(330.58 944.96) scale(1.2000 1)" font-size="26.9" font-family='"Liberation Sans", Arial, sans-serif' fill="#4d4d4d" stroke="#4d4d4d" stroke-width="0.5">2</text>
<text transform="translate(372.18 944.96) scale(1.2000 1)" font-size="26.9" font-family='"Liberation Sans", Arial, sans-serif' fill="#4d4d4d" stroke="#4d4d4d" stroke-width="0.5">3</text>
<text transform="translate(59.03 910.55) scale(1.2000 1)" font-size="26.9" font-family='"Liberation Sans", Arial, sans-serif' fill="#4d4d4d" stroke="#4d4d4d" stroke-width="0.5">0.00</text>
<text transform="translate(59.11 859.87) scale(1.2000 1)" font-size="26.9" font-family='"Liberation Sans", Arial, sans-serif' fill="#4d4d4d" stroke="#4d4d4d" stroke-width="0.5">0.25</text>
<text transform="translate(59.03 809.2) scale(1.2000 1)" font-size="26.9" font-family='"Liberation Sans", Arial, sans-serif' fill="#4d4d4d" stroke="#4d4d4d" stroke-width="0.5">0.50</text>
<text transform="translate(59.11 758.52) scale(1.2000 1)" font-size="26.9" font-family='"Liberation Sans", Arial, sans-serif' fill="#4d4d4d" stroke="#4d4d4d" stroke-width="0.5">0.75</text>
<clipPath id="c7"><rect x="484" y="698.8" width="248.4" height="210.2"/></clipPath>
<g clip-path="url(#c7)">
<path d="M494.2 698.8 V909 M534.72 698.8 V909 M575.24 698.8 V909 M615.76 698.8 V909 M656.28 698.8 V909 M696.8 698.8 V909 M484 873.9 H732.4 M484 820.1 H732.4 M484 766.3 H732.4 M484 712.5 H732.4" stroke="#f7f7f7" stroke-width="1.6" fill="none"/>
<path d="M514.46 698.8 V909 M554.98 698.8 V909 M595.5 698.8 V909 M636.02 698.8 V909 M676.54 698.8 V909 M717.06 698.8 V909 M484 900.8 H732.4 M484 847 H732.4 M484 793.2 H732.4 M484 739.4 H732.4" stroke="#f3f3f3" stroke-width="2.0" fill="none"/>
<path d="M527.02 900.8 L528.12 900.79 L529.23 900.76 L530.33 900.72 L531.44 900.65 L532.54 900.57 L533.64 900.48 L534.75 900.36 L535.85 900.24 L536.95 900.09 L538.06 899.94 L539.16 899.77 L540.26 899.58 L541.37 899.39 L542.47 899.18 L543.57 898.96 L544.68 898.73 L545.78 898.49 L546.88 898.24 L547.99 897.98 L549.09 897.71 L550.19 897.43 L551.3 897.15 L552.4 896.83 L553.5 896.44 L554.61 895.98 L555.71 895.45 L556.81 894.86 L557.92 894.19 L559.02 893.45 L560.13 892.64 L561.23 891.76 L562.33 890.81 L563.44 889.79 L564.54 888.7 L565.64 887.53 L566.75 886.3 L567.85 884.99 L568.95 883.39 L570.06 881.23 L571.16 878.62 L572.26 875.66 L573.37 872.45 L574.47 869.09 L575.57 865.68 L576.68 862.2 L577.78 858.24 L578.88 853.96 L579.99 849.57 L581.09 845.31 L582.19 841.4 L583.3 837.93 L584.4 834.72 L585.51 831.6 L586.61 828.36 L587.71 824.84 L588.82 820.75 L589.92 815.77 L591.02 810.3 L592.13 804.79 L593.23 799.72 L594.33 795.56 L595.44 792.53 L596.54 790.02 L597.64 787.84 L598.75 785.81 L599.85 783.79 L600.95 781.63 L602.06 779.32 L603.16 776.98 L604.26 774.67 L605.37 772.45 L606.47 770.39 L607.57 768.45 L608.68 766.33 L609.78 764.19 L610.88 762.18 L611.99 760.47 L613.09 759.22 L614.2 758.59 L615.3 758.69 L616.4 759.31 L617.51 760.35 L618.61 761.7 L619.71 763.26 L620.82 764.91 L621.92 766.56 L623.02 768.11 L624.13 769.75 L625.23 771.52 L626.33 773.42 L627.44 775.43 L628.54 777.54 L629.64 779.73 L630.75 782 L631.85 784.32 L632.95 786.7 L634.06 789.19 L635.16 791.84 L636.26 794.69 L637.37 797.79 L638.47 801.19 L639.58 805.12 L640.68 810.05 L641.78 815.62 L642.89 821.4 L643.99 826.99 L645.09 831.95 L646.2 836.5 L647.3 840.87 L648.4 845.09 L649.51 849.15 L650.61 853.06 L651.71 856.82 L652.82 860.6 L653.92 864.36 L655.02 868.03 L656.13 871.53 L657.23 874.77 L658.33 877.69 L659.44 880.18 L660.54 882.38 L661.64 884.49 L662.75 886.46 L663.85 888.26 L664.95 889.86 L666.06 891.2 L667.16 892.27 L668.27 893.06 L669.37 893.78 L670.47 894.45 L671.58 895.06 L672.68 895.63 L673.78 896.16 L674.89 896.64 L675.99 897.07 L677.09 897.46 L678.2 897.81 L679.3 898.11 L680.4 898.37 L681.51 898.59 L682.61 898.79 L683.71 898.97 L684.82 899.15 L685.92 899.33 L687.02 899.5 L688.13 899.66 L689.23 899.81 L690.33 899.96 L691.44 900.09 L692.54 900.22 L693.65 900.33 L694.75 900.44 L695.85 900.53 L696.96 900.61 L698.06 900.68 L699.16 900.73 L700.27 900.77 L701.37 900.79 L702.47 900.8 L702.47 900.8 L527.02 900.8 Z" fill="#F8766D" fill-opacity="0.26" stroke="none"/>
<path d="M527.02 900.8 L528.12 900.79 L529.23 900.76 L530.33 900.72 L531.44 900.65 L532.54 900.57 L533.64 900.48 L534.75 900.36 L535.85 900.24 L536.95 900.09 L538.06 899.94 L539.16 899.77 L540.26 899.58 L541.37 899.39 L542.47 899.18 L543.57 898.96 L544.68 898.73 L545.78 898.49 L546.88 898.24 L547.99 897.98 L549.09 897.71 L550.19 897.43 L551.3 897.15 L552.4 896.83 L553.5 896.44 L554.61 895.98 L555.71 895.45 L556.81 894.86 L557.92 894.19 L559.02 893.45 L560.13 892.64 L561.23 891.76 L562.33 890.81 L563.44 889.79 L564.54 888.7 L565.64 887.53 L566.75 886.3 L567.85 884.99 L568.95 883.39 L570.06 881.23 L571.16 878.62 L572.26 875.66 L573.37 872.45 L574.47 869.09 L575.57 865.68 L576.68 862.2 L577.78 858.24 L578.88 853.96 L579.99 849.57 L581.09 845.31 L582.19 841.4 L583.3 837.93 L584.4 834.72 L585.51 831.6 L586.61 828.36 L587.71 824.84 L588.82 820.75 L589.92 815.77 L591.02 810.3 L592.13 804.79 L593.23 799.72 L594.33 795.56 L595.44 792.53 L596.54 790.02 L597.64 787.84 L598.75 785.81 L599.85 783.79 L600.95 781.63 L602.06 779.32 L603.16 776.98 L604.26 774.67 L605.37 772.45 L606.47 770.39 L607.57 768.45 L608.68 766.33 L609.78 764.19 L610.88 762.18 L611.99 760.47 L613.09 759.22 L614.2 758.59 L615.3 758.69 L616.4 759.31 L617.51 760.35 L618.61 761.7 L619.71 763.26 L620.82 764.91 L621.92 766.56 L623.02 768.11 L624.13 769.75 L625.23 771.52 L626.33 773.42 L627.44 775.43 L628.54 777.54 L629.64 779.73 L630.75 782 L631.85 784.32 L632.95 786.7 L634.06 789.19 L635.16 791.84 L636.26 794.69 L637.37 797.79 L638.47 801.19 L639.58 805.12 L640.68 810.05 L641.78 815.62 L642.89 821.4 L643.99 826.99 L645.09 831.95 L646.2 836.5 L647.3 840.87 L648.4 845.09 L649.51 849.15 L650.61 853.06 L651.71 856.82 L652.82 860.6 L653.92 864.36 L655.02 868.03 L656.13 871.53 L657.23 874.77 L658.33 877.69 L659.44 880.18 L660.54 882.38 L661.64 884.49 L662.75 886.46 L663.85 888.26 L664.95 889.86 L666.06 891.2 L667.16 892.27 L668.27 893.06 L669.37 893.78 L670.47 894.45 L671.58 895.06 L672.68 895.63 L673.78 896.16 L674.89 896.64 L675.99 897.07 L677.09 897.46 L678.2 897.81 L679.3 898.11 L680.4 898.37 L681.51 898.59 L682.61 898.79 L683.71 898.97 L684.82 899.15 L685.92 899.33 L687.02 899.5 L688.13 899.66 L689.23 899.81 L690.33 899.96 L691.44 900.09 L692.54 900.22 L693.65 900.33 L694.75 900.44 L695.85 900.53 L696.96 900.61 L698.06 900.68 L699.16 900.73 L700.27 900.77 L701.37 900.79 L702.47 900.8" fill="none" stroke="#F8766D" stroke-width="3.4" stroke-linejoin="round" stroke-linecap="butt"/>
<path d="M495.01 900.8 L496.43 900.8 L497.85 900.79 L499.28 900.79 L500.7 900.78 L502.12 900.76 L503.54 900.74 L504.96 900.72 L506.39 900.7 L507.81 900.68 L509.23 900.65 L510.65 900.62 L512.07 900.58 L513.5 900.55 L514.92 900.51 L516.34 900.46 L517.76 900.42 L519.18 900.37 L520.61 900.32 L522.03 900.27 L523.45 900.22 L524.87 900.16 L526.29 900.08 L527.72 899.96 L529.14 899.79 L530.56 899.58 L531.98 899.33 L533.41 899.05 L534.83 898.73 L536.25 898.38 L537.67 898.01 L539.09 897.61 L540.52 897.19 L541.94 896.75 L543.36 896.3 L544.78 895.83 L546.2 895.36 L547.63 894.87 L549.05 894.32 L550.47 893.7 L551.89 893 L553.31 892.23 L554.74 891.39 L556.16 890.49 L557.58 889.53 L559 888.51 L560.42 887.44 L561.85 886.26 L563.27 884.94 L564.69 883.46 L566.11 881.78 L567.53 879.88 L568.96 877.58 L570.38 874.55 L571.8 871.02 L573.22 867.23 L574.64 863.43 L576.07 859.88 L577.49 856.44 L578.91 852.95 L580.33 849.57 L581.75 846.46 L583.18 843.79 L584.6 841.47 L586.02 839.25 L587.44 836.85 L588.86 834 L590.29 830.72 L591.71 827.12 L593.13 823.31 L594.55 819.4 L595.97 815.26 L597.4 810.79 L598.82 806.31 L600.24 802.14 L601.66 798.34 L603.08 794.67 L604.51 791.21 L605.93 788 L607.35 785.09 L608.77 782.25 L610.19 779.6 L611.62 777.34 L613.04 775.66 L614.46 774.28 L615.88 773.05 L617.3 772.19 L618.73 771.9 L620.15 772.85 L621.57 775.08 L622.99 778.09 L624.41 781.44 L625.84 784.64 L627.26 787.29 L628.68 789.75 L630.1 792.19 L631.52 794.64 L632.95 797.13 L634.37 799.71 L635.79 802.37 L637.21 805.07 L638.63 807.84 L640.06 810.7 L641.48 813.69 L642.9 816.85 L644.32 820.26 L645.74 823.91 L647.17 827.74 L648.59 831.66 L650.01 835.61 L651.43 839.51 L652.85 843.47 L654.28 847.57 L655.7 851.68 L657.12 855.68 L658.54 859.45 L659.97 862.89 L661.39 866.23 L662.81 869.47 L664.23 872.52 L665.65 875.27 L667.08 877.63 L668.5 879.57 L669.92 881.31 L671.34 882.9 L672.76 884.34 L674.19 885.66 L675.61 886.88 L677.03 887.99 L678.45 889.04 L679.87 890.07 L681.3 891.07 L682.72 892.04 L684.14 892.95 L685.56 893.81 L686.98 894.6 L688.41 895.3 L689.83 895.91 L691.25 896.41 L692.67 896.79 L694.09 897.13 L695.52 897.46 L696.94 897.78 L698.36 898.09 L699.78 898.38 L701.2 898.66 L702.63 898.93 L704.05 899.19 L705.47 899.43 L706.89 899.65 L708.31 899.86 L709.74 900.05 L711.16 900.22 L712.58 900.37 L714 900.5 L715.42 900.6 L716.85 900.69 L718.27 900.75 L719.69 900.79 L721.11 900.8 L721.11 900.8 L495.01 900.8 Z" fill="#00BA38" fill-opacity="0.26" stroke="none"/>
<path d="M495.01 900.8 L496.43 900.8 L497.85 900.79 L499.28 900.79 L500.7 900.78 L502.12 900.76 L503.54 900.74 L504.96 900.72 L506.39 900.7 L507.81 900.68 L509.23 900.65 L510.65 900.62 L512.07 900.58 L513.5 900.55 L514.92 900.51 L516.34 900.46 L517.76 900.42 L519.18 900.37 L520.61 900.32 L522.03 900.27 L523.45 900.22 L524.87 900.16 L526.29 900.08 L527.72 899.96 L529.14 899.79 L530.56 899.58 L531.98 899.33 L533.41 899.05 L534.83 898.73 L536.25 898.38 L537.67 898.01 L539.09 897.61 L540.52 897.19 L541.94 896.75 L543.36 896.3 L544.78 895.83 L546.2 895.36 L547.63 894.87 L549.05 894.32 L550.47 893.7 L551.89 893 L553.31 892.23 L554.74 891.39 L556.16 890.49 L557.58 889.53 L559 888.51 L560.42 887.44 L561.85 886.26 L563.27 884.94 L564.69 883.46 L566.11 881.78 L567.53 879.88 L568.96 877.58 L570.38 874.55 L571.8 871.02 L573.22 867.23 L574.64 863.43 L576.07 859.88 L577.49 856.44 L578.91 852.95 L580.33 849.57 L581.75 846.46 L583.18 843.79 L584.6 841.47 L586.02 839.25 L587.44 836.85 L588.86 834 L590.29 830.72 L591.71 827.12 L593.13 823.31 L594.55 819.4 L595.97 815.26 L597.4 810.79 L598.82 806.31 L600.24 802.14 L601.66 798.34 L603.08 794.67 L604.51 791.21 L605.93 788 L607.35 785.09 L608.77 782.25 L610.19 779.6 L611.62 777.34 L613.04 775.66 L614.46 774.28 L615.88 773.05 L617.3 772.19 L618.73 771.9 L620.15 772.85 L621.57 775.08 L622.99 778.09 L624.41 781.44 L625.84 784.64 L627.26 787.29 L628.68 789.75 L630.1 792.19 L631.52 794.64 L632.95 797.13 L634.37 799.71 L635.79 802.37 L637.21 805.07 L638.63 807.84 L640.06 810.7 L641.48 813.69 L642.9 816.85 L644.32 820.26 L645.74 823.91 L647.17 827.74 L648.59 831.66 L650.01 835.61 L651.43 839.51 L652.85 843.47 L654.28 847.57 L655.7 851.68 L657.12 855.68 L658.54 859.45 L659.97 862.89 L661.39 866.23 L662.81 869.47 L664.23 872.52 L665.65 875.27 L667.08 877.63 L668.5 879.57 L669.92 881.31 L671.34 882.9 L672.76 884.34 L674.19 885.66 L675.61 886.88 L677.03 887.99 L678.45 889.04 L679.87 890.07 L681.3 891.07 L682.72 892.04 L684.14 892.95 L685.56 893.81 L686.98 894.6 L688.41 895.3 L689.83 895.91 L691.25 896.41 L692.67 896.79 L694.09 897.13 L695.52 897.46 L696.94 897.78 L698.36 898.09 L699.78 898.38 L701.2 898.66 L702.63 898.93 L704.05 899.19 L705.47 899.43 L706.89 899.65 L708.31 899.86 L709.74 900.05 L711.16 900.22 L712.58 900.37 L714 900.5 L715.42 900.6 L716.85 900.69 L718.27 900.75 L719.69 900.79 L721.11 900.8" fill="none" stroke="#00BA38" stroke-width="3.4" stroke-linejoin="round" stroke-linecap="butt"/>
<path d="M550.52 900.8 L551.35 900.78 L552.17 900.73 L553 900.64 L553.83 900.51 L554.65 900.36 L555.48 900.18 L556.3 899.97 L557.13 899.74 L557.95 899.48 L558.78 899.2 L559.61 898.91 L560.43 898.59 L561.26 898.27 L562.08 897.93 L562.91 897.57 L563.73 897.21 L564.56 896.82 L565.39 896.34 L566.21 895.78 L567.04 895.14 L567.86 894.41 L568.69 893.62 L569.51 892.75 L570.34 891.81 L571.17 890.8 L571.99 889.72 L572.82 888.59 L573.64 887.39 L574.47 886.09 L575.29 884.51 L576.12 882.65 L576.94 880.56 L577.77 878.25 L578.6 875.79 L579.42 873.19 L580.25 870.5 L581.07 867.75 L581.9 864.98 L582.72 862.18 L583.55 859.21 L584.38 856.06 L585.2 852.76 L586.03 849.3 L586.85 845.69 L587.68 841.94 L588.5 838.03 L589.33 833.76 L590.16 829.17 L590.98 824.36 L591.81 819.43 L592.63 814.47 L593.46 809.59 L594.28 804.88 L595.11 800.42 L595.94 796.03 L596.76 791.68 L597.59 787.41 L598.41 783.2 L599.24 779.07 L600.06 775.04 L600.89 771.1 L601.72 767.32 L602.54 763.66 L603.37 760.09 L604.19 756.56 L605.02 753.03 L605.84 749.45 L606.67 745.79 L607.5 741.88 L608.32 737.58 L609.15 733.1 L609.97 728.65 L610.8 724.46 L611.62 720.74 L612.45 717.71 L613.28 715.5 L614.1 713.46 L614.93 711.58 L615.75 710.04 L616.58 709 L617.4 708.63 L618.23 708.95 L619.06 709.83 L619.88 711.18 L620.71 712.94 L621.53 715.02 L622.36 717.35 L623.18 719.85 L624.01 722.45 L624.83 725.08 L625.66 728.29 L626.49 732.23 L627.31 736.73 L628.14 741.61 L628.96 746.68 L629.79 751.76 L630.61 756.68 L631.44 761.48 L632.27 766.45 L633.09 771.53 L633.92 776.66 L634.74 781.78 L635.57 786.84 L636.39 791.75 L637.22 796.49 L638.05 801.07 L638.87 805.55 L639.7 809.96 L640.52 814.34 L641.35 818.73 L642.17 823.18 L643 827.71 L643.83 832.58 L644.65 837.77 L645.48 843.1 L646.3 848.35 L647.13 853.34 L647.95 857.85 L648.78 861.7 L649.61 864.7 L650.43 867.16 L651.26 869.29 L652.08 871.2 L652.91 872.96 L653.73 874.66 L654.56 876.38 L655.39 878.22 L656.21 880.25 L657.04 882.42 L657.86 884.65 L658.69 886.83 L659.51 888.86 L660.34 890.65 L661.17 892.1 L661.99 893.16 L662.82 894.12 L663.64 894.99 L664.47 895.77 L665.29 896.45 L666.12 897.03 L666.95 897.49 L667.77 897.84 L668.6 898.14 L669.42 898.43 L670.25 898.7 L671.07 898.96 L671.9 899.21 L672.73 899.45 L673.55 899.67 L674.38 899.87 L675.2 900.06 L676.03 900.22 L676.85 900.37 L677.68 900.5 L678.5 900.6 L679.33 900.69 L680.16 900.75 L680.98 900.79 L681.81 900.8 L681.81 900.8 L550.52 900.8 Z" fill="#619CFF" fill-opacity="0.26" stroke="none"/>
<path d="M550.52 900.8 L551.35 900.78 L552.17 900.73 L553 900.64 L553.83 900.51 L554.65 900.36 L555.48 900.18 L556.3 899.97 L557.13 899.74 L557.95 899.48 L558.78 899.2 L559.61 898.91 L560.43 898.59 L561.26 898.27 L562.08 897.93 L562.91 897.57 L563.73 897.21 L564.56 896.82 L565.39 896.34 L566.21 895.78 L567.04 895.14 L567.86 894.41 L568.69 893.62 L569.51 892.75 L570.34 891.81 L571.17 890.8 L571.99 889.72 L572.82 888.59 L573.64 887.39 L574.47 886.09 L575.29 884.51 L576.12 882.65 L576.94 880.56 L577.77 878.25 L578.6 875.79 L579.42 873.19 L580.25 870.5 L581.07 867.75 L581.9 864.98 L582.72 862.18 L583.55 859.21 L584.38 856.06 L585.2 852.76 L586.03 849.3 L586.85 845.69 L587.68 841.94 L588.5 838.03 L589.33 833.76 L590.16 829.17 L590.98 824.36 L591.81 819.43 L592.63 814.47 L593.46 809.59 L594.28 804.88 L595.11 800.42 L595.94 796.03 L596.76 791.68 L597.59 787.41 L598.41 783.2 L599.24 779.07 L600.06 775.04 L600.89 771.1 L601.72 767.32 L602.54 763.66 L603.37 760.09 L604.19 756.56 L605.02 753.03 L605.84 749.45 L606.67 745.79 L607.5 741.88 L608.32 737.58 L609.15 733.1 L609.97 728.65 L610.8 724.46 L611.62 720.74 L612.45 717.71 L613.28 715.5 L614.1 713.46 L614.93 711.58 L615.75 710.04 L616.58 709 L617.4 708.63 L618.23 708.95 L619.06 709.83 L619.88 711.18 L620.71 712.94 L621.53 715.02 L622.36 717.35 L623.18 719.85 L624.01 722.45 L624.83 725.08 L625.66 728.29 L626.49 732.23 L627.31 736.73 L628.14 741.61 L628.96 746.68 L629.79 751.76 L630.61 756.68 L631.44 761.48 L632.27 766.45 L633.09 771.53 L633.92 776.66 L634.74 781.78 L635.57 786.84 L636.39 791.75 L637.22 796.49 L638.05 801.07 L638.87 805.55 L639.7 809.96 L640.52 814.34 L641.35 818.73 L642.17 823.18 L643 827.71 L643.83 832.58 L644.65 837.77 L645.48 843.1 L646.3 848.35 L647.13 853.34 L647.95 857.85 L648.78 861.7 L649.61 864.7 L650.43 867.16 L651.26 869.29 L652.08 871.2 L652.91 872.96 L653.73 874.66 L654.56 876.38 L655.39 878.22 L656.21 880.25 L657.04 882.42 L657.86 884.65 L658.69 886.83 L659.51 888.86 L660.34 890.65 L661.17 892.1 L661.99 893.16 L662.82 894.12 L663.64 894.99 L664.47 895.77 L665.29 896.45 L666.12 897.03 L666.95 897.49 L667.77 897.84 L668.6 898.14 L669.42 898.43 L670.25 898.7 L671.07 898.96 L671.9 899.21 L672.73 899.45 L673.55 899.67 L674.38 899.87 L675.2 900.06 L676.03 900.22 L676.85 900.37 L677.68 900.5 L678.5 900.6 L679.33 900.69 L680.16 900.75 L680.98 900.79 L681.81 900.8" fill="none" stroke="#619CFF" stroke-width="3.4" stroke-linejoin="round" stroke-linecap="butt"/>
</g>
<rect x="484" y="698.8" width="248.4" height="210.2" fill="none" stroke="#b4b4b4" stroke-width="2"/>
<rect x="484" y="648.4" width="248.4" height="50.4" fill="#e3e3e3" stroke="#b4b4b4" stroke-width="2"/>
<text transform="translate(524.32 683.12) scale(1.1520 1)" font-size="27.7" font-family='"Liberation Sans", Arial, sans-serif' fill="#1a1a1a" stroke="#1a1a1a" stroke-width="0.3">ST vs. CRR</text>
<path d="M514.46 909 V918 M554.98 909 V918 M595.5 909 V918 M636.02 909 V918 M676.54 909 V918 M717.06 909 V918 M475 900.8 H484 M475 847 H484 M475 793.2 H484 M475 739.4 H484" stroke="#b4b4b4" stroke-width="2" fill="none"/>
<text transform="translate(496.06 944.96) scale(1.2000 1)" font-size="26.9" font-family='"Liberation Sans", Arial, sans-serif' fill="#4d4d4d" stroke="#4d4d4d" stroke-width="0.5">−2</text>
<text transform="translate(536.54 944.96) scale(1.2000 1)" font-size="26.9" font-family='"Liberation Sans", Arial, sans-serif' fill="#4d4d4d" stroke="#4d4d4d" stroke-width="0.5">−1</text>
<text transform="translate(586.5 944.96) scale(1.2000 1)" font-size="26.9" font-family='"Liberation Sans", Arial, sans-serif' fill="#4d4d4d" stroke="#4d4d4d" stroke-width="0.5">0</text>
<text transform="translate(626.62 944.96) scale(1.2000 1)" font-size="26.9" font-family='"Liberation Sans", Arial, sans-serif' fill="#4d4d4d" stroke="#4d4d4d" stroke-width="0.5">1</text>
<text transform="translate(667.58 944.96) scale(1.2000 1)" font-size="26.9" font-family='"Liberation Sans", Arial, sans-serif' fill="#4d4d4d" stroke="#4d4d4d" stroke-width="0.5">2</text>
<text transform="translate(708.18 944.96) scale(1.2000 1)" font-size="26.9" font-family='"Liberation Sans", Arial, sans-serif' fill="#4d4d4d" stroke="#4d4d4d" stroke-width="0.5">3</text>
<text transform="translate(402.83 910.55) scale(1.2000 1)" font-size="26.9" font-family='"Liberation Sans", Arial, sans-serif' fill="#4d4d4d" stroke="#4d4d4d" stroke-width="0.5">0.00</text>
<text transform="translate(402.91 856.75) scale(1.2000 1)" font-size="26.9" font-family='"Liberation Sans", Arial, sans-serif' fill="#4d4d4d" stroke="#4d4d4d" stroke-width="0.5">0.25</text>
<text transform="translate(402.83 802.95) scale(1.2000 1)" font-size="26.9" font-family='"Liberation Sans", Arial, sans-serif' fill="#4d4d4d" stroke="#4d4d4d" stroke-width="0.5">0.50</text>
<text transform="translate(402.91 749.15) scale(1.2000 1)" font-size="26.9" font-family='"Liberation Sans", Arial, sans-serif' fill="#4d4d4d" stroke="#4d4d4d" stroke-width="0.5">0.75</text>
<clipPath id="c8"><rect x="1203.4" y="114" width="307.4" height="220.8"/></clipPath>
<g clip-path="url(#c8)">
<path d="M1230.25 114 V334.8 M1344.75 114 V334.8 M1459.25 114 V334.8 M1203.4 304.25 H1510.8 M1203.4 262.35 H1510.8 M1203.4 220.45 H1510.8 M1203.4 178.55 H1510.8 M1203.4 136.65 H1510.8" stroke="#f7f7f7" stroke-width="1.6" fill="none"/>
<path d="M1287.5 114 V334.8 M1402 114 V334.8 M1203.4 325.2 H1510.8 M1203.4 283.3 H1510.8 M1203.4 241.4 H1510.8 M1203.4 199.5 H1510.8 M1203.4 157.6 H1510.8 M1203.4 115.7 H1510.8" stroke="#f3f3f3" stroke-width="2.0" fill="none"/>
<path d="M1217.65 325.2 L1219.25 325.2 L1220.85 325.19 L1222.45 325.18 L1224.05 325.16 L1225.65 325.14 L1227.25 325.11 L1228.85 325.08 L1230.44 325.04 L1232.04 325.01 L1233.64 324.97 L1235.24 324.92 L1236.84 324.88 L1238.44 324.83 L1240.04 324.78 L1241.64 324.72 L1243.23 324.64 L1244.83 324.54 L1246.43 324.43 L1248.03 324.3 L1249.63 324.15 L1251.23 323.98 L1252.83 323.8 L1254.42 323.6 L1256.02 323.39 L1257.62 323.16 L1259.22 322.92 L1260.82 322.66 L1262.42 322.38 L1264.02 322.09 L1265.62 321.79 L1267.21 321.48 L1268.81 321.15 L1270.41 320.81 L1272.01 320.45 L1273.61 320.07 L1275.21 319.61 L1276.81 319.07 L1278.4 318.45 L1280 317.75 L1281.6 316.96 L1283.2 316.09 L1284.8 315.14 L1286.4 314.1 L1288 312.97 L1289.6 311.76 L1291.19 310.02 L1292.79 307.62 L1294.39 304.81 L1295.99 301.81 L1297.59 298.86 L1299.19 296.2 L1300.79 294.06 L1302.38 292.58 L1303.98 291.49 L1305.58 290.43 L1307.18 289.02 L1308.78 286.8 L1310.38 283.41 L1311.98 279.22 L1313.58 274.65 L1315.17 269.95 L1316.77 264.78 L1318.37 259.02 L1319.97 252.62 L1321.57 245.24 L1323.17 236.09 L1324.77 226.48 L1326.37 217.81 L1327.96 209.32 L1329.56 201.04 L1331.16 193.64 L1332.76 187.77 L1334.36 183.31 L1335.96 179.45 L1337.56 176.36 L1339.15 174.22 L1340.75 172.6 L1342.35 171.27 L1343.95 170.51 L1345.55 170.56 L1347.15 171.39 L1348.75 172.7 L1350.35 174.23 L1351.94 176.16 L1353.54 178.8 L1355.14 181.82 L1356.74 185.28 L1358.34 189.28 L1359.94 193.65 L1361.54 198.22 L1363.13 202.89 L1364.73 207.85 L1366.33 213.09 L1367.93 218.59 L1369.53 224.44 L1371.13 230.78 L1372.73 237.36 L1374.33 243.96 L1375.92 250.33 L1377.52 256.41 L1379.12 262.47 L1380.72 268.3 L1382.32 273.69 L1383.92 278.6 L1385.52 283.54 L1387.12 288.29 L1388.71 292.59 L1390.31 296.16 L1391.91 298.73 L1393.51 300.4 L1395.11 301.67 L1396.71 302.76 L1398.31 303.89 L1399.9 305.06 L1401.5 306.19 L1403.1 307.41 L1404.7 308.92 L1406.3 310.88 L1407.9 313.06 L1409.5 315.2 L1411.1 317.03 L1412.69 318.29 L1414.29 319.12 L1415.89 319.89 L1417.49 320.61 L1419.09 321.26 L1420.69 321.85 L1422.29 322.39 L1423.88 322.86 L1425.48 323.27 L1427.08 323.61 L1428.68 323.89 L1430.28 324.11 L1431.88 324.27 L1433.48 324.41 L1435.08 324.53 L1436.67 324.64 L1438.27 324.73 L1439.87 324.81 L1441.47 324.88 L1443.07 324.93 L1444.67 324.96 L1446.27 324.98 L1447.86 325.01 L1449.46 325.03 L1451.06 325.05 L1452.66 325.08 L1454.26 325.09 L1455.86 325.11 L1457.46 325.13 L1459.06 325.14 L1460.65 325.16 L1462.25 325.17 L1463.85 325.18 L1465.45 325.19 L1467.05 325.19 L1468.65 325.2 L1470.25 325.2 L1471.85 325.2 L1471.85 325.2 L1217.65 325.2 Z" fill="#F8766D" fill-opacity="0.26" stroke="none"/>
<path d="M1217.65 325.2 L1219.25 325.2 L1220.85 325.19 L1222.45 325.18 L1224.05 325.16 L1225.65 325.14 L1227.25 325.11 L1228.85 325.08 L1230.44 325.04 L1232.04 325.01 L1233.64 324.97 L1235.24 324.92 L1236.84 324.88 L1238.44 324.83 L1240.04 324.78 L1241.64 324.72 L1243.23 324.64 L1244.83 324.54 L1246.43 324.43 L1248.03 324.3 L1249.63 324.15 L1251.23 323.98 L1252.83 323.8 L1254.42 323.6 L1256.02 323.39 L1257.62 323.16 L1259.22 322.92 L1260.82 322.66 L1262.42 322.38 L1264.02 322.09 L1265.62 321.79 L1267.21 321.48 L1268.81 321.15 L1270.41 320.81 L1272.01 320.45 L1273.61 320.07 L1275.21 319.61 L1276.81 319.07 L1278.4 318.45 L1280 317.75 L1281.6 316.96 L1283.2 316.09 L1284.8 315.14 L1286.4 314.1 L1288 312.97 L1289.6 311.76 L1291.19 310.02 L1292.79 307.62 L1294.39 304.81 L1295.99 301.81 L1297.59 298.86 L1299.19 296.2 L1300.79 294.06 L1302.38 292.58 L1303.98 291.49 L1305.58 290.43 L1307.18 289.02 L1308.78 286.8 L1310.38 283.41 L1311.98 279.22 L1313.58 274.65 L1315.17 269.95 L1316.77 264.78 L1318.37 259.02 L1319.97 252.62 L1321.57 245.24 L1323.17 236.09 L1324.77 226.48 L1326.37 217.81 L1327.96 209.32 L1329.56 201.04 L1331.16 193.64 L1332.76 187.77 L1334.36 183.31 L1335.96 179.45 L1337.56 176.36 L1339.15 174.22 L1340.75 172.6 L1342.35 171.27 L1343.95 170.51 L1345.55 170.56 L1347.15 171.39 L1348.75 172.7 L1350.35 174.23 L1351.94 176.16 L1353.54 178.8 L1355.14 181.82 L1356.74 185.28 L1358.34 189.28 L1359.94 193.65 L1361.54 198.22 L1363.13 202.89 L1364.73 207.85 L1366.33 213.09 L1367.93 218.59 L1369.53 224.44 L1371.13 230.78 L1372.73 237.36 L1374.33 243.96 L1375.92 250.33 L1377.52 256.41 L1379.12 262.47 L1380.72 268.3 L1382.32 273.69 L1383.92 278.6 L1385.52 283.54 L1387.12 288.29 L1388.71 292.59 L1390.31 296.16 L1391.91 298.73 L1393.51 300.4 L1395.11 301.67 L1396.71 302.76 L1398.31 303.89 L1399.9 305.06 L1401.5 306.19 L1403.1 307.41 L1404.7 308.92 L1406.3 310.88 L1407.9 313.06 L1409.5 315.2 L1411.1 317.03 L1412.69 318.29 L1414.29 319.12 L1415.89 319.89 L1417.49 320.61 L1419.09 321.26 L1420.69 321.85 L1422.29 322.39 L1423.88 322.86 L1425.48 323.27 L1427.08 323.61 L1428.68 323.89 L1430.28 324.11 L1431.88 324.27 L1433.48 324.41 L1435.08 324.53 L1436.67 324.64 L1438.27 324.73 L1439.87 324.81 L1441.47 324.88 L1443.07 324.93 L1444.67 324.96 L1446.27 324.98 L1447.86 325.01 L1449.46 325.03 L1451.06 325.05 L1452.66 325.08 L1454.26 325.09 L1455.86 325.11 L1457.46 325.13 L1459.06 325.14 L1460.65 325.16 L1462.25 325.17 L1463.85 325.18 L1465.45 325.19 L1467.05 325.19 L1468.65 325.2 L1470.25 325.2 L1471.85 325.2" fill="none" stroke="#F8766D" stroke-width="2.8" stroke-linejoin="round" stroke-linecap="butt"/>
<path d="M1247.77 325.2 L1249.33 325.2 L1250.89 325.2 L1252.45 325.2 L1254.02 325.19 L1255.58 325.19 L1257.14 325.19 L1258.7 325.18 L1260.26 325.17 L1261.83 325.17 L1263.39 325.16 L1264.95 325.15 L1266.51 325.14 L1268.07 325.13 L1269.64 325.12 L1271.2 325.11 L1272.76 325.09 L1274.32 325.08 L1275.88 325.06 L1277.45 325.05 L1279.01 325.03 L1280.57 325 L1282.13 324.93 L1283.69 324.83 L1285.26 324.71 L1286.82 324.55 L1288.38 324.37 L1289.94 324.17 L1291.5 323.94 L1293.07 323.7 L1294.63 323.44 L1296.19 323.16 L1297.75 322.86 L1299.31 322.56 L1300.87 322.24 L1302.44 321.92 L1304 321.57 L1305.56 321.16 L1307.12 320.7 L1308.68 320.15 L1310.25 319.53 L1311.81 318.81 L1313.37 317.99 L1314.93 317.06 L1316.49 315.75 L1318.06 313.49 L1319.62 310.71 L1321.18 307.92 L1322.74 305.64 L1324.3 304.2 L1325.87 303.15 L1327.43 302.27 L1328.99 301.38 L1330.55 300.29 L1332.11 298.87 L1333.68 297.13 L1335.24 295.12 L1336.8 292.85 L1338.36 290.35 L1339.92 287.55 L1341.49 284.24 L1343.05 280.49 L1344.61 276.44 L1346.17 272.21 L1347.73 267.9 L1349.3 263.54 L1350.86 258.97 L1352.42 254.2 L1353.98 249.24 L1355.54 244.08 L1357.11 238.76 L1358.67 232.77 L1360.23 226.44 L1361.79 221 L1363.35 216.94 L1364.91 213.31 L1366.48 209.14 L1368.04 204.13 L1369.6 198.88 L1371.16 193.98 L1372.72 189.21 L1374.29 184.67 L1375.85 180.61 L1377.41 176.3 L1378.97 172.55 L1380.53 171.18 L1382.1 171.71 L1383.66 172.89 L1385.22 174.42 L1386.78 176.15 L1388.34 178.56 L1389.91 181.6 L1391.47 185.11 L1393.03 189.84 L1394.59 195.46 L1396.15 200.68 L1397.72 205.18 L1399.28 209.42 L1400.84 213.61 L1402.4 218 L1403.96 222.81 L1405.53 228.1 L1407.09 233.74 L1408.65 239.55 L1410.21 245.39 L1411.77 251.09 L1413.34 256.54 L1414.9 262.06 L1416.46 267.57 L1418.02 272.83 L1419.58 277.62 L1421.15 281.74 L1422.71 285.49 L1424.27 289.01 L1425.83 292.29 L1427.39 295.32 L1428.96 298.08 L1430.52 300.57 L1432.08 302.81 L1433.64 304.92 L1435.2 306.89 L1436.76 308.7 L1438.33 310.34 L1439.89 311.78 L1441.45 313.01 L1443.01 314.09 L1444.57 315.09 L1446.14 316.02 L1447.7 316.88 L1449.26 317.68 L1450.82 318.42 L1452.38 319.1 L1453.95 319.73 L1455.51 320.31 L1457.07 320.84 L1458.63 321.35 L1460.19 321.84 L1461.76 322.31 L1463.32 322.75 L1464.88 323.15 L1466.44 323.49 L1468 323.77 L1469.57 323.97 L1471.13 324.11 L1472.69 324.23 L1474.25 324.35 L1475.81 324.46 L1477.38 324.56 L1478.94 324.66 L1480.5 324.75 L1482.06 324.83 L1483.62 324.9 L1485.19 324.97 L1486.75 325.03 L1488.31 325.08 L1489.87 325.12 L1491.43 325.16 L1493 325.18 L1494.56 325.2 L1496.12 325.2 L1496.12 325.2 L1247.77 325.2 Z" fill="#00BA38" fill-opacity="0.26" stroke="none"/>
<path d="M1247.77 325.2 L1249.33 325.2 L1250.89 325.2 L1252.45 325.2 L1254.02 325.19 L1255.58 325.19 L1257.14 325.19 L1258.7 325.18 L1260.26 325.17 L1261.83 325.17 L1263.39 325.16 L1264.95 325.15 L1266.51 325.14 L1268.07 325.13 L1269.64 325.12 L1271.2 325.11 L1272.76 325.09 L1274.32 325.08 L1275.88 325.06 L1277.45 325.05 L1279.01 325.03 L1280.57 325 L1282.13 324.93 L1283.69 324.83 L1285.26 324.71 L1286.82 324.55 L1288.38 324.37 L1289.94 324.17 L1291.5 323.94 L1293.07 323.7 L1294.63 323.44 L1296.19 323.16 L1297.75 322.86 L1299.31 322.56 L1300.87 322.24 L1302.44 321.92 L1304 321.57 L1305.56 321.16 L1307.12 320.7 L1308.68 320.15 L1310.25 319.53 L1311.81 318.81 L1313.37 317.99 L1314.93 317.06 L1316.49 315.75 L1318.06 313.49 L1319.62 310.71 L1321.18 307.92 L1322.74 305.64 L1324.3 304.2 L1325.87 303.15 L1327.43 302.27 L1328.99 301.38 L1330.55 300.29 L1332.11 298.87 L1333.68 297.13 L1335.24 295.12 L1336.8 292.85 L1338.36 290.35 L1339.92 287.55 L1341.49 284.24 L1343.05 280.49 L1344.61 276.44 L1346.17 272.21 L1347.73 267.9 L1349.3 263.54 L1350.86 258.97 L1352.42 254.2 L1353.98 249.24 L1355.54 244.08 L1357.11 238.76 L1358.67 232.77 L1360.23 226.44 L1361.79 221 L1363.35 216.94 L1364.91 213.31 L1366.48 209.14 L1368.04 204.13 L1369.6 198.88 L1371.16 193.98 L1372.72 189.21 L1374.29 184.67 L1375.85 180.61 L1377.41 176.3 L1378.97 172.55 L1380.53 171.18 L1382.1 171.71 L1383.66 172.89 L1385.22 174.42 L1386.78 176.15 L1388.34 178.56 L1389.91 181.6 L1391.47 185.11 L1393.03 189.84 L1394.59 195.46 L1396.15 200.68 L1397.72 205.18 L1399.28 209.42 L1400.84 213.61 L1402.4 218 L1403.96 222.81 L1405.53 228.1 L1407.09 233.74 L1408.65 239.55 L1410.21 245.39 L1411.77 251.09 L1413.34 256.54 L1414.9 262.06 L1416.46 267.57 L1418.02 272.83 L1419.58 277.62 L1421.15 281.74 L1422.71 285.49 L1424.27 289.01 L1425.83 292.29 L1427.39 295.32 L1428.96 298.08 L1430.52 300.57 L1432.08 302.81 L1433.64 304.92 L1435.2 306.89 L1436.76 308.7 L1438.33 310.34 L1439.89 311.78 L1441.45 313.01 L1443.01 314.09 L1444.57 315.09 L1446.14 316.02 L1447.7 316.88 L1449.26 317.68 L1450.82 318.42 L1452.38 319.1 L1453.95 319.73 L1455.51 320.31 L1457.07 320.84 L1458.63 321.35 L1460.19 321.84 L1461.76 322.31 L1463.32 322.75 L1464.88 323.15 L1466.44 323.49 L1468 323.77 L1469.57 323.97 L1471.13 324.11 L1472.69 324.23 L1474.25 324.35 L1475.81 324.46 L1477.38 324.56 L1478.94 324.66 L1480.5 324.75 L1482.06 324.83 L1483.62 324.9 L1485.19 324.97 L1486.75 325.03 L1488.31 325.08 L1489.87 325.12 L1491.43 325.16 L1493 325.18 L1494.56 325.2 L1496.12 325.2" fill="none" stroke="#00BA38" stroke-width="2.8" stroke-linejoin="round" stroke-linecap="butt"/>
<path d="M1259.45 325.2 L1260.8 325.2 L1262.15 325.19 L1263.5 325.17 L1264.85 325.15 L1266.2 325.12 L1267.55 325.08 L1268.9 325.04 L1270.25 324.99 L1271.6 324.93 L1272.95 324.87 L1274.3 324.8 L1275.65 324.72 L1277 324.64 L1278.35 324.55 L1279.7 324.45 L1281.05 324.35 L1282.4 324.24 L1283.75 324.13 L1285.1 324 L1286.45 323.88 L1287.8 323.74 L1289.15 323.6 L1290.5 323.45 L1291.85 323.3 L1293.2 323.09 L1294.55 322.76 L1295.9 322.32 L1297.25 321.79 L1298.6 321.2 L1299.95 320.55 L1301.3 319.88 L1302.66 319.2 L1304.01 318.43 L1305.36 317.57 L1306.71 316.61 L1308.06 315.58 L1309.41 314.49 L1310.76 313.34 L1312.11 312.16 L1313.46 310.96 L1314.81 309.72 L1316.16 308.44 L1317.51 307.09 L1318.86 305.63 L1320.21 304.06 L1321.56 302.34 L1322.91 300.45 L1324.26 298.33 L1325.61 295.84 L1326.96 292.98 L1328.31 289.72 L1329.66 286.07 L1331.01 281.67 L1332.36 276.18 L1333.71 270.03 L1335.06 263.68 L1336.41 257.58 L1337.76 251.76 L1339.11 245.97 L1340.46 240.07 L1341.81 233.93 L1343.16 227.4 L1344.51 220.31 L1345.86 212.68 L1347.21 204.65 L1348.56 196.39 L1349.91 188.06 L1351.26 179.84 L1352.61 171.45 L1353.96 162.35 L1355.31 153.57 L1356.66 146.2 L1358.01 140.9 L1359.36 136.01 L1360.72 131.5 L1362.07 127.73 L1363.42 125.06 L1364.77 123.86 L1366.12 124.53 L1367.47 127.12 L1368.82 131.26 L1370.17 136.58 L1371.52 142.71 L1372.87 149.33 L1374.22 159.76 L1375.57 172.37 L1376.92 183.67 L1378.27 194.53 L1379.62 202.82 L1380.97 209.12 L1382.32 214.58 L1383.67 219.99 L1385.02 225.49 L1386.37 230.89 L1387.72 236.43 L1389.07 242.11 L1390.42 247.85 L1391.77 253.52 L1393.12 259.03 L1394.47 264.28 L1395.82 269.36 L1397.17 274.46 L1398.52 279.42 L1399.87 284.05 L1401.22 288.18 L1402.57 291.63 L1403.92 294.6 L1405.27 297.28 L1406.62 299.72 L1407.97 301.94 L1409.32 304.01 L1410.67 305.95 L1412.02 307.82 L1413.37 309.59 L1414.72 311.24 L1416.07 312.71 L1417.43 313.98 L1418.78 315.04 L1420.13 316.01 L1421.48 316.93 L1422.83 317.78 L1424.18 318.58 L1425.53 319.3 L1426.88 319.97 L1428.23 320.56 L1429.58 321.09 L1430.93 321.55 L1432.28 321.96 L1433.63 322.37 L1434.98 322.76 L1436.33 323.14 L1437.68 323.49 L1439.03 323.82 L1440.38 324.11 L1441.73 324.36 L1443.08 324.57 L1444.43 324.73 L1445.78 324.83 L1447.13 324.88 L1448.48 324.91 L1449.83 324.94 L1451.18 324.97 L1452.53 325 L1453.88 325.02 L1455.23 325.04 L1456.58 325.07 L1457.93 325.09 L1459.28 325.1 L1460.63 325.12 L1461.98 325.14 L1463.33 325.15 L1464.68 325.16 L1466.03 325.17 L1467.38 325.18 L1468.73 325.19 L1470.08 325.19 L1471.43 325.2 L1472.78 325.2 L1474.13 325.2 L1474.13 325.2 L1259.45 325.2 Z" fill="#619CFF" fill-opacity="0.26" stroke="none"/>
<path d="M1259.45 325.2 L1260.8 325.2 L1262.15 325.19 L1263.5 325.17 L1264.85 325.15 L1266.2 325.12 L1267.55 325.08 L1268.9 325.04 L1270.25 324.99 L1271.6 324.93 L1272.95 324.87 L1274.3 324.8 L1275.65 324.72 L1277 324.64 L1278.35 324.55 L1279.7 324.45 L1281.05 324.35 L1282.4 324.24 L1283.75 324.13 L1285.1 324 L1286.45 323.88 L1287.8 323.74 L1289.15 323.6 L1290.5 323.45 L1291.85 323.3 L1293.2 323.09 L1294.55 322.76 L1295.9 322.32 L1297.25 321.79 L1298.6 321.2 L1299.95 320.55 L1301.3 319.88 L1302.66 319.2 L1304.01 318.43 L1305.36 317.57 L1306.71 316.61 L1308.06 315.58 L1309.41 314.49 L1310.76 313.34 L1312.11 312.16 L1313.46 310.96 L1314.81 309.72 L1316.16 308.44 L1317.51 307.09 L1318.86 305.63 L1320.21 304.06 L1321.56 302.34 L1322.91 300.45 L1324.26 298.33 L1325.61 295.84 L1326.96 292.98 L1328.31 289.72 L1329.66 286.07 L1331.01 281.67 L1332.36 276.18 L1333.71 270.03 L1335.06 263.68 L1336.41 257.58 L1337.76 251.76 L1339.11 245.97 L1340.46 240.07 L1341.81 233.93 L1343.16 227.4 L1344.51 220.31 L1345.86 212.68 L1347.21 204.65 L1348.56 196.39 L1349.91 188.06 L1351.26 179.84 L1352.61 171.45 L1353.96 162.35 L1355.31 153.57 L1356.66 146.2 L1358.01 140.9 L1359.36 136.01 L1360.72 131.5 L1362.07 127.73 L1363.42 125.06 L1364.77 123.86 L1366.12 124.53 L1367.47 127.12 L1368.82 131.26 L1370.17 136.58 L1371.52 142.71 L1372.87 149.33 L1374.22 159.76 L1375.57 172.37 L1376.92 183.67 L1378.27 194.53 L1379.62 202.82 L1380.97 209.12 L1382.32 214.58 L1383.67 219.99 L1385.02 225.49 L1386.37 230.89 L1387.72 236.43 L1389.07 242.11 L1390.42 247.85 L1391.77 253.52 L1393.12 259.03 L1394.47 264.28 L1395.82 269.36 L1397.17 274.46 L1398.52 279.42 L1399.87 284.05 L1401.22 288.18 L1402.57 291.63 L1403.92 294.6 L1405.27 297.28 L1406.62 299.72 L1407.97 301.94 L1409.32 304.01 L1410.67 305.95 L1412.02 307.82 L1413.37 309.59 L1414.72 311.24 L1416.07 312.71 L1417.43 313.98 L1418.78 315.04 L1420.13 316.01 L1421.48 316.93 L1422.83 317.78 L1424.18 318.58 L1425.53 319.3 L1426.88 319.97 L1428.23 320.56 L1429.58 321.09 L1430.93 321.55 L1432.28 321.96 L1433.63 322.37 L1434.98 322.76 L1436.33 323.14 L1437.68 323.49 L1439.03 323.82 L1440.38 324.11 L1441.73 324.36 L1443.08 324.57 L1444.43 324.73 L1445.78 324.83 L1447.13 324.88 L1448.48 324.91 L1449.83 324.94 L1451.18 324.97 L1452.53 325 L1453.88 325.02 L1455.23 325.04 L1456.58 325.07 L1457.93 325.09 L1459.28 325.1 L1460.63 325.12 L1461.98 325.14 L1463.33 325.15 L1464.68 325.16 L1466.03 325.17 L1467.38 325.18 L1468.73 325.19 L1470.08 325.19 L1471.43 325.2 L1472.78 325.2 L1474.13 325.2" fill="none" stroke="#619CFF" stroke-width="2.8" stroke-linejoin="round" stroke-linecap="butt"/>
</g>
<rect x="1203.4" y="114" width="307.4" height="220.8" fill="none" stroke="#bdbdbd" stroke-width="1.8"/>
<rect x="1203.4" y="73.5" width="307.4" height="40.5" fill="#e3e3e3" stroke="#bdbdbd" stroke-width="1.8"/>
<text transform="translate(1289.74 101.48) scale(1.0629 1)" font-size="22.33" font-family='"Liberation Sans", Arial, sans-serif' fill="#1a1a1a" stroke="#1a1a1a" stroke-width="0.3">RIMT vs. AC</text>
<path d="M1287.5 334.8 V342.3 M1402 334.8 V342.3 M1195.9 325.2 H1203.4 M1195.9 283.3 H1203.4 M1195.9 241.4 H1203.4 M1195.9 199.5 H1203.4 M1195.9 157.6 H1203.4 M1195.9 115.7 H1203.4" stroke="#c0c0c0" stroke-width="2" fill="none"/>
<text transform="translate(1273.81 362.53) scale(1.1200 1)" font-size="21.4" font-family='"Liberation Sans", Arial, sans-serif' fill="#4d4d4d" stroke="#4d4d4d" stroke-width="0.5">−1</text>
<text transform="translate(1395.32 362.53) scale(1.1200 1)" font-size="21.4" font-family='"Liberation Sans", Arial, sans-serif' fill="#4d4d4d" stroke="#4d4d4d" stroke-width="0.5">0</text>
<text transform="translate(1156.18 333.56) scale(1.1200 1)" font-size="21.4" font-family='"Liberation Sans", Arial, sans-serif' fill="#4d4d4d" stroke="#4d4d4d" stroke-width="0.5">0.0</text>
<text transform="translate(1156.24 291.66) scale(1.1200 1)" font-size="21.4" font-family='"Liberation Sans", Arial, sans-serif' fill="#4d4d4d" stroke="#4d4d4d" stroke-width="0.5">0.5</text>
<text transform="translate(1156.18 249.76) scale(1.1200 1)" font-size="21.4" font-family='"Liberation Sans", Arial, sans-serif' fill="#4d4d4d" stroke="#4d4d4d" stroke-width="0.5">1.0</text>
<text transform="translate(1156.24 207.86) scale(1.1200 1)" font-size="21.4" font-family='"Liberation Sans", Arial, sans-serif' fill="#4d4d4d" stroke="#4d4d4d" stroke-width="0.5">1.5</text>
<text transform="translate(1156.18 165.96) scale(1.1200 1)" font-size="21.4" font-family='"Liberation Sans", Arial, sans-serif' fill="#4d4d4d" stroke="#4d4d4d" stroke-width="0.5">2.0</text>
<text transform="translate(1156.24 124.06) scale(1.1200 1)" font-size="21.4" font-family='"Liberation Sans", Arial, sans-serif' fill="#4d4d4d" stroke="#4d4d4d" stroke-width="0.5">2.5</text>
<clipPath id="c9"><rect x="1232.6" y="594.9" width="285.3" height="224.3"/></clipPath>
<g clip-path="url(#c9)">
<path d="M1248.5 594.9 V819.2 M1335.5 594.9 V819.2 M1422.5 594.9 V819.2 M1509.5 594.9 V819.2 M1232.6 780.95 H1517.9 M1232.6 722.85 H1517.9 M1232.6 664.75 H1517.9 M1232.6 606.65 H1517.9" stroke="#f7f7f7" stroke-width="1.6" fill="none"/>
<path d="M1292 594.9 V819.2 M1379 594.9 V819.2 M1466 594.9 V819.2 M1232.6 810 H1517.9 M1232.6 751.9 H1517.9 M1232.6 693.8 H1517.9 M1232.6 635.7 H1517.9" stroke="#f3f3f3" stroke-width="2.0" fill="none"/>
<path d="M1245.45 810 L1247.08 809.99 L1248.71 809.96 L1250.34 809.91 L1251.96 809.84 L1253.59 809.76 L1255.22 809.66 L1256.85 809.55 L1258.47 809.42 L1260.1 809.28 L1261.73 809.13 L1263.36 808.97 L1264.98 808.8 L1266.61 808.63 L1268.24 808.45 L1269.86 808.26 L1271.49 808.06 L1273.12 807.86 L1274.75 807.62 L1276.37 807.35 L1278 807.03 L1279.63 806.68 L1281.26 806.29 L1282.88 805.86 L1284.51 805.4 L1286.14 804.91 L1287.76 804.39 L1289.39 803.83 L1291.02 803.25 L1292.65 802.63 L1294.27 801.99 L1295.9 801.33 L1297.53 800.58 L1299.16 799.7 L1300.78 798.69 L1302.41 797.58 L1304.04 796.37 L1305.66 795.09 L1307.29 793.75 L1308.92 792.36 L1310.55 790.94 L1312.17 789.5 L1313.8 787.99 L1315.43 786.4 L1317.06 784.72 L1318.68 782.95 L1320.31 781.07 L1321.94 779.08 L1323.56 776.97 L1325.19 774.72 L1326.82 772.3 L1328.45 769.53 L1330.07 766.43 L1331.7 763.08 L1333.33 759.57 L1334.96 755.98 L1336.58 752.39 L1338.21 748.67 L1339.84 744.63 L1341.46 740.42 L1343.09 736.22 L1344.72 732.2 L1346.35 728.52 L1347.97 725.35 L1349.6 722.57 L1351.23 720.05 L1352.86 717.7 L1354.48 715.45 L1356.11 713.24 L1357.74 710.99 L1359.36 708.64 L1360.99 706.11 L1362.62 703.44 L1364.25 700.7 L1365.87 697.91 L1367.5 695.12 L1369.13 692.34 L1370.76 689.4 L1372.38 686.25 L1374.01 683.17 L1375.64 680.42 L1377.26 678.26 L1378.89 676.68 L1380.52 675.21 L1382.15 674 L1383.77 673.29 L1385.4 673.17 L1387.03 673.17 L1388.66 673.17 L1390.28 673.18 L1391.91 673.5 L1393.54 674.3 L1395.17 675.5 L1396.79 677 L1398.42 678.71 L1400.05 680.55 L1401.67 682.42 L1403.3 684.25 L1404.93 686.22 L1406.56 688.46 L1408.18 690.96 L1409.81 693.69 L1411.44 696.64 L1413.07 700.06 L1414.69 704.15 L1416.32 708.68 L1417.95 713.36 L1419.57 717.94 L1421.2 722.15 L1422.83 725.74 L1424.46 728.89 L1426.08 731.79 L1427.71 734.55 L1429.34 737.24 L1430.97 739.96 L1432.59 742.59 L1434.22 745.1 L1435.85 747.72 L1437.47 750.67 L1439.1 754.26 L1440.73 758.41 L1442.36 762.84 L1443.98 767.26 L1445.61 771.35 L1447.24 775.08 L1448.87 778.9 L1450.49 782.59 L1452.12 785.89 L1453.75 788.53 L1455.37 790.34 L1457 791.8 L1458.63 793.08 L1460.26 794.19 L1461.88 795.18 L1463.51 796.07 L1465.14 796.9 L1466.77 797.69 L1468.39 798.46 L1470.02 799.19 L1471.65 799.88 L1473.27 800.53 L1474.9 801.14 L1476.53 801.73 L1478.16 802.29 L1479.78 802.84 L1481.41 803.37 L1483.04 803.9 L1484.67 804.43 L1486.29 804.95 L1487.92 805.46 L1489.55 805.97 L1491.17 806.46 L1492.8 806.94 L1494.43 807.42 L1496.06 807.88 L1497.68 808.33 L1499.31 808.77 L1500.94 809.19 L1502.57 809.6 L1504.19 810 L1504.19 810 L1245.45 810 Z" fill="#F8766D" fill-opacity="0.26" stroke="none"/>
<path d="M1245.45 810 L1247.08 809.99 L1248.71 809.96 L1250.34 809.91 L1251.96 809.84 L1253.59 809.76 L1255.22 809.66 L1256.85 809.55 L1258.47 809.42 L1260.1 809.28 L1261.73 809.13 L1263.36 808.97 L1264.98 808.8 L1266.61 808.63 L1268.24 808.45 L1269.86 808.26 L1271.49 808.06 L1273.12 807.86 L1274.75 807.62 L1276.37 807.35 L1278 807.03 L1279.63 806.68 L1281.26 806.29 L1282.88 805.86 L1284.51 805.4 L1286.14 804.91 L1287.76 804.39 L1289.39 803.83 L1291.02 803.25 L1292.65 802.63 L1294.27 801.99 L1295.9 801.33 L1297.53 800.58 L1299.16 799.7 L1300.78 798.69 L1302.41 797.58 L1304.04 796.37 L1305.66 795.09 L1307.29 793.75 L1308.92 792.36 L1310.55 790.94 L1312.17 789.5 L1313.8 787.99 L1315.43 786.4 L1317.06 784.72 L1318.68 782.95 L1320.31 781.07 L1321.94 779.08 L1323.56 776.97 L1325.19 774.72 L1326.82 772.3 L1328.45 769.53 L1330.07 766.43 L1331.7 763.08 L1333.33 759.57 L1334.96 755.98 L1336.58 752.39 L1338.21 748.67 L1339.84 744.63 L1341.46 740.42 L1343.09 736.22 L1344.72 732.2 L1346.35 728.52 L1347.97 725.35 L1349.6 722.57 L1351.23 720.05 L1352.86 717.7 L1354.48 715.45 L1356.11 713.24 L1357.74 710.99 L1359.36 708.64 L1360.99 706.11 L1362.62 703.44 L1364.25 700.7 L1365.87 697.91 L1367.5 695.12 L1369.13 692.34 L1370.76 689.4 L1372.38 686.25 L1374.01 683.17 L1375.64 680.42 L1377.26 678.26 L1378.89 676.68 L1380.52 675.21 L1382.15 674 L1383.77 673.29 L1385.4 673.17 L1387.03 673.17 L1388.66 673.17 L1390.28 673.18 L1391.91 673.5 L1393.54 674.3 L1395.17 675.5 L1396.79 677 L1398.42 678.71 L1400.05 680.55 L1401.67 682.42 L1403.3 684.25 L1404.93 686.22 L1406.56 688.46 L1408.18 690.96 L1409.81 693.69 L1411.44 696.64 L1413.07 700.06 L1414.69 704.15 L1416.32 708.68 L1417.95 713.36 L1419.57 717.94 L1421.2 722.15 L1422.83 725.74 L1424.46 728.89 L1426.08 731.79 L1427.71 734.55 L1429.34 737.24 L1430.97 739.96 L1432.59 742.59 L1434.22 745.1 L1435.85 747.72 L1437.47 750.67 L1439.1 754.26 L1440.73 758.41 L1442.36 762.84 L1443.98 767.26 L1445.61 771.35 L1447.24 775.08 L1448.87 778.9 L1450.49 782.59 L1452.12 785.89 L1453.75 788.53 L1455.37 790.34 L1457 791.8 L1458.63 793.08 L1460.26 794.19 L1461.88 795.18 L1463.51 796.07 L1465.14 796.9 L1466.77 797.69 L1468.39 798.46 L1470.02 799.19 L1471.65 799.88 L1473.27 800.53 L1474.9 801.14 L1476.53 801.73 L1478.16 802.29 L1479.78 802.84 L1481.41 803.37 L1483.04 803.9 L1484.67 804.43 L1486.29 804.95 L1487.92 805.46 L1489.55 805.97 L1491.17 806.46 L1492.8 806.94 L1494.43 807.42 L1496.06 807.88 L1497.68 808.33 L1499.31 808.77 L1500.94 809.19 L1502.57 809.6 L1504.19 810" fill="none" stroke="#F8766D" stroke-width="2.8" stroke-linejoin="round" stroke-linecap="butt"/>
<path d="M1277.69 810 L1278.84 809.71 L1279.98 809.36 L1281.13 808.95 L1282.28 808.48 L1283.42 807.96 L1284.57 807.4 L1285.72 806.78 L1286.87 806.13 L1288.01 805.43 L1289.16 804.7 L1290.31 803.93 L1291.45 803.13 L1292.6 802.31 L1293.75 801.46 L1294.9 800.59 L1296.04 799.71 L1297.19 798.81 L1298.34 797.89 L1299.48 796.91 L1300.63 795.83 L1301.78 794.67 L1302.93 793.43 L1304.07 792.12 L1305.22 790.74 L1306.37 789.3 L1307.51 787.81 L1308.66 786.27 L1309.81 784.68 L1310.96 783.06 L1312.1 781.43 L1313.25 779.8 L1314.4 778.12 L1315.54 776.36 L1316.69 774.48 L1317.84 772.43 L1318.99 770.17 L1320.13 767.67 L1321.28 764.88 L1322.43 761.62 L1323.57 757.25 L1324.72 751.91 L1325.87 745.89 L1327.02 739.45 L1328.16 732.86 L1329.31 726.38 L1330.46 720.29 L1331.6 713.95 L1332.75 707.19 L1333.9 700.73 L1335.05 695.3 L1336.19 691.58 L1337.34 689.06 L1338.49 687.09 L1339.63 685.16 L1340.78 682.74 L1341.93 679.4 L1343.08 675.13 L1344.22 670.17 L1345.37 664.77 L1346.52 659.19 L1347.66 653.66 L1348.81 647.54 L1349.96 640.78 L1351.11 634.17 L1352.25 628.54 L1353.4 624.54 L1354.55 621.01 L1355.69 617.61 L1356.84 614.42 L1357.99 611.56 L1359.14 609.11 L1360.28 607.18 L1361.43 605.85 L1362.58 605.23 L1363.72 605.32 L1364.87 605.86 L1366.02 606.78 L1367.17 608 L1368.31 609.45 L1369.46 611.07 L1370.61 612.78 L1371.75 614.83 L1372.9 617.61 L1374.05 621 L1375.2 624.84 L1376.34 628.97 L1377.49 633.27 L1378.64 638.32 L1379.78 644.13 L1380.93 650.33 L1382.08 656.57 L1383.23 662.49 L1384.37 667.8 L1385.52 672.67 L1386.67 677.35 L1387.81 682.06 L1388.96 687.03 L1390.11 692.5 L1391.26 698.94 L1392.4 706.14 L1393.55 713.27 L1394.7 719.48 L1395.84 725.08 L1396.99 730.38 L1398.14 735.38 L1399.29 740.08 L1400.43 744.46 L1401.58 748.56 L1402.73 752.48 L1403.87 756.22 L1405.02 759.79 L1406.17 763.18 L1407.32 766.38 L1408.46 769.4 L1409.61 772.22 L1410.76 774.88 L1411.9 777.41 L1413.05 779.81 L1414.2 782.09 L1415.35 784.26 L1416.49 786.33 L1417.64 788.3 L1418.79 790.23 L1419.93 792.2 L1421.08 794.19 L1422.23 796.14 L1423.38 798.01 L1424.52 799.74 L1425.67 801.29 L1426.82 802.6 L1427.96 803.61 L1429.11 804.3 L1430.26 804.81 L1431.41 805.27 L1432.55 805.68 L1433.7 806.03 L1434.85 806.35 L1435.99 806.64 L1437.14 806.89 L1438.29 807.13 L1439.44 807.35 L1440.58 807.56 L1441.73 807.77 L1442.88 807.98 L1444.02 808.19 L1445.17 808.39 L1446.32 808.58 L1447.47 808.77 L1448.61 808.94 L1449.76 809.11 L1450.91 809.27 L1452.05 809.41 L1453.2 809.55 L1454.35 809.66 L1455.5 809.77 L1456.64 809.85 L1457.79 809.92 L1458.94 809.97 L1460.08 810 L1460.08 810 L1277.69 810 Z" fill="#00BA38" fill-opacity="0.26" stroke="none"/>
<path d="M1277.69 810 L1278.84 809.71 L1279.98 809.36 L1281.13 808.95 L1282.28 808.48 L1283.42 807.96 L1284.57 807.4 L1285.72 806.78 L1286.87 806.13 L1288.01 805.43 L1289.16 804.7 L1290.31 803.93 L1291.45 803.13 L1292.6 802.31 L1293.75 801.46 L1294.9 800.59 L1296.04 799.71 L1297.19 798.81 L1298.34 797.89 L1299.48 796.91 L1300.63 795.83 L1301.78 794.67 L1302.93 793.43 L1304.07 792.12 L1305.22 790.74 L1306.37 789.3 L1307.51 787.81 L1308.66 786.27 L1309.81 784.68 L1310.96 783.06 L1312.1 781.43 L1313.25 779.8 L1314.4 778.12 L1315.54 776.36 L1316.69 774.48 L1317.84 772.43 L1318.99 770.17 L1320.13 767.67 L1321.28 764.88 L1322.43 761.62 L1323.57 757.25 L1324.72 751.91 L1325.87 745.89 L1327.02 739.45 L1328.16 732.86 L1329.31 726.38 L1330.46 720.29 L1331.6 713.95 L1332.75 707.19 L1333.9 700.73 L1335.05 695.3 L1336.19 691.58 L1337.34 689.06 L1338.49 687.09 L1339.63 685.16 L1340.78 682.74 L1341.93 679.4 L1343.08 675.13 L1344.22 670.17 L1345.37 664.77 L1346.52 659.19 L1347.66 653.66 L1348.81 647.54 L1349.96 640.78 L1351.11 634.17 L1352.25 628.54 L1353.4 624.54 L1354.55 621.01 L1355.69 617.61 L1356.84 614.42 L1357.99 611.56 L1359.14 609.11 L1360.28 607.18 L1361.43 605.85 L1362.58 605.23 L1363.72 605.32 L1364.87 605.86 L1366.02 606.78 L1367.17 608 L1368.31 609.45 L1369.46 611.07 L1370.61 612.78 L1371.75 614.83 L1372.9 617.61 L1374.05 621 L1375.2 624.84 L1376.34 628.97 L1377.49 633.27 L1378.64 638.32 L1379.78 644.13 L1380.93 650.33 L1382.08 656.57 L1383.23 662.49 L1384.37 667.8 L1385.52 672.67 L1386.67 677.35 L1387.81 682.06 L1388.96 687.03 L1390.11 692.5 L1391.26 698.94 L1392.4 706.14 L1393.55 713.27 L1394.7 719.48 L1395.84 725.08 L1396.99 730.38 L1398.14 735.38 L1399.29 740.08 L1400.43 744.46 L1401.58 748.56 L1402.73 752.48 L1403.87 756.22 L1405.02 759.79 L1406.17 763.18 L1407.32 766.38 L1408.46 769.4 L1409.61 772.22 L1410.76 774.88 L1411.9 777.41 L1413.05 779.81 L1414.2 782.09 L1415.35 784.26 L1416.49 786.33 L1417.64 788.3 L1418.79 790.23 L1419.93 792.2 L1421.08 794.19 L1422.23 796.14 L1423.38 798.01 L1424.52 799.74 L1425.67 801.29 L1426.82 802.6 L1427.96 803.61 L1429.11 804.3 L1430.26 804.81 L1431.41 805.27 L1432.55 805.68 L1433.7 806.03 L1434.85 806.35 L1435.99 806.64 L1437.14 806.89 L1438.29 807.13 L1439.44 807.35 L1440.58 807.56 L1441.73 807.77 L1442.88 807.98 L1444.02 808.19 L1445.17 808.39 L1446.32 808.58 L1447.47 808.77 L1448.61 808.94 L1449.76 809.11 L1450.91 809.27 L1452.05 809.41 L1453.2 809.55 L1454.35 809.66 L1455.5 809.77 L1456.64 809.85 L1457.79 809.92 L1458.94 809.97 L1460.08 810" fill="none" stroke="#00BA38" stroke-width="2.8" stroke-linejoin="round" stroke-linecap="butt"/>
<path d="M1283 810 L1284.08 809.61 L1285.16 809.16 L1286.24 808.65 L1287.31 808.09 L1288.39 807.48 L1289.47 806.82 L1290.55 806.11 L1291.63 805.35 L1292.71 804.56 L1293.79 803.72 L1294.87 802.85 L1295.95 801.94 L1297.03 801 L1298.11 800.04 L1299.19 799.04 L1300.27 798.02 L1301.35 796.98 L1302.43 795.92 L1303.51 794.85 L1304.59 793.76 L1305.67 792.65 L1306.75 791.52 L1307.83 790.36 L1308.91 789.16 L1309.99 787.9 L1311.07 786.58 L1312.15 785.19 L1313.23 783.71 L1314.31 782.14 L1315.39 780.47 L1316.47 778.68 L1317.55 776.77 L1318.63 774.73 L1319.71 772.55 L1320.79 770.21 L1321.87 767.7 L1322.95 764.44 L1324.03 760.15 L1325.11 755.13 L1326.19 749.66 L1327.27 744.01 L1328.35 738.48 L1329.43 733.34 L1330.51 728.87 L1331.59 724.99 L1332.67 721.41 L1333.75 717.98 L1334.83 714.55 L1335.91 710.96 L1336.99 707.06 L1338.07 702.95 L1339.15 698.73 L1340.23 694.36 L1341.31 689.85 L1342.39 685.19 L1343.47 680.35 L1344.55 675.33 L1345.63 670.09 L1346.71 663.71 L1347.79 656.37 L1348.87 648.92 L1349.95 642.19 L1351.03 637.02 L1352.11 634.18 L1353.19 632.53 L1354.26 631.21 L1355.34 630.14 L1356.42 629.23 L1357.5 628.4 L1358.58 627.57 L1359.66 626.65 L1360.74 625.57 L1361.82 624.26 L1362.9 622.77 L1363.98 621.21 L1365.06 619.64 L1366.14 618.18 L1367.22 616.9 L1368.3 615.89 L1369.38 615.26 L1370.46 615.09 L1371.54 615.67 L1372.62 617.06 L1373.7 619.09 L1374.78 621.62 L1375.86 624.49 L1376.94 627.58 L1378.02 630.71 L1379.1 633.75 L1380.18 636.75 L1381.26 640.09 L1382.34 643.73 L1383.42 647.59 L1384.5 651.61 L1385.58 655.69 L1386.66 659.78 L1387.74 663.79 L1388.82 667.7 L1389.9 671.61 L1390.98 675.53 L1392.06 679.49 L1393.14 683.5 L1394.22 687.58 L1395.3 691.75 L1396.38 696.03 L1397.46 700.49 L1398.54 705.2 L1399.62 710.05 L1400.7 714.92 L1401.78 719.69 L1402.86 724.26 L1403.94 728.59 L1405.02 732.85 L1406.1 737.01 L1407.18 741.1 L1408.26 745.11 L1409.34 749.04 L1410.42 752.9 L1411.5 756.68 L1412.58 760.45 L1413.66 764.24 L1414.74 768.01 L1415.82 771.7 L1416.9 775.26 L1417.98 778.64 L1419.06 781.79 L1420.14 784.65 L1421.21 787.34 L1422.29 790.06 L1423.37 792.72 L1424.45 795.24 L1425.53 797.52 L1426.61 799.48 L1427.69 801.03 L1428.77 802.07 L1429.85 802.76 L1430.93 803.37 L1432.01 803.93 L1433.09 804.44 L1434.17 804.9 L1435.25 805.31 L1436.33 805.69 L1437.41 806.04 L1438.49 806.36 L1439.57 806.66 L1440.65 806.94 L1441.73 807.2 L1442.81 807.46 L1443.89 807.72 L1444.97 807.97 L1446.05 808.24 L1447.13 808.51 L1448.21 808.76 L1449.29 809 L1450.37 809.23 L1451.45 809.44 L1452.53 809.64 L1453.61 809.83 L1454.69 810 L1454.69 810 L1283 810 Z" fill="#619CFF" fill-opacity="0.26" stroke="none"/>
<path d="M1283 810 L1284.08 809.61 L1285.16 809.16 L1286.24 808.65 L1287.31 808.09 L1288.39 807.48 L1289.47 806.82 L1290.55 806.11 L1291.63 805.35 L1292.71 804.56 L1293.79 803.72 L1294.87 802.85 L1295.95 801.94 L1297.03 801 L1298.11 800.04 L1299.19 799.04 L1300.27 798.02 L1301.35 796.98 L1302.43 795.92 L1303.51 794.85 L1304.59 793.76 L1305.67 792.65 L1306.75 791.52 L1307.83 790.36 L1308.91 789.16 L1309.99 787.9 L1311.07 786.58 L1312.15 785.19 L1313.23 783.71 L1314.31 782.14 L1315.39 780.47 L1316.47 778.68 L1317.55 776.77 L1318.63 774.73 L1319.71 772.55 L1320.79 770.21 L1321.87 767.7 L1322.95 764.44 L1324.03 760.15 L1325.11 755.13 L1326.19 749.66 L1327.27 744.01 L1328.35 738.48 L1329.43 733.34 L1330.51 728.87 L1331.59 724.99 L1332.67 721.41 L1333.75 717.98 L1334.83 714.55 L1335.91 710.96 L1336.99 707.06 L1338.07 702.95 L1339.15 698.73 L1340.23 694.36 L1341.31 689.85 L1342.39 685.19 L1343.47 680.35 L1344.55 675.33 L1345.63 670.09 L1346.71 663.71 L1347.79 656.37 L1348.87 648.92 L1349.95 642.19 L1351.03 637.02 L1352.11 634.18 L1353.19 632.53 L1354.26 631.21 L1355.34 630.14 L1356.42 629.23 L1357.5 628.4 L1358.58 627.57 L1359.66 626.65 L1360.74 625.57 L1361.82 624.26 L1362.9 622.77 L1363.98 621.21 L1365.06 619.64 L1366.14 618.18 L1367.22 616.9 L1368.3 615.89 L1369.38 615.26 L1370.46 615.09 L1371.54 615.67 L1372.62 617.06 L1373.7 619.09 L1374.78 621.62 L1375.86 624.49 L1376.94 627.58 L1378.02 630.71 L1379.1 633.75 L1380.18 636.75 L1381.26 640.09 L1382.34 643.73 L1383.42 647.59 L1384.5 651.61 L1385.58 655.69 L1386.66 659.78 L1387.74 663.79 L1388.82 667.7 L1389.9 671.61 L1390.98 675.53 L1392.06 679.49 L1393.14 683.5 L1394.22 687.58 L1395.3 691.75 L1396.38 696.03 L1397.46 700.49 L1398.54 705.2 L1399.62 710.05 L1400.7 714.92 L1401.78 719.69 L1402.86 724.26 L1403.94 728.59 L1405.02 732.85 L1406.1 737.01 L1407.18 741.1 L1408.26 745.11 L1409.34 749.04 L1410.42 752.9 L1411.5 756.68 L1412.58 760.45 L1413.66 764.24 L1414.74 768.01 L1415.82 771.7 L1416.9 775.26 L1417.98 778.64 L1419.06 781.79 L1420.14 784.65 L1421.21 787.34 L1422.29 790.06 L1423.37 792.72 L1424.45 795.24 L1425.53 797.52 L1426.61 799.48 L1427.69 801.03 L1428.77 802.07 L1429.85 802.76 L1430.93 803.37 L1432.01 803.93 L1433.09 804.44 L1434.17 804.9 L1435.25 805.31 L1436.33 805.69 L1437.41 806.04 L1438.49 806.36 L1439.57 806.66 L1440.65 806.94 L1441.73 807.2 L1442.81 807.46 L1443.89 807.72 L1444.97 807.97 L1446.05 808.24 L1447.13 808.51 L1448.21 808.76 L1449.29 809 L1450.37 809.23 L1451.45 809.44 L1452.53 809.64 L1453.61 809.83 L1454.69 810" fill="none" stroke="#619CFF" stroke-width="2.8" stroke-linejoin="round" stroke-linecap="butt"/>
</g>
<rect x="1232.6" y="594.9" width="285.3" height="224.3" fill="none" stroke="#c0c0c0" stroke-width="1.8"/>
<rect x="1232.6" y="553.8" width="285.3" height="41.1" fill="#e3e3e3" stroke="#c0c0c0" stroke-width="1.8"/>
<text transform="translate(1299.61 581.48) scale(1.3267 1)" font-size="21.79" font-family='"Liberation Sans", Arial, sans-serif' fill="#1a1a1a" stroke="#1a1a1a" stroke-width="0.3">PRT vs. NH</text>
<path d="M1292 819.2 V826.7 M1379 819.2 V826.7 M1466 819.2 V826.7 M1225.1 810 H1232.6 M1225.1 751.9 H1232.6 M1225.1 693.8 H1232.6 M1225.1 635.7 H1232.6" stroke="#bcbcbc" stroke-width="2" fill="none"/>
<text transform="translate(1284.06 848.3) scale(1.2500 1)" font-size="22.8" font-family='"Liberation Sans", Arial, sans-serif' fill="#4d4d4d" stroke="#4d4d4d" stroke-width="0.5">0</text>
<text transform="translate(1363 848.3) scale(1.2500 1)" font-size="22.8" font-family='"Liberation Sans", Arial, sans-serif' fill="#4d4d4d" stroke="#4d4d4d" stroke-width="0.5">20</text>
<text transform="translate(1450.4 848.3) scale(1.2500 1)" font-size="22.8" font-family='"Liberation Sans", Arial, sans-serif' fill="#4d4d4d" stroke="#4d4d4d" stroke-width="0.5">40</text>
<text transform="translate(1160.64 817.84) scale(1.2500 1)" font-size="22.8" font-family='"Liberation Sans", Arial, sans-serif' fill="#4d4d4d" stroke="#4d4d4d" stroke-width="0.5">0.00</text>
<text transform="translate(1160.99 759.74) scale(1.2500 1)" font-size="22.8" font-family='"Liberation Sans", Arial, sans-serif' fill="#4d4d4d" stroke="#4d4d4d" stroke-width="0.5">0.02</text>
<text transform="translate(1160.35 701.64) scale(1.2500 1)" font-size="22.8" font-family='"Liberation Sans", Arial, sans-serif' fill="#4d4d4d" stroke="#4d4d4d" stroke-width="0.5">0.04</text>
<text transform="translate(1160.78 643.54) scale(1.2500 1)" font-size="22.8" font-family='"Liberation Sans", Arial, sans-serif' fill="#4d4d4d" stroke="#4d4d4d" stroke-width="0.5">0.06</text>
<text transform="translate(550.8 981.78) scale(1.2293 1)" font-size="31.84" font-family='"Liberation Sans", Arial, sans-serif' fill="#000" stroke="#000" stroke-width="0.4">Value</text>
<text transform="translate(46.31 540.09) scale(1.1519 1) rotate(-90)" font-size="32.58" font-family='"Liberation Sans", Arial, sans-serif' fill="#000" stroke="#000" stroke-width="0.4">Density</text>
<text transform="translate(1323.06 393.04) scale(1.0876 1)" font-size="25.71" font-family='"Liberation Sans", Arial, sans-serif' fill="#000" stroke="#000" stroke-width="0.3">Value</text>
<text transform="translate(1145.09 268.67) scale(1.0627 1) rotate(-90)" font-size="26.34" font-family='"Liberation Sans", Arial, sans-serif' fill="#000" stroke="#000" stroke-width="0.3">Density</text>
<text transform="translate(1333.13 878.65) scale(1.3780 1)" font-size="25.03" font-family='"Liberation Sans", Arial, sans-serif' fill="#000" stroke="#000" stroke-width="0.3">Value</text>
<text transform="translate(1147.98 753.13) scale(1.2703 1) rotate(-90)" font-size="27.02" font-family='"Liberation Sans", Arial, sans-serif' fill="#000" stroke="#000" stroke-width="0.3">Density</text>
<text transform="translate(880.18 926.73) scale(1.1139 1)" font-size="40.33" font-family='"Liberation Serif", "Times New Roman", serif' font-weight="bold" fill="#000">(A)</text>
<text transform="translate(1314.27 452.54) scale(1.1584 1)" font-size="40.77" font-family='"Liberation Serif", "Times New Roman", serif' font-weight="bold" fill="#000">(B)</text>
<text transform="translate(1308.19 926.92) scale(1.0294 1)" font-size="41.32" font-family='"Liberation Serif", "Times New Roman", serif' font-weight="bold" fill="#000">(C)</text>
<text transform="translate(843.67 668.67) scale(1.0283 1)" font-size="34.84" font-family='"Liberation Sans", Arial, sans-serif' fill="#000" stroke="#000" stroke-width="0.3">parameter</text>
<rect x="846.2" y="692.6" width="51.8" height="51" fill="#F8766D" fill-opacity="0.26" stroke="#F8766D" stroke-width="2.8"/>
<text transform="translate(917.94 728.42) scale(1.0652 1)" font-size="27.75" font-family='"Liberation Sans", Arial, sans-serif' fill="#000" stroke="#000" stroke-width="0.3">d_dir</text>
<rect x="846.2" y="747.5" width="51.8" height="50.5" fill="#00BA38" fill-opacity="0.26" stroke="#00BA38" stroke-width="2.8"/>
<text transform="translate(917.96 782.52) scale(1.0549 1)" font-size="27.75" font-family='"Liberation Sans", Arial, sans-serif' fill="#000" stroke="#000" stroke-width="0.3">d_ind</text>
<rect x="846.2" y="801.6" width="51.8" height="50.4" fill="#619CFF" fill-opacity="0.26" stroke="#619CFF" stroke-width="2.8"/>
<text transform="translate(917.98 836.72) scale(1.0373 1)" font-size="27.75" font-family='"Liberation Sans", Arial, sans-serif' fill="#000" stroke="#000" stroke-width="0.3">d_net</text>
<path d="M5 4.7 L1531.4 4.7" stroke="#7483ba" stroke-width="2.5" stroke-dasharray="5.8 2.2" stroke-dashoffset="0.2" fill="none"/>
<path d="M5 988.4 L1531.4 988.4" stroke="#7483ba" stroke-width="2.5" stroke-dasharray="5.8 2.2" stroke-dashoffset="1.2" fill="none"/>
<path d="M6 3.6 L6 989.5" stroke="#7483ba" stroke-width="2.5" stroke-dasharray="5.4 2.28" stroke-dashoffset="3.98" fill="none"/>
<path d="M1530.3 3.6 L1530.3 989.5" stroke="#7483ba" stroke-width="2.5" stroke-dasharray="5.4 2.28" stroke-dashoffset="3.88" fill="none"/>
<path d="M1102.8 0 L1105.2 999" stroke="#475ca6" stroke-width="2.2" stroke-dasharray="5.8 6.2 2.0 6.8" stroke-dashoffset="16.8" fill="none"/>
<path d="M1103.5 484.8 L1531 484.8" stroke="#475ca6" stroke-width="2.2" stroke-dasharray="7.2 6.5 2.0 6.3" stroke-dashoffset="0" fill="none"/>
</svg>
</body></html>
